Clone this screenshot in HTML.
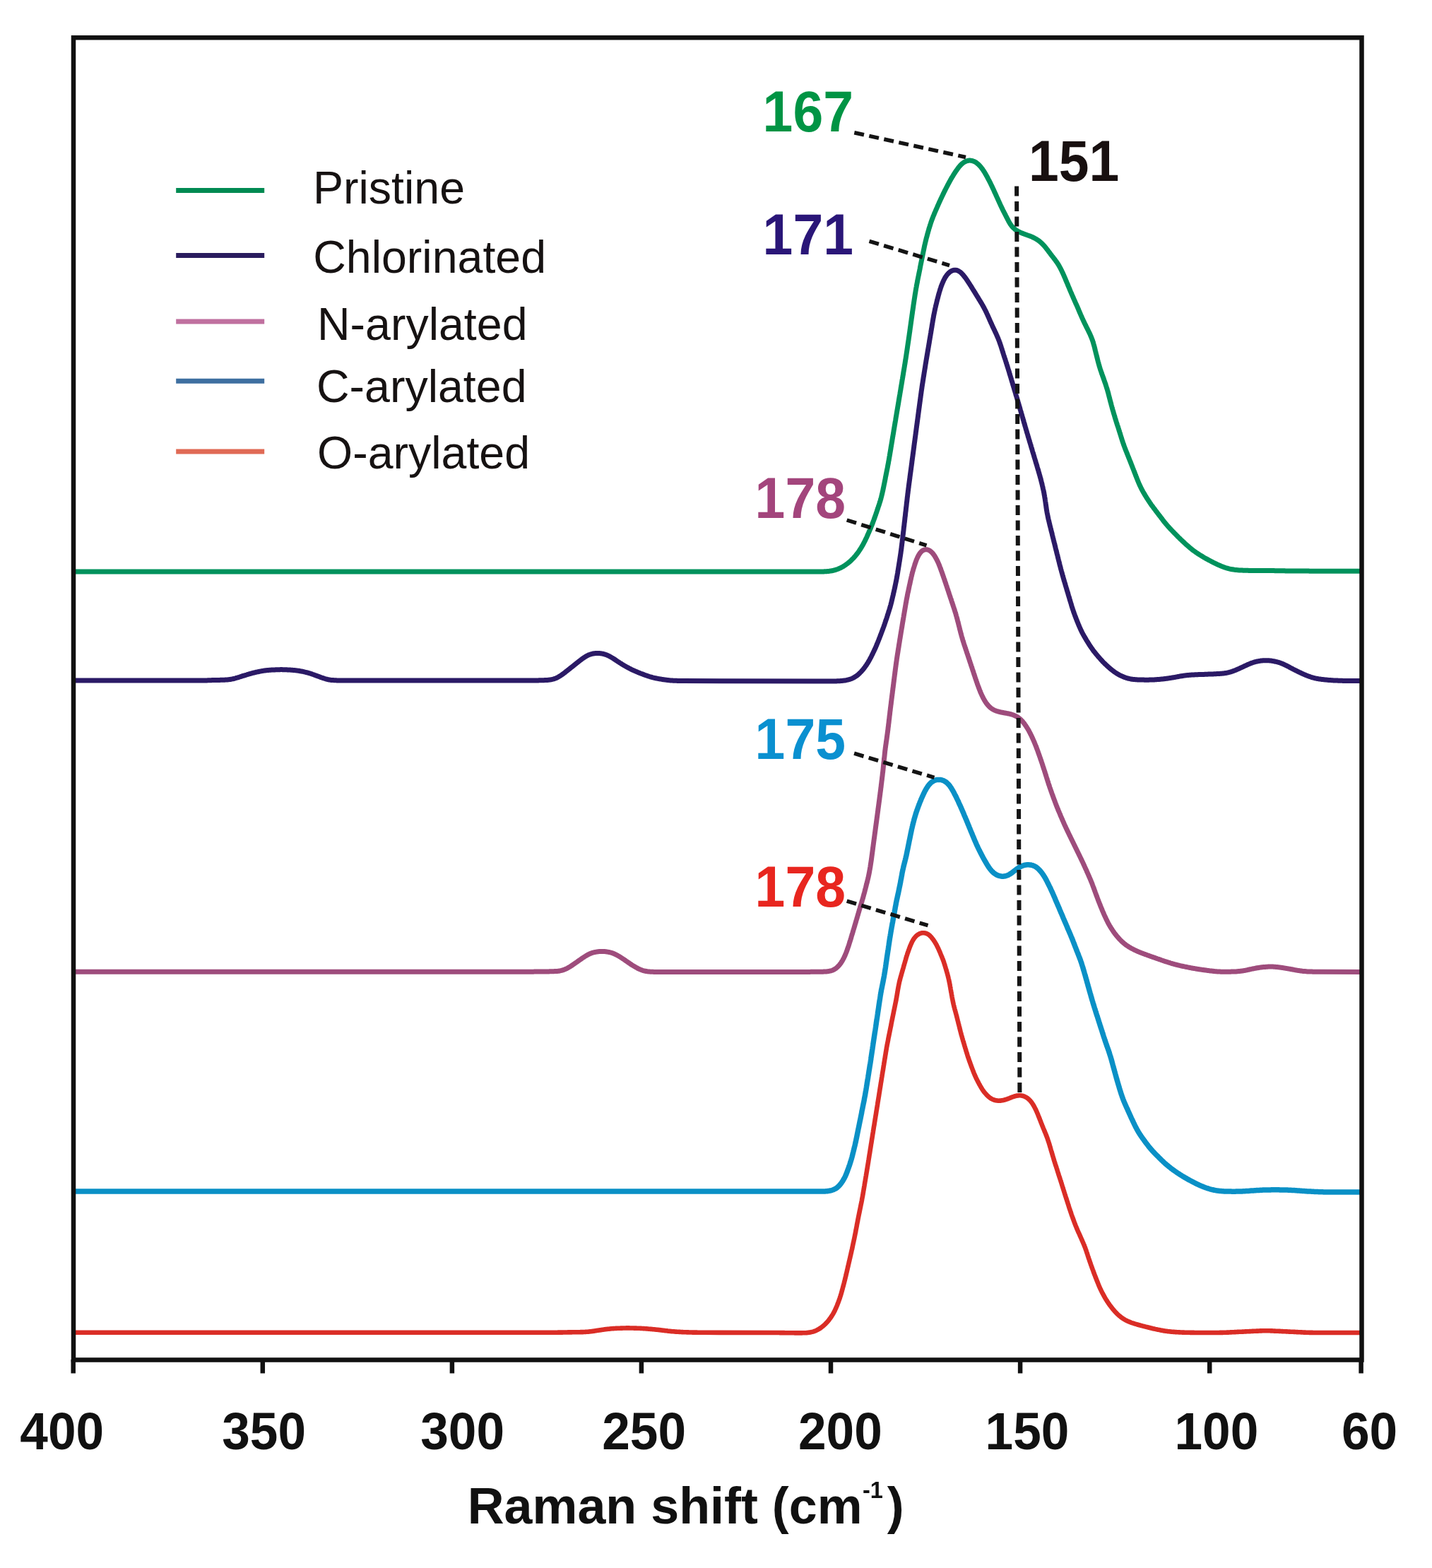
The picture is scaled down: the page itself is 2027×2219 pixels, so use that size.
<!DOCTYPE html>
<html><head><meta charset="utf-8"><title>Raman shift</title><style>html,body{margin:0;padding:0;background:#fff;overflow:hidden}svg{display:block}</style></head><body>
<svg width="2027" height="2219" viewBox="0 0 2027 2219">
<rect width="2027" height="2219" fill="#fff"/>
<path d="M104.0 809.0L1153.2 809.0L1153.7 809.0L1154.3 809.0L1154.9 809.0L1155.6 809.0L1156.3 809.0L1157.0 809.0L1157.8 809.0L1158.7 809.0L1159.5 809.0L1160.4 809.0L1161.3 809.0L1162.2 808.9L1163.2 808.9L1164.1 808.9L1165.1 808.9L1166.1 808.9L1167.0 808.8L1168.0 808.8L1169.0 808.7L1170.0 808.7L1171.0 808.6L1171.9 808.5L1172.9 808.4L1173.9 808.3L1174.9 808.1L1175.9 808.0L1176.8 807.8L1177.8 807.7L1178.8 807.5L1179.7 807.2L1180.7 807.0L1181.6 806.7L1182.6 806.5L1183.5 806.2L1184.4 805.8L1185.4 805.5L1186.3 805.2L1187.2 804.8L1188.1 804.4L1189.0 804.0L1189.9 803.6L1190.8 803.1L1191.6 802.7L1192.5 802.2L1193.4 801.7L1194.2 801.2L1195.0 800.7L1195.9 800.1L1196.7 799.6L1197.5 799.0L1198.3 798.4L1199.1 797.9L1199.9 797.3L1200.6 796.6L1201.4 796.0L1202.2 795.4L1202.9 794.7L1203.7 794.1L1204.4 793.4L1205.1 792.7L1205.8 792.0L1206.5 791.3L1207.2 790.6L1207.9 789.9L1208.6 789.2L1209.2 788.4L1209.9 787.7L1210.5 787.0L1211.2 786.2L1211.8 785.4L1212.4 784.6L1213.0 783.9L1213.6 783.1L1214.2 782.3L1214.8 781.5L1215.4 780.6L1215.9 779.8L1216.5 779.0L1217.0 778.2L1217.6 777.3L1218.1 776.5L1218.6 775.6L1219.2 774.8L1219.7 773.9L1220.2 773.1L1220.7 772.2L1221.2 771.4L1221.7 770.5L1222.1 769.6L1222.6 768.7L1223.1 767.8L1223.5 767.0L1224.0 766.1L1224.4 765.2L1224.9 764.3L1225.3 763.4L1225.7 762.5L1226.1 761.6L1226.6 760.7L1227.0 759.8L1227.4 758.9L1227.8 757.9L1228.2 757.0L1228.6 756.1L1229.0 755.2L1229.4 754.3L1229.8 753.4L1230.2 752.5L1230.6 751.5L1231.0 750.6L1231.4 749.7L1231.8 748.8L1232.2 747.9L1232.6 746.9L1232.9 746.0L1233.3 745.1L1233.7 744.2L1234.1 743.2L1234.4 742.3L1234.8 741.4L1235.2 740.4L1235.5 739.5L1235.9 738.6L1236.2 737.6L1236.6 736.7L1236.9 735.8L1237.3 734.8L1237.6 733.9L1237.9 732.9L1238.3 732.0L1238.6 731.0L1238.9 730.1L1239.3 729.2L1239.6 728.2L1239.9 727.3L1240.2 726.3L1240.6 725.4L1240.9 724.4L1241.2 723.5L1241.5 722.5L1241.8 721.6L1242.2 720.6L1242.5 719.7L1242.8 718.7L1243.1 717.8L1243.4 716.8L1243.7 715.9L1244.1 715.0L1244.4 714.0L1244.7 713.0L1245.0 712.1L1245.3 711.1L1245.6 710.2L1245.9 709.2L1246.2 708.3L1246.4 707.3L1246.7 706.4L1247.0 705.4L1247.2 704.4L1247.5 703.5L1247.7 702.5L1248.0 701.5L1248.2 700.6L1248.5 699.6L1248.7 698.6L1248.9 697.7L1249.1 696.7L1249.3 695.7L1249.6 694.7L1249.8 693.8L1250.0 692.8L1250.2 691.8L1250.4 690.8L1250.6 689.8L1250.8 688.9L1251.0 687.9L1251.2 686.9L1251.4 685.9L1251.6 684.9L1251.8 684.0L1252.0 683.0L1252.2 682.0L1252.4 681.0L1252.6 680.0L1252.8 679.1L1253.0 678.1L1253.2 677.1L1253.3 676.1L1253.5 675.1L1253.7 674.2L1253.9 673.2L1254.1 672.2L1254.3 671.2L1254.5 670.2L1254.7 669.3L1254.9 668.3L1255.1 667.3L1255.3 666.3L1255.5 665.3L1255.7 664.3L1255.9 663.4L1256.1 662.4L1256.3 661.4L1256.5 660.4L1256.6 659.4L1256.8 658.5L1257.0 657.5L1257.2 656.5L1257.4 655.5L1257.6 654.5L1257.7 653.5L1257.9 652.6L1258.1 651.6L1258.3 650.6L1258.4 649.6L1258.6 648.6L1258.8 647.6L1258.9 646.6L1259.1 645.7L1259.3 644.7L1259.4 643.7L1259.6 642.7L1259.8 641.7L1259.9 640.7L1260.1 639.7L1260.3 638.8L1260.4 637.8L1260.6 636.8L1260.8 635.8L1260.9 634.8L1261.1 633.8L1261.2 632.8L1261.4 631.8L1261.6 630.9L1261.7 629.9L1261.9 628.9L1262.1 627.9L1262.2 626.9L1262.4 625.9L1262.6 624.9L1262.7 624.0L1262.9 623.0L1263.0 622.0L1263.2 621.0L1263.4 620.0L1263.5 619.0L1263.7 618.0L1263.9 617.1L1264.0 616.1L1264.2 615.1L1264.4 614.1L1264.5 613.1L1264.7 612.1L1264.9 611.1L1265.0 610.1L1265.2 609.2L1265.3 608.2L1265.5 607.2L1265.7 606.2L1265.8 605.2L1266.0 604.2L1266.2 603.2L1266.3 602.3L1266.5 601.3L1266.7 600.3L1266.8 599.3L1267.0 598.3L1267.2 597.3L1267.3 596.3L1267.5 595.4L1267.7 594.4L1267.8 593.4L1268.0 592.4L1268.1 591.4L1268.3 590.4L1268.5 589.4L1268.6 588.4L1268.8 587.5L1269.0 586.5L1269.1 585.5L1269.3 584.5L1269.5 583.5L1269.6 582.5L1269.8 581.5L1270.0 580.6L1270.1 579.6L1270.3 578.6L1270.5 577.6L1270.6 576.6L1270.8 575.6L1271.0 574.6L1271.1 573.7L1271.3 572.7L1271.5 571.7L1271.6 570.7L1271.8 569.7L1272.0 568.7L1272.1 567.7L1272.3 566.8L1272.4 565.8L1272.6 564.8L1272.8 563.8L1272.9 562.8L1273.1 561.8L1273.3 560.8L1273.4 559.8L1273.6 558.9L1273.8 557.9L1273.9 556.9L1274.1 555.9L1274.3 554.9L1274.4 553.9L1274.6 552.9L1274.8 552.0L1274.9 551.0L1275.1 550.0L1275.2 549.0L1275.4 548.0L1275.6 547.0L1275.7 546.0L1275.9 545.0L1276.1 544.1L1276.2 543.1L1276.4 542.1L1276.6 541.1L1276.7 540.1L1276.9 539.1L1277.0 538.1L1277.2 537.2L1277.4 536.2L1277.5 535.2L1277.7 534.2L1277.9 533.2L1278.0 532.2L1278.2 531.2L1278.4 530.3L1278.5 529.3L1278.7 528.3L1278.8 527.3L1279.0 526.3L1279.2 525.3L1279.3 524.3L1279.5 523.3L1279.7 522.4L1279.8 521.4L1280.0 520.4L1280.2 519.4L1280.3 518.4L1280.5 517.4L1280.6 516.4L1280.8 515.5L1281.0 514.5L1281.1 513.5L1281.3 512.5L1281.4 511.5L1281.6 510.5L1281.7 509.5L1281.9 508.5L1282.1 507.6L1282.2 506.6L1282.4 505.6L1282.5 504.6L1282.7 503.6L1282.8 502.6L1283.0 501.6L1283.1 500.6L1283.3 499.6L1283.4 498.7L1283.6 497.7L1283.7 496.7L1283.9 495.7L1284.0 494.7L1284.2 493.7L1284.3 492.7L1284.5 491.7L1284.6 490.7L1284.7 489.8L1284.9 488.8L1285.0 487.8L1285.2 486.8L1285.3 485.8L1285.5 484.8L1285.6 483.8L1285.8 482.8L1285.9 481.8L1286.1 480.9L1286.2 479.9L1286.3 478.9L1286.5 477.9L1286.6 476.9L1286.8 475.9L1286.9 474.9L1287.1 473.9L1287.2 472.9L1287.3 471.9L1287.5 471.0L1287.6 470.0L1287.8 469.0L1287.9 468.0L1288.0 467.0L1288.2 466.0L1288.3 465.0L1288.4 464.0L1288.6 463.0L1288.7 462.0L1288.9 461.0L1289.0 460.1L1289.1 459.1L1289.3 458.1L1289.4 457.1L1289.5 456.1L1289.7 455.1L1289.8 454.1L1290.0 453.1L1290.1 452.1L1290.2 451.1L1290.4 450.2L1290.5 449.2L1290.7 448.2L1290.8 447.2L1290.9 446.2L1291.1 445.2L1291.2 444.2L1291.4 443.2L1291.5 442.2L1291.6 441.2L1291.8 440.3L1291.9 439.3L1292.1 438.3L1292.2 437.3L1292.4 436.3L1292.5 435.3L1292.7 434.3L1292.8 433.3L1292.9 432.3L1293.1 431.3L1293.2 430.4L1293.4 429.4L1293.5 428.4L1293.7 427.4L1293.8 426.4L1294.0 425.4L1294.1 424.4L1294.3 423.4L1294.4 422.4L1294.6 421.5L1294.7 420.5L1294.9 419.5L1295.0 418.5L1295.2 417.5L1295.3 416.5L1295.5 415.5L1295.7 414.5L1295.8 413.6L1296.0 412.6L1296.1 411.6L1296.3 410.6L1296.5 409.6L1296.6 408.6L1296.8 407.6L1297.0 406.7L1297.2 405.7L1297.3 404.7L1297.5 403.7L1297.7 402.7L1297.9 401.7L1298.1 400.8L1298.3 399.8L1298.5 398.8L1298.6 397.8L1298.8 396.8L1299.0 395.9L1299.2 394.9L1299.4 393.9L1299.6 392.9L1299.8 391.9L1300.0 390.9L1300.2 390.0L1300.4 389.0L1300.6 388.0L1300.8 387.0L1301.0 386.0L1301.2 385.1L1301.4 384.1L1301.6 383.1L1301.8 382.1L1302.0 381.1L1302.2 380.2L1302.3 379.2L1302.5 378.2L1302.7 377.2L1302.9 376.2L1303.1 375.3L1303.3 374.3L1303.5 373.3L1303.7 372.3L1303.9 371.3L1304.1 370.4L1304.3 369.4L1304.5 368.4L1304.7 367.4L1304.9 366.4L1305.1 365.4L1305.3 364.5L1305.5 363.5L1305.7 362.5L1305.9 361.5L1306.1 360.5L1306.3 359.6L1306.5 358.6L1306.7 357.6L1306.9 356.6L1307.1 355.6L1307.3 354.7L1307.5 353.7L1307.7 352.7L1307.9 351.7L1308.1 350.8L1308.3 349.8L1308.5 348.8L1308.7 347.8L1308.9 346.8L1309.2 345.9L1309.4 344.9L1309.6 343.9L1309.8 343.0L1310.1 342.0L1310.3 341.0L1310.5 340.0L1310.8 339.1L1311.0 338.1L1311.3 337.1L1311.5 336.2L1311.8 335.2L1312.1 334.2L1312.3 333.3L1312.6 332.3L1312.8 331.3L1313.1 330.4L1313.4 329.4L1313.6 328.5L1313.9 327.5L1314.2 326.5L1314.5 325.6L1314.7 324.6L1315.0 323.6L1315.3 322.7L1315.6 321.7L1315.9 320.8L1316.2 319.8L1316.5 318.9L1316.8 317.9L1317.1 317.0L1317.4 316.0L1317.7 315.1L1318.0 314.1L1318.4 313.2L1318.7 312.2L1319.0 311.3L1319.4 310.4L1319.7 309.4L1320.1 308.5L1320.5 307.6L1320.8 306.6L1321.2 305.7L1321.6 304.8L1322.0 303.9L1322.3 302.9L1322.7 302.0L1323.1 301.1L1323.5 300.2L1323.9 299.3L1324.3 298.3L1324.7 297.4L1325.1 296.5L1325.5 295.6L1325.9 294.7L1326.3 293.8L1326.7 292.8L1327.1 291.9L1327.5 291.0L1327.9 290.1L1328.3 289.2L1328.7 288.3L1329.1 287.4L1329.5 286.5L1329.9 285.5L1330.4 284.6L1330.8 283.7L1331.2 282.8L1331.6 281.9L1332.0 281.0L1332.5 280.1L1332.9 279.2L1333.3 278.3L1333.7 277.4L1334.2 276.5L1334.6 275.6L1335.0 274.7L1335.5 273.8L1335.9 272.9L1336.3 272.0L1336.8 271.1L1337.2 270.2L1337.7 269.3L1338.1 268.4L1338.6 267.5L1339.0 266.6L1339.5 265.7L1339.9 264.8L1340.4 264.0L1340.9 263.1L1341.3 262.2L1341.8 261.3L1342.3 260.4L1342.8 259.5L1343.2 258.7L1343.7 257.8L1344.2 256.9L1344.7 256.0L1345.2 255.2L1345.6 254.3L1346.1 253.4L1346.6 252.6L1347.1 251.7L1347.6 250.8L1348.2 250.0L1348.7 249.1L1349.2 248.3L1349.7 247.4L1350.2 246.6L1350.8 245.7L1351.3 244.9L1351.9 244.1L1352.4 243.2L1353.0 242.4L1353.5 241.6L1354.1 240.8L1354.7 240.0L1355.3 239.2L1355.8 238.4L1356.4 237.6L1357.0 236.8L1357.7 236.0L1358.3 235.3L1358.9 234.6L1359.6 233.8L1360.2 233.2L1360.9 232.5L1361.6 231.9L1362.3 231.2L1363.1 230.7L1363.8 230.1L1364.6 229.6L1365.4 229.2L1366.2 228.7L1367.0 228.4L1367.8 228.0L1368.6 227.8L1369.5 227.5L1370.3 227.3L1371.2 227.2L1372.1 227.1L1372.9 227.1L1373.8 227.2L1374.7 227.3L1375.5 227.4L1376.4 227.6L1377.2 227.9L1378.1 228.2L1378.9 228.5L1379.7 228.9L1380.5 229.3L1381.3 229.8L1382.1 230.3L1382.8 230.9L1383.5 231.5L1384.3 232.1L1385.0 232.7L1385.7 233.4L1386.3 234.1L1387.0 234.8L1387.6 235.5L1388.3 236.3L1388.9 237.0L1389.5 237.8L1390.1 238.6L1390.7 239.4L1391.2 240.2L1391.8 241.0L1392.3 241.8L1392.9 242.7L1393.4 243.5L1393.9 244.4L1394.4 245.2L1394.9 246.1L1395.4 246.9L1395.9 247.8L1396.4 248.7L1396.9 249.6L1397.4 250.4L1397.8 251.3L1398.3 252.2L1398.8 253.1L1399.2 254.0L1399.7 254.8L1400.2 255.7L1400.6 256.6L1401.1 257.5L1401.5 258.4L1402.0 259.3L1402.4 260.2L1402.8 261.1L1403.3 262.0L1403.7 262.9L1404.1 263.8L1404.6 264.7L1405.0 265.6L1405.4 266.5L1405.8 267.4L1406.3 268.3L1406.7 269.2L1407.1 270.2L1407.5 271.1L1407.9 272.0L1408.3 272.9L1408.8 273.8L1409.2 274.7L1409.6 275.6L1410.0 276.5L1410.4 277.4L1410.8 278.3L1411.2 279.2L1411.7 280.2L1412.1 281.1L1412.5 282.0L1412.9 282.9L1413.3 283.8L1413.7 284.7L1414.1 285.6L1414.5 286.5L1415.0 287.4L1415.4 288.4L1415.8 289.3L1416.2 290.2L1416.6 291.1L1417.1 292.0L1417.5 292.9L1417.9 293.8L1418.4 294.7L1418.8 295.6L1419.2 296.5L1419.7 297.4L1420.1 298.3L1420.6 299.1L1421.0 300.0L1421.5 300.9L1421.9 301.8L1422.4 302.7L1422.9 303.6L1423.3 304.5L1423.8 305.4L1424.2 306.3L1424.7 307.1L1425.1 308.0L1425.6 308.9L1426.0 309.8L1426.5 310.7L1426.9 311.5L1427.4 312.4L1427.8 313.3L1428.3 314.1L1428.8 315.0L1429.3 315.8L1429.8 316.6L1430.3 317.5L1430.9 318.2L1431.4 319.0L1432.0 319.8L1432.6 320.5L1433.2 321.2L1433.9 321.9L1434.6 322.6L1435.3 323.2L1436.0 323.9L1436.7 324.5L1437.5 325.0L1438.3 325.6L1439.1 326.1L1439.9 326.6L1440.8 327.1L1441.6 327.6L1442.5 328.0L1443.4 328.5L1444.2 328.9L1445.1 329.3L1446.1 329.7L1447.0 330.1L1447.9 330.4L1448.8 330.8L1449.7 331.1L1450.7 331.5L1451.6 331.8L1452.5 332.1L1453.5 332.5L1454.4 332.8L1455.4 333.1L1456.3 333.5L1457.2 333.8L1458.1 334.2L1459.1 334.5L1460.0 334.9L1460.9 335.3L1461.8 335.7L1462.7 336.1L1463.6 336.6L1464.4 337.0L1465.3 337.5L1466.2 338.0L1467.0 338.5L1467.8 339.0L1468.7 339.5L1469.5 340.1L1470.3 340.7L1471.0 341.2L1471.8 341.9L1472.6 342.5L1473.3 343.1L1474.0 343.8L1474.8 344.5L1475.5 345.2L1476.2 345.9L1476.8 346.6L1477.5 347.3L1478.2 348.0L1478.8 348.8L1479.4 349.5L1480.1 350.3L1480.7 351.1L1481.3 351.9L1481.9 352.7L1482.5 353.4L1483.1 354.2L1483.7 355.0L1484.3 355.8L1484.9 356.6L1485.5 357.4L1486.1 358.2L1486.7 359.0L1487.3 359.8L1487.9 360.6L1488.5 361.4L1489.1 362.2L1489.8 363.0L1490.4 363.7L1491.0 364.5L1491.6 365.3L1492.2 366.1L1492.8 366.9L1493.4 367.7L1494.0 368.5L1494.6 369.3L1495.2 370.1L1495.7 370.9L1496.3 371.7L1496.8 372.5L1497.4 373.3L1497.9 374.2L1498.4 375.0L1498.9 375.9L1499.4 376.7L1499.9 377.6L1500.4 378.5L1500.9 379.3L1501.3 380.2L1501.8 381.1L1502.2 382.0L1502.7 382.9L1503.1 383.8L1503.5 384.7L1504.0 385.6L1504.4 386.5L1504.8 387.4L1505.2 388.3L1505.6 389.2L1506.0 390.2L1506.4 391.1L1506.8 392.0L1507.2 392.9L1507.6 393.8L1508.0 394.7L1508.4 395.7L1508.7 396.6L1509.1 397.5L1509.5 398.4L1509.9 399.4L1510.3 400.3L1510.7 401.2L1511.1 402.1L1511.4 403.0L1511.8 404.0L1512.2 404.9L1512.6 405.8L1513.0 406.7L1513.4 407.7L1513.8 408.6L1514.1 409.5L1514.5 410.4L1514.9 411.3L1515.3 412.3L1515.7 413.2L1516.1 414.1L1516.5 415.0L1516.9 415.9L1517.3 416.9L1517.7 417.8L1518.1 418.7L1518.5 419.6L1518.9 420.5L1519.3 421.4L1519.7 422.4L1520.1 423.3L1520.5 424.2L1520.9 425.1L1521.3 426.0L1521.7 426.9L1522.1 427.8L1522.5 428.7L1522.9 429.7L1523.4 430.6L1523.8 431.5L1524.2 432.4L1524.6 433.3L1525.0 434.2L1525.4 435.2L1525.8 436.1L1526.2 437.0L1526.6 437.9L1526.9 438.8L1527.3 439.7L1527.7 440.7L1528.1 441.6L1528.5 442.5L1528.9 443.4L1529.3 444.3L1529.7 445.3L1530.1 446.2L1530.5 447.1L1530.9 448.0L1531.3 448.9L1531.7 449.8L1532.1 450.7L1532.6 451.6L1533.0 452.6L1533.4 453.5L1533.8 454.4L1534.2 455.3L1534.7 456.2L1535.1 457.1L1535.5 458.0L1536.0 458.9L1536.4 459.8L1536.9 460.7L1537.3 461.6L1537.7 462.5L1538.2 463.4L1538.6 464.2L1539.1 465.1L1539.5 466.0L1540.0 466.9L1540.4 467.8L1540.8 468.7L1541.3 469.6L1541.7 470.5L1542.1 471.4L1542.6 472.3L1543.0 473.2L1543.4 474.1L1543.8 475.1L1544.2 476.0L1544.6 476.9L1544.9 477.8L1545.3 478.7L1545.7 479.7L1546.0 480.6L1546.3 481.5L1546.7 482.5L1547.0 483.4L1547.3 484.4L1547.6 485.3L1547.8 486.3L1548.1 487.2L1548.4 488.2L1548.6 489.1L1548.9 490.1L1549.2 491.1L1549.4 492.0L1549.7 493.0L1549.9 494.0L1550.1 494.9L1550.4 495.9L1550.6 496.9L1550.9 497.9L1551.1 498.8L1551.3 499.8L1551.6 500.8L1551.8 501.7L1552.1 502.7L1552.3 503.7L1552.5 504.6L1552.8 505.6L1553.0 506.6L1553.3 507.6L1553.5 508.5L1553.8 509.5L1554.0 510.5L1554.3 511.4L1554.5 512.4L1554.8 513.4L1555.1 514.3L1555.3 515.3L1555.6 516.2L1555.9 517.2L1556.1 518.2L1556.4 519.1L1556.7 520.1L1557.0 521.0L1557.3 522.0L1557.6 522.9L1557.9 523.9L1558.3 524.8L1558.6 525.8L1558.9 526.7L1559.2 527.7L1559.5 528.6L1559.9 529.6L1560.2 530.5L1560.5 531.4L1560.9 532.4L1561.2 533.3L1561.6 534.3L1561.9 535.2L1562.2 536.1L1562.6 537.1L1562.9 538.0L1563.2 539.0L1563.6 539.9L1563.9 540.9L1564.2 541.8L1564.6 542.7L1564.9 543.7L1565.2 544.6L1565.5 545.6L1565.8 546.5L1566.1 547.5L1566.4 548.4L1566.7 549.4L1567.0 550.3L1567.3 551.3L1567.6 552.3L1567.9 553.2L1568.1 554.2L1568.4 555.1L1568.7 556.1L1568.9 557.1L1569.2 558.0L1569.4 559.0L1569.7 560.0L1569.9 560.9L1570.2 561.9L1570.4 562.9L1570.7 563.8L1570.9 564.8L1571.2 565.8L1571.4 566.7L1571.7 567.7L1571.9 568.7L1572.2 569.6L1572.5 570.6L1572.7 571.6L1573.0 572.5L1573.2 573.5L1573.5 574.5L1573.8 575.4L1574.0 576.4L1574.3 577.4L1574.6 578.3L1574.8 579.3L1575.1 580.2L1575.4 581.2L1575.7 582.2L1576.0 583.1L1576.2 584.1L1576.5 585.0L1576.8 586.0L1577.1 587.0L1577.4 587.9L1577.7 588.9L1578.0 589.8L1578.2 590.8L1578.5 591.7L1578.8 592.7L1579.1 593.7L1579.4 594.6L1579.7 595.6L1580.0 596.5L1580.3 597.5L1580.6 598.4L1580.9 599.4L1581.2 600.3L1581.5 601.3L1581.8 602.2L1582.2 603.2L1582.5 604.1L1582.8 605.1L1583.1 606.0L1583.4 607.0L1583.7 608.0L1584.0 608.9L1584.3 609.9L1584.6 610.8L1584.9 611.8L1585.2 612.7L1585.5 613.7L1585.8 614.6L1586.1 615.6L1586.4 616.5L1586.7 617.5L1587.0 618.4L1587.3 619.4L1587.6 620.4L1587.9 621.3L1588.2 622.3L1588.5 623.2L1588.8 624.2L1589.1 625.1L1589.4 626.1L1589.8 627.0L1590.1 627.9L1590.4 628.9L1590.7 629.8L1591.1 630.8L1591.4 631.7L1591.8 632.6L1592.1 633.6L1592.5 634.5L1592.8 635.4L1593.2 636.4L1593.6 637.3L1593.9 638.2L1594.3 639.2L1594.7 640.1L1595.0 641.0L1595.4 642.0L1595.8 642.9L1596.2 643.8L1596.5 644.7L1596.9 645.7L1597.3 646.6L1597.6 647.5L1598.0 648.4L1598.4 649.4L1598.8 650.3L1599.1 651.2L1599.5 652.2L1599.9 653.1L1600.2 654.0L1600.6 654.9L1601.0 655.9L1601.3 656.8L1601.7 657.7L1602.1 658.7L1602.4 659.6L1602.8 660.5L1603.2 661.5L1603.5 662.4L1603.9 663.3L1604.3 664.3L1604.6 665.2L1605.0 666.1L1605.4 667.1L1605.7 668.0L1606.1 668.9L1606.4 669.8L1606.8 670.8L1607.2 671.7L1607.5 672.6L1607.9 673.6L1608.3 674.5L1608.6 675.4L1609.0 676.4L1609.4 677.3L1609.7 678.2L1610.1 679.1L1610.5 680.1L1610.9 681.0L1611.2 681.9L1611.6 682.8L1612.0 683.8L1612.4 684.7L1612.8 685.6L1613.2 686.5L1613.6 687.4L1614.1 688.3L1614.5 689.2L1614.9 690.1L1615.4 691.0L1615.8 691.9L1616.3 692.8L1616.8 693.6L1617.2 694.5L1617.7 695.4L1618.2 696.3L1618.7 697.1L1619.2 698.0L1619.7 698.9L1620.2 699.7L1620.7 700.6L1621.2 701.4L1621.8 702.3L1622.3 703.1L1622.8 704.0L1623.3 704.8L1623.9 705.7L1624.4 706.5L1625.0 707.3L1625.5 708.2L1626.1 709.0L1626.6 709.8L1627.2 710.7L1627.7 711.5L1628.3 712.3L1628.9 713.1L1629.4 714.0L1630.0 714.8L1630.6 715.6L1631.2 716.4L1631.8 717.2L1632.4 718.0L1633.0 718.8L1633.6 719.6L1634.2 720.4L1634.8 721.2L1635.4 722.0L1636.0 722.8L1636.6 723.6L1637.2 724.4L1637.8 725.2L1638.4 726.0L1639.0 726.8L1639.6 727.5L1640.2 728.3L1640.8 729.1L1641.4 729.9L1642.1 730.7L1642.7 731.5L1643.3 732.3L1643.9 733.1L1644.5 733.9L1645.1 734.7L1645.7 735.5L1646.3 736.3L1646.9 737.1L1647.5 737.9L1648.1 738.7L1648.8 739.4L1649.4 740.2L1650.0 741.0L1650.7 741.7L1651.3 742.5L1652.0 743.3L1652.6 744.0L1653.3 744.8L1653.9 745.5L1654.6 746.2L1655.3 747.0L1656.0 747.7L1656.6 748.4L1657.3 749.2L1658.0 749.9L1658.7 750.6L1659.4 751.3L1660.1 752.1L1660.8 752.8L1661.5 753.5L1662.2 754.2L1662.9 754.9L1663.6 755.6L1664.3 756.3L1665.0 757.1L1665.7 757.8L1666.4 758.5L1667.1 759.2L1667.8 759.9L1668.5 760.6L1669.2 761.3L1670.0 762.0L1670.7 762.7L1671.4 763.4L1672.1 764.1L1672.8 764.8L1673.5 765.5L1674.3 766.2L1675.0 766.8L1675.7 767.5L1676.5 768.2L1677.2 768.9L1677.9 769.6L1678.7 770.2L1679.4 770.9L1680.2 771.6L1680.9 772.2L1681.7 772.9L1682.4 773.5L1683.2 774.2L1683.9 774.8L1684.7 775.5L1685.5 776.1L1686.2 776.7L1687.0 777.3L1687.8 778.0L1688.6 778.6L1689.4 779.2L1690.2 779.8L1691.0 780.4L1691.8 780.9L1692.6 781.5L1693.5 782.1L1694.3 782.6L1695.1 783.2L1695.9 783.7L1696.8 784.3L1697.6 784.8L1698.5 785.4L1699.3 785.9L1700.2 786.4L1701.0 786.9L1701.9 787.4L1702.7 788.0L1703.6 788.5L1704.4 789.0L1705.3 789.5L1706.2 790.0L1707.0 790.5L1707.9 790.9L1708.8 791.4L1709.7 791.9L1710.5 792.4L1711.4 792.9L1712.3 793.3L1713.2 793.8L1714.1 794.3L1715.0 794.7L1715.9 795.2L1716.7 795.6L1717.6 796.1L1718.5 796.5L1719.4 797.0L1720.3 797.4L1721.2 797.8L1722.1 798.3L1723.0 798.7L1723.9 799.1L1724.8 799.5L1725.8 799.9L1726.7 800.3L1727.6 800.7L1728.5 801.1L1729.4 801.5L1730.4 801.8L1731.3 802.2L1732.2 802.5L1733.2 802.9L1734.1 803.2L1735.0 803.5L1736.0 803.8L1736.9 804.1L1737.9 804.3L1738.9 804.6L1739.8 804.8L1740.8 805.1L1741.7 805.3L1742.7 805.5L1743.7 805.7L1744.7 805.8L1745.7 806.0L1746.6 806.1L1747.6 806.3L1748.6 806.4L1749.6 806.5L1750.6 806.6L1751.6 806.7L1752.6 806.8L1753.6 806.9L1754.6 806.9L1755.6 807.0L1756.6 807.0L1757.6 807.1L1758.6 807.1L1759.5 807.2L1760.5 807.2L1761.5 807.3L1762.5 807.3L1763.5 807.3L1764.5 807.3L1765.5 807.3L1766.5 807.3L1767.5 807.4L1768.5 807.4L1769.5 807.4L1770.5 807.4L1771.5 807.4L1772.5 807.4L1773.5 807.4L1774.5 807.4L1775.5 807.4L1776.5 807.4L1777.5 807.4L1778.5 807.4L1779.5 807.4L1780.5 807.4L1781.5 807.4L1782.5 807.4L1783.5 807.4L1784.5 807.4L1785.5 807.4L1786.5 807.4L1787.5 807.4L1788.5 807.4L1789.5 807.5L1790.5 807.5L1791.5 807.5L1792.5 807.5L1793.5 807.5L1794.5 807.5L1795.5 807.5L1796.5 807.5L1797.5 807.6L1798.5 807.6L1799.5 807.6L1800.5 807.6L1801.5 807.6L1802.5 807.6L1803.5 807.6L1804.5 807.7L1805.5 807.7L1806.5 807.7L1807.5 807.7L1808.5 807.7L1809.5 807.7L1810.5 807.7L1811.5 807.8L1812.5 807.8L1813.5 807.8L1814.5 807.8L1815.5 807.8L1816.5 807.8L1817.5 807.8L1818.5 807.8L1819.5 807.9L1820.5 807.9L1821.5 807.9L1822.5 807.9L1823.5 807.9L1824.5 807.9L1825.5 807.9L1826.5 807.9L1827.5 808.0L1828.5 808.0L1829.5 808.0L1830.5 808.0L1831.5 808.0L1832.5 808.0L1833.5 808.0L1834.5 808.0L1835.5 808.0L1836.5 808.0L1837.5 808.0L1838.5 808.1L1839.5 808.1L1840.5 808.1L1841.5 808.1L1842.5 808.1L1843.5 808.1L1844.5 808.1L1845.5 808.1L1846.5 808.1L1847.5 808.1L1848.5 808.1L1849.5 808.1L1850.5 808.1L1851.5 808.1L1852.5 808.1L1853.5 808.2L1854.5 808.2L1855.5 808.2L1856.5 808.2L1857.5 808.2L1858.5 808.2L1859.5 808.2L1860.5 808.2L1861.5 808.2L1862.5 808.2L1863.5 808.2L1864.5 808.2L1865.5 808.2L1866.5 808.2L1867.5 808.2L1868.5 808.2L1869.5 808.2L1870.5 808.2L1871.5 808.2L1872.5 808.2L1873.5 808.2L1874.5 808.2L1875.5 808.2L1876.5 808.2L1877.5 808.2L1878.5 808.2L1879.5 808.2L1880.5 808.3L1881.5 808.3L1882.5 808.3L1883.5 808.3L1884.5 808.3L1885.4 808.3L1886.4 808.3L1887.3 808.3L1888.3 808.3L1889.2 808.3L1890.1 808.3L1890.9 808.3L1891.8 808.3L1892.6 808.3L1893.4 808.3L1894.1 808.3L1894.8 808.3L1895.4 808.3L1896.0 808.3L1896.6 808.3L1927.0 808.3" fill="none" stroke="#00925c" stroke-width="7.0" stroke-linejoin="round" stroke-linecap="butt"/>
<path d="M104.0 963.0L292.4 962.9L292.9 962.9L293.5 962.9L294.2 962.8L294.9 962.8L295.7 962.8L296.5 962.8L297.4 962.7L298.2 962.7L299.2 962.7L300.1 962.6L301.1 962.6L302.0 962.6L303.0 962.6L304.0 962.5L305.0 962.5L306.0 962.5L307.0 962.5L308.0 962.4L309.0 962.4L310.0 962.4L311.0 962.4L312.0 962.3L313.0 962.3L314.0 962.3L315.0 962.3L316.0 962.2L317.0 962.2L318.0 962.2L319.0 962.1L320.0 962.1L321.0 962.0L322.0 961.9L322.9 961.8L323.9 961.7L324.9 961.6L325.9 961.5L326.9 961.3L327.8 961.1L328.8 960.9L329.8 960.7L330.7 960.5L331.7 960.3L332.7 960.0L333.6 959.7L334.6 959.4L335.5 959.2L336.5 958.9L337.4 958.6L338.4 958.3L339.3 958.0L340.3 957.7L341.2 957.4L342.2 957.1L343.1 956.7L344.1 956.4L345.1 956.2L346.0 955.9L347.0 955.6L347.9 955.3L348.9 955.0L349.8 954.7L350.8 954.4L351.8 954.1L352.7 953.8L353.7 953.6L354.6 953.3L355.6 953.0L356.6 952.8L357.5 952.5L358.5 952.2L359.5 952.0L360.4 951.8L361.4 951.5L362.4 951.3L363.3 951.1L364.3 950.9L365.3 950.7L366.3 950.5L367.3 950.3L368.2 950.1L369.2 949.9L370.2 949.7L371.2 949.6L372.2 949.4L373.2 949.2L374.1 949.1L375.1 949.0L376.1 948.8L377.1 948.7L378.1 948.6L379.1 948.5L380.1 948.4L381.1 948.3L382.1 948.3L383.1 948.2L384.1 948.1L385.1 948.1L386.1 948.0L387.1 948.0L388.1 947.9L389.1 947.9L390.1 947.8L391.1 947.8L392.1 947.7L393.1 947.7L394.1 947.7L395.1 947.7L396.1 947.7L397.1 947.6L398.1 947.6L399.1 947.6L400.1 947.7L401.1 947.7L402.0 947.7L403.0 947.7L404.0 947.8L405.0 947.8L406.0 947.8L407.0 947.9L408.0 947.9L409.0 948.0L410.0 948.1L411.0 948.1L412.0 948.2L413.0 948.2L414.0 948.3L415.0 948.4L416.0 948.5L417.0 948.6L418.0 948.7L419.0 948.8L420.0 948.9L421.0 949.1L422.0 949.2L422.9 949.3L423.9 949.5L424.9 949.7L425.9 949.9L426.9 950.0L427.9 950.2L428.8 950.4L429.8 950.6L430.8 950.9L431.8 951.1L432.7 951.3L433.7 951.6L434.7 951.8L435.6 952.1L436.6 952.3L437.5 952.6L438.5 952.9L439.4 953.2L440.4 953.5L441.3 953.9L442.3 954.2L443.2 954.5L444.2 954.8L445.1 955.2L446.0 955.5L447.0 955.9L447.9 956.2L448.8 956.6L449.8 956.9L450.7 957.2L451.7 957.6L452.6 957.9L453.5 958.3L454.5 958.6L455.4 959.0L456.4 959.3L457.3 959.6L458.2 959.9L459.2 960.2L460.1 960.5L461.1 960.8L462.0 961.1L463.0 961.3L463.9 961.6L464.9 961.8L465.9 962.0L466.9 962.1L467.8 962.3L468.8 962.4L469.8 962.5L470.8 962.6L471.8 962.6L472.8 962.7L473.8 962.8L474.8 962.8L475.8 962.8L476.8 962.9L477.8 962.9L478.8 962.9L479.7 962.9L480.7 963.0L481.7 963.0L482.7 963.0L483.7 963.0L484.7 963.0L485.7 963.0L486.7 963.0L487.7 963.0L488.7 963.0L489.6 963.0L490.6 963.1L491.5 963.1L492.4 963.1L493.3 963.1L494.1 963.1L494.9 963.1L495.6 963.1L496.3 963.1L496.9 963.1L497.5 963.1L752.4 963.0L752.9 963.0L753.5 963.0L754.2 963.0L754.9 963.0L755.7 962.9L756.5 962.9L757.4 962.9L758.3 962.9L759.2 962.9L760.1 962.9L761.1 962.9L762.0 962.9L763.0 962.8L764.0 962.8L765.0 962.8L766.0 962.8L767.0 962.8L768.0 962.7L769.0 962.7L770.0 962.7L771.0 962.6L772.0 962.6L773.0 962.5L774.0 962.4L775.0 962.4L776.0 962.3L776.9 962.2L777.9 962.1L778.9 961.9L779.9 961.8L780.8 961.6L781.8 961.4L782.7 961.2L783.7 960.9L784.6 960.6L785.5 960.3L786.4 960.0L787.3 959.6L788.2 959.2L789.1 958.7L789.9 958.3L790.8 957.8L791.6 957.3L792.5 956.8L793.3 956.2L794.1 955.7L795.0 955.1L795.8 954.5L796.6 954.0L797.4 953.4L798.2 952.8L799.0 952.2L799.8 951.6L800.6 950.9L801.4 950.3L802.1 949.7L802.9 949.1L803.7 948.5L804.5 947.9L805.3 947.2L806.1 946.6L806.8 946.0L807.6 945.4L808.4 944.7L809.2 944.1L810.0 943.5L810.8 942.9L811.5 942.3L812.3 941.6L813.1 941.0L813.9 940.4L814.7 939.8L815.4 939.1L816.2 938.5L817.0 937.9L817.8 937.3L818.6 936.6L819.4 936.0L820.2 935.4L820.9 934.8L821.7 934.2L822.5 933.6L823.3 933.0L824.1 932.4L824.9 931.8L825.8 931.2L826.6 930.7L827.4 930.1L828.2 929.6L829.1 929.1L829.9 928.6L830.8 928.1L831.6 927.7L832.5 927.2L833.4 926.8L834.3 926.5L835.2 926.2L836.1 925.9L837.1 925.6L838.0 925.4L839.0 925.1L839.9 925.0L840.9 924.8L841.9 924.7L842.8 924.6L843.8 924.5L844.8 924.5L845.8 924.5L846.8 924.5L847.8 924.5L848.7 924.6L849.7 924.7L850.7 924.8L851.7 924.9L852.6 925.1L853.6 925.3L854.5 925.5L855.5 925.8L856.4 926.1L857.3 926.4L858.3 926.7L859.2 927.1L860.1 927.5L861.0 927.9L861.8 928.3L862.7 928.8L863.6 929.2L864.5 929.7L865.3 930.2L866.2 930.7L867.0 931.3L867.9 931.8L868.7 932.3L869.5 932.9L870.4 933.4L871.2 934.0L872.0 934.5L872.9 935.1L873.7 935.6L874.5 936.2L875.4 936.7L876.2 937.3L877.0 937.8L877.9 938.4L878.7 938.9L879.6 939.4L880.4 940.0L881.3 940.5L882.1 941.0L883.0 941.5L883.8 942.0L884.7 942.5L885.6 943.0L886.4 943.5L887.3 944.0L888.2 944.5L889.1 944.9L890.0 945.4L890.8 945.9L891.7 946.3L892.6 946.8L893.5 947.2L894.4 947.7L895.3 948.1L896.2 948.5L897.1 948.9L898.0 949.3L899.0 949.7L899.9 950.1L900.8 950.5L901.7 950.9L902.6 951.3L903.6 951.7L904.5 952.1L905.4 952.4L906.3 952.8L907.3 953.2L908.2 953.5L909.1 953.9L910.1 954.2L911.0 954.6L911.9 954.9L912.9 955.3L913.8 955.6L914.8 955.9L915.7 956.2L916.7 956.6L917.6 956.9L918.6 957.2L919.5 957.5L920.5 957.8L921.4 958.1L922.4 958.3L923.3 958.6L924.3 958.9L925.3 959.1L926.2 959.3L927.2 959.6L928.2 959.8L929.2 960.0L930.1 960.2L931.1 960.4L932.1 960.6L933.1 960.7L934.1 960.9L935.1 961.0L936.0 961.2L937.0 961.4L938.0 961.5L939.0 961.7L940.0 961.8L941.0 961.9L942.0 962.1L943.0 962.2L944.0 962.3L944.9 962.5L945.9 962.6L946.9 962.7L947.9 962.8L948.9 962.9L949.9 963.0L950.9 963.0L951.9 963.1L952.9 963.2L953.9 963.2L954.9 963.3L955.9 963.3L956.9 963.3L957.8 963.3L958.8 963.4L959.8 963.4L960.7 963.4L961.6 963.4L962.5 963.4L963.4 963.4L964.2 963.4L965.0 963.4L965.7 963.5L966.4 963.5L967.0 963.5L967.5 963.5L1153.2 964.0L1153.7 964.0L1154.3 964.0L1154.9 964.0L1155.6 964.0L1156.3 964.0L1157.0 964.0L1157.8 964.0L1158.7 964.0L1159.5 964.0L1160.4 964.0L1161.3 964.0L1162.2 964.0L1163.2 964.0L1164.1 964.0L1165.1 964.0L1166.1 964.0L1167.0 964.0L1168.0 964.0L1169.0 964.0L1170.0 964.0L1171.0 964.0L1172.0 964.0L1173.0 964.0L1174.0 964.0L1175.0 964.0L1176.0 964.0L1177.0 964.0L1178.0 964.0L1179.0 964.0L1180.0 964.0L1181.0 963.9L1182.0 963.9L1183.0 963.9L1184.0 963.9L1185.0 963.8L1186.0 963.8L1187.0 963.8L1188.0 963.7L1189.0 963.7L1190.0 963.6L1191.0 963.5L1191.9 963.4L1192.9 963.3L1193.9 963.2L1194.9 963.1L1195.9 963.0L1196.8 962.8L1197.8 962.6L1198.8 962.4L1199.7 962.2L1200.7 962.0L1201.6 961.7L1202.5 961.4L1203.5 961.1L1204.4 960.8L1205.3 960.5L1206.2 960.1L1207.0 959.7L1207.9 959.2L1208.8 958.8L1209.6 958.3L1210.4 957.8L1211.2 957.3L1212.0 956.7L1212.8 956.2L1213.6 955.6L1214.4 955.0L1215.1 954.3L1215.8 953.7L1216.5 953.0L1217.2 952.3L1217.9 951.6L1218.6 950.9L1219.3 950.2L1219.9 949.4L1220.6 948.7L1221.2 947.9L1221.9 947.2L1222.5 946.4L1223.1 945.6L1223.7 944.8L1224.3 944.0L1224.9 943.2L1225.4 942.4L1226.0 941.6L1226.6 940.8L1227.1 939.9L1227.6 939.1L1228.2 938.3L1228.7 937.4L1229.2 936.6L1229.7 935.7L1230.2 934.8L1230.7 934.0L1231.2 933.1L1231.6 932.2L1232.1 931.4L1232.6 930.5L1233.0 929.6L1233.5 928.7L1233.9 927.8L1234.4 926.9L1234.8 926.0L1235.3 925.1L1235.7 924.2L1236.1 923.3L1236.6 922.4L1237.0 921.5L1237.4 920.6L1237.8 919.7L1238.3 918.8L1238.7 917.9L1239.1 917.0L1239.5 916.1L1239.9 915.1L1240.3 914.2L1240.7 913.3L1241.0 912.4L1241.4 911.5L1241.8 910.5L1242.2 909.6L1242.6 908.7L1242.9 907.8L1243.3 906.8L1243.7 905.9L1244.0 905.0L1244.4 904.0L1244.8 903.1L1245.1 902.2L1245.5 901.2L1245.8 900.3L1246.2 899.4L1246.6 898.4L1246.9 897.5L1247.3 896.6L1247.6 895.6L1248.0 894.7L1248.3 893.8L1248.7 892.8L1249.0 891.9L1249.4 891.0L1249.7 890.0L1250.1 889.1L1250.4 888.1L1250.8 887.2L1251.1 886.3L1251.4 885.3L1251.8 884.4L1252.1 883.4L1252.4 882.5L1252.7 881.5L1253.1 880.6L1253.4 879.6L1253.7 878.7L1254.0 877.7L1254.3 876.8L1254.7 875.9L1255.0 874.9L1255.3 874.0L1255.6 873.0L1255.9 872.1L1256.2 871.1L1256.5 870.2L1256.8 869.2L1257.1 868.2L1257.4 867.3L1257.7 866.3L1258.0 865.4L1258.3 864.4L1258.6 863.5L1258.9 862.5L1259.2 861.6L1259.5 860.6L1259.8 859.7L1260.1 858.7L1260.3 857.7L1260.6 856.8L1260.9 855.8L1261.1 854.8L1261.4 853.9L1261.6 852.9L1261.9 851.9L1262.1 851.0L1262.3 850.0L1262.6 849.0L1262.8 848.1L1263.0 847.1L1263.3 846.1L1263.5 845.1L1263.7 844.2L1263.9 843.2L1264.2 842.2L1264.4 841.2L1264.6 840.3L1264.8 839.3L1265.1 838.3L1265.3 837.3L1265.5 836.4L1265.7 835.4L1265.9 834.4L1266.2 833.4L1266.4 832.5L1266.6 831.5L1266.8 830.5L1267.0 829.5L1267.2 828.6L1267.4 827.6L1267.6 826.6L1267.8 825.6L1268.0 824.6L1268.2 823.7L1268.4 822.7L1268.6 821.7L1268.8 820.7L1269.0 819.7L1269.2 818.8L1269.4 817.8L1269.5 816.8L1269.7 815.8L1269.9 814.8L1270.1 813.8L1270.2 812.8L1270.4 811.9L1270.6 810.9L1270.7 809.9L1270.9 808.9L1271.0 807.9L1271.2 806.9L1271.4 805.9L1271.5 805.0L1271.7 804.0L1271.8 803.0L1272.0 802.0L1272.2 801.0L1272.3 800.0L1272.5 799.0L1272.6 798.0L1272.8 797.1L1272.9 796.1L1273.1 795.1L1273.3 794.1L1273.4 793.1L1273.6 792.1L1273.7 791.1L1273.9 790.1L1274.0 789.1L1274.2 788.2L1274.3 787.2L1274.5 786.2L1274.6 785.2L1274.8 784.2L1274.9 783.2L1275.1 782.2L1275.2 781.2L1275.3 780.2L1275.5 779.3L1275.6 778.3L1275.7 777.3L1275.9 776.3L1276.0 775.3L1276.1 774.3L1276.2 773.3L1276.4 772.3L1276.5 771.3L1276.6 770.3L1276.7 769.3L1276.9 768.3L1277.0 767.4L1277.1 766.4L1277.2 765.4L1277.3 764.4L1277.4 763.4L1277.6 762.4L1277.7 761.4L1277.8 760.4L1277.9 759.4L1278.0 758.4L1278.1 757.4L1278.3 756.4L1278.4 755.4L1278.5 754.4L1278.6 753.4L1278.7 752.5L1278.9 751.5L1279.0 750.5L1279.1 749.5L1279.2 748.5L1279.3 747.5L1279.4 746.5L1279.5 745.5L1279.7 744.5L1279.8 743.5L1279.9 742.5L1280.0 741.5L1280.1 740.5L1280.2 739.5L1280.4 738.5L1280.5 737.6L1280.6 736.6L1280.7 735.6L1280.8 734.6L1280.9 733.6L1281.0 732.6L1281.1 731.6L1281.3 730.6L1281.4 729.6L1281.5 728.6L1281.6 727.6L1281.7 726.6L1281.8 725.6L1281.9 724.6L1282.1 723.6L1282.2 722.7L1282.3 721.7L1282.4 720.7L1282.5 719.7L1282.6 718.7L1282.7 717.7L1282.9 716.7L1283.0 715.7L1283.1 714.7L1283.2 713.7L1283.3 712.7L1283.4 711.7L1283.5 710.7L1283.7 709.7L1283.8 708.7L1283.9 707.7L1284.0 706.8L1284.1 705.8L1284.2 704.8L1284.3 703.8L1284.5 702.8L1284.6 701.8L1284.7 700.8L1284.8 699.8L1284.9 698.8L1285.1 697.8L1285.2 696.8L1285.3 695.8L1285.4 694.8L1285.6 693.9L1285.7 692.9L1285.8 691.9L1285.9 690.9L1286.1 689.9L1286.2 688.9L1286.3 687.9L1286.4 686.9L1286.6 685.9L1286.7 684.9L1286.8 683.9L1287.0 682.9L1287.1 682.0L1287.2 681.0L1287.4 680.0L1287.5 679.0L1287.6 678.0L1287.8 677.0L1287.9 676.0L1288.0 675.0L1288.1 674.0L1288.3 673.0L1288.4 672.0L1288.5 671.0L1288.7 670.1L1288.8 669.1L1288.9 668.1L1289.1 667.1L1289.2 666.1L1289.3 665.1L1289.5 664.1L1289.6 663.1L1289.7 662.1L1289.9 661.1L1290.0 660.1L1290.1 659.2L1290.3 658.2L1290.4 657.2L1290.5 656.2L1290.7 655.2L1290.8 654.2L1290.9 653.2L1291.0 652.2L1291.2 651.2L1291.3 650.2L1291.4 649.2L1291.6 648.2L1291.7 647.3L1291.8 646.3L1292.0 645.3L1292.1 644.3L1292.2 643.3L1292.4 642.3L1292.5 641.3L1292.6 640.3L1292.8 639.3L1292.9 638.3L1293.0 637.3L1293.2 636.4L1293.3 635.4L1293.4 634.4L1293.6 633.4L1293.7 632.4L1293.8 631.4L1293.9 630.4L1294.1 629.4L1294.2 628.4L1294.3 627.4L1294.5 626.4L1294.6 625.4L1294.7 624.5L1294.9 623.5L1295.0 622.5L1295.1 621.5L1295.3 620.5L1295.4 619.5L1295.5 618.5L1295.7 617.5L1295.8 616.5L1295.9 615.5L1296.1 614.5L1296.2 613.6L1296.3 612.6L1296.4 611.6L1296.6 610.6L1296.7 609.6L1296.8 608.6L1297.0 607.6L1297.1 606.6L1297.2 605.6L1297.4 604.6L1297.5 603.6L1297.6 602.6L1297.8 601.7L1297.9 600.7L1298.0 599.7L1298.2 598.7L1298.3 597.7L1298.4 596.7L1298.6 595.7L1298.7 594.7L1298.8 593.7L1299.0 592.7L1299.1 591.7L1299.2 590.8L1299.4 589.8L1299.5 588.8L1299.6 587.8L1299.7 586.8L1299.9 585.8L1300.0 584.8L1300.1 583.8L1300.3 582.8L1300.4 581.8L1300.5 580.8L1300.7 579.8L1300.8 578.9L1300.9 577.9L1301.1 576.9L1301.2 575.9L1301.3 574.9L1301.5 573.9L1301.6 572.9L1301.7 571.9L1301.9 570.9L1302.0 569.9L1302.1 568.9L1302.3 568.0L1302.4 567.0L1302.5 566.0L1302.7 565.0L1302.8 564.0L1302.9 563.0L1303.1 562.0L1303.2 561.0L1303.3 560.0L1303.5 559.0L1303.6 558.0L1303.7 557.1L1303.9 556.1L1304.0 555.1L1304.1 554.1L1304.3 553.1L1304.4 552.1L1304.6 551.1L1304.7 550.1L1304.9 549.1L1305.0 548.1L1305.1 547.2L1305.3 546.2L1305.4 545.2L1305.6 544.2L1305.7 543.2L1305.9 542.2L1306.1 541.2L1306.2 540.2L1306.4 539.2L1306.5 538.3L1306.7 537.3L1306.8 536.3L1307.0 535.3L1307.1 534.3L1307.3 533.3L1307.5 532.3L1307.6 531.3L1307.8 530.4L1307.9 529.4L1308.1 528.4L1308.2 527.4L1308.4 526.4L1308.6 525.4L1308.7 524.4L1308.9 523.4L1309.0 522.5L1309.2 521.5L1309.4 520.5L1309.5 519.5L1309.7 518.5L1309.8 517.5L1310.0 516.5L1310.1 515.5L1310.3 514.6L1310.5 513.6L1310.6 512.6L1310.8 511.6L1310.9 510.6L1311.1 509.6L1311.3 508.6L1311.4 507.7L1311.6 506.7L1311.8 505.7L1311.9 504.7L1312.1 503.7L1312.3 502.7L1312.4 501.7L1312.6 500.7L1312.8 499.8L1312.9 498.8L1313.1 497.8L1313.3 496.8L1313.4 495.8L1313.6 494.8L1313.8 493.8L1313.9 492.9L1314.1 491.9L1314.3 490.9L1314.4 489.9L1314.6 488.9L1314.8 487.9L1314.9 486.9L1315.1 486.0L1315.3 485.0L1315.4 484.0L1315.6 483.0L1315.7 482.0L1315.9 481.0L1316.1 480.0L1316.2 479.1L1316.4 478.1L1316.6 477.1L1316.7 476.1L1316.9 475.1L1317.1 474.1L1317.2 473.1L1317.4 472.1L1317.6 471.2L1317.7 470.2L1317.9 469.2L1318.0 468.2L1318.2 467.2L1318.4 466.2L1318.5 465.2L1318.7 464.3L1318.9 463.3L1319.0 462.3L1319.2 461.3L1319.3 460.3L1319.5 459.3L1319.7 458.3L1319.8 457.4L1320.0 456.4L1320.2 455.4L1320.3 454.4L1320.5 453.4L1320.7 452.4L1320.8 451.4L1321.0 450.5L1321.2 449.5L1321.4 448.5L1321.5 447.5L1321.7 446.5L1321.9 445.5L1322.1 444.6L1322.3 443.6L1322.5 442.6L1322.7 441.6L1322.9 440.6L1323.1 439.7L1323.3 438.7L1323.5 437.7L1323.7 436.7L1323.9 435.8L1324.2 434.8L1324.4 433.8L1324.6 432.8L1324.8 431.9L1325.1 430.9L1325.3 429.9L1325.6 428.9L1325.8 428.0L1326.0 427.0L1326.3 426.0L1326.5 425.1L1326.8 424.1L1327.0 423.1L1327.3 422.2L1327.5 421.2L1327.8 420.2L1328.0 419.3L1328.3 418.3L1328.5 417.3L1328.8 416.4L1329.1 415.4L1329.3 414.4L1329.6 413.5L1329.9 412.5L1330.2 411.6L1330.5 410.6L1330.8 409.7L1331.1 408.7L1331.4 407.8L1331.7 406.8L1332.0 405.9L1332.4 404.9L1332.7 404.0L1333.1 403.1L1333.4 402.2L1333.8 401.2L1334.2 400.3L1334.6 399.4L1335.0 398.5L1335.4 397.6L1335.8 396.7L1336.2 395.8L1336.7 395.0L1337.1 394.1L1337.6 393.2L1338.1 392.4L1338.6 391.6L1339.2 390.8L1339.7 390.0L1340.3 389.2L1340.9 388.5L1341.5 387.8L1342.1 387.1L1342.8 386.5L1343.4 385.8L1344.1 385.3L1344.8 384.7L1345.5 384.2L1346.3 383.8L1347.0 383.4L1347.8 383.0L1348.6 382.7L1349.3 382.5L1350.1 382.3L1350.9 382.2L1351.7 382.2L1352.5 382.2L1353.3 382.3L1354.0 382.4L1354.8 382.7L1355.6 382.9L1356.4 383.3L1357.1 383.7L1357.8 384.1L1358.6 384.6L1359.3 385.2L1360.0 385.7L1360.7 386.3L1361.3 387.0L1362.0 387.7L1362.7 388.4L1363.3 389.1L1363.9 389.8L1364.5 390.6L1365.1 391.4L1365.7 392.1L1366.3 392.9L1366.9 393.7L1367.5 394.5L1368.1 395.3L1368.6 396.2L1369.2 397.0L1369.7 397.8L1370.3 398.7L1370.8 399.5L1371.4 400.3L1371.9 401.2L1372.5 402.0L1373.0 402.9L1373.5 403.7L1374.1 404.5L1374.6 405.4L1375.1 406.2L1375.7 407.1L1376.2 407.9L1376.7 408.8L1377.2 409.6L1377.8 410.5L1378.3 411.3L1378.8 412.2L1379.3 413.0L1379.9 413.9L1380.4 414.7L1380.9 415.6L1381.4 416.4L1382.0 417.3L1382.5 418.1L1383.0 419.0L1383.5 419.8L1384.1 420.7L1384.6 421.5L1385.1 422.4L1385.6 423.3L1386.2 424.1L1386.7 425.0L1387.2 425.8L1387.7 426.7L1388.2 427.5L1388.7 428.4L1389.3 429.2L1389.8 430.1L1390.3 431.0L1390.8 431.8L1391.3 432.7L1391.7 433.6L1392.2 434.4L1392.7 435.3L1393.2 436.2L1393.6 437.1L1394.1 438.0L1394.6 438.8L1395.0 439.7L1395.4 440.6L1395.9 441.5L1396.3 442.4L1396.7 443.3L1397.1 444.2L1397.6 445.2L1398.0 446.1L1398.4 447.0L1398.8 447.9L1399.2 448.8L1399.6 449.7L1400.0 450.6L1400.4 451.5L1400.8 452.5L1401.2 453.4L1401.6 454.3L1402.0 455.2L1402.4 456.1L1402.8 457.0L1403.2 457.9L1403.7 458.8L1404.1 459.8L1404.5 460.7L1404.9 461.6L1405.3 462.5L1405.7 463.4L1406.2 464.3L1406.6 465.2L1407.0 466.1L1407.5 467.0L1407.9 467.9L1408.3 468.8L1408.7 469.7L1409.2 470.6L1409.6 471.5L1410.0 472.4L1410.4 473.3L1410.8 474.2L1411.2 475.2L1411.6 476.1L1412.0 477.0L1412.4 477.9L1412.8 478.8L1413.2 479.8L1413.5 480.7L1413.9 481.6L1414.3 482.5L1414.6 483.5L1414.9 484.4L1415.3 485.4L1415.6 486.3L1415.9 487.2L1416.2 488.2L1416.6 489.1L1416.9 490.1L1417.2 491.0L1417.5 492.0L1417.8 492.9L1418.1 493.9L1418.4 494.8L1418.7 495.8L1419.0 496.7L1419.3 497.7L1419.6 498.7L1419.9 499.6L1420.2 500.6L1420.5 501.5L1420.8 502.5L1421.1 503.4L1421.4 504.4L1421.7 505.3L1422.0 506.3L1422.4 507.2L1422.7 508.2L1423.0 509.1L1423.3 510.1L1423.6 511.0L1423.9 512.0L1424.2 512.9L1424.5 513.9L1424.8 514.8L1425.1 515.8L1425.4 516.7L1425.7 517.7L1426.0 518.7L1426.3 519.6L1426.6 520.6L1426.9 521.5L1427.2 522.5L1427.5 523.4L1427.8 524.4L1428.1 525.3L1428.4 526.3L1428.7 527.3L1428.9 528.2L1429.2 529.2L1429.5 530.1L1429.8 531.1L1430.1 532.0L1430.4 533.0L1430.7 534.0L1431.0 534.9L1431.3 535.9L1431.5 536.8L1431.8 537.8L1432.1 538.7L1432.4 539.7L1432.7 540.7L1433.0 541.6L1433.3 542.6L1433.5 543.5L1433.8 544.5L1434.1 545.5L1434.4 546.4L1434.7 547.4L1435.0 548.3L1435.3 549.3L1435.6 550.2L1435.8 551.2L1436.1 552.2L1436.4 553.1L1436.7 554.1L1437.0 555.0L1437.3 556.0L1437.6 556.9L1437.8 557.9L1438.1 558.9L1438.4 559.8L1438.7 560.8L1439.0 561.7L1439.3 562.7L1439.6 563.7L1439.8 564.6L1440.1 565.6L1440.4 566.5L1440.7 567.5L1441.0 568.5L1441.2 569.4L1441.5 570.4L1441.8 571.3L1442.1 572.3L1442.4 573.3L1442.6 574.2L1442.9 575.2L1443.2 576.1L1443.5 577.1L1443.8 578.1L1444.0 579.0L1444.3 580.0L1444.6 580.9L1444.9 581.9L1445.2 582.9L1445.4 583.8L1445.7 584.8L1446.0 585.7L1446.3 586.7L1446.6 587.7L1446.8 588.6L1447.1 589.6L1447.4 590.5L1447.7 591.5L1448.0 592.5L1448.2 593.4L1448.5 594.4L1448.8 595.3L1449.1 596.3L1449.3 597.3L1449.6 598.2L1449.9 599.2L1450.2 600.1L1450.5 601.1L1450.7 602.1L1451.0 603.0L1451.3 604.0L1451.6 604.9L1451.9 605.9L1452.1 606.9L1452.4 607.8L1452.7 608.8L1453.0 609.7L1453.3 610.7L1453.5 611.7L1453.8 612.6L1454.1 613.6L1454.4 614.5L1454.7 615.5L1455.0 616.5L1455.2 617.4L1455.5 618.4L1455.8 619.3L1456.1 620.3L1456.4 621.3L1456.7 622.2L1457.0 623.2L1457.2 624.1L1457.5 625.1L1457.8 626.0L1458.1 627.0L1458.4 628.0L1458.7 628.9L1459.0 629.9L1459.3 630.8L1459.5 631.8L1459.8 632.7L1460.1 633.7L1460.4 634.7L1460.7 635.6L1461.0 636.6L1461.3 637.5L1461.5 638.5L1461.8 639.5L1462.1 640.4L1462.4 641.4L1462.7 642.3L1463.0 643.3L1463.3 644.2L1463.6 645.2L1463.8 646.2L1464.1 647.1L1464.4 648.1L1464.7 649.0L1465.0 650.0L1465.3 650.9L1465.6 651.9L1465.9 652.9L1466.1 653.8L1466.4 654.8L1466.7 655.7L1467.0 656.7L1467.3 657.7L1467.6 658.6L1467.9 659.6L1468.1 660.5L1468.4 661.5L1468.7 662.4L1469.0 663.4L1469.3 664.4L1469.6 665.3L1469.9 666.3L1470.1 667.2L1470.4 668.2L1470.7 669.2L1471.0 670.1L1471.2 671.1L1471.5 672.0L1471.8 673.0L1472.1 674.0L1472.3 674.9L1472.6 675.9L1472.9 676.9L1473.1 677.8L1473.4 678.8L1473.6 679.8L1473.9 680.7L1474.1 681.7L1474.4 682.7L1474.6 683.6L1474.8 684.6L1475.1 685.6L1475.3 686.5L1475.5 687.5L1475.8 688.5L1476.0 689.5L1476.2 690.4L1476.4 691.4L1476.6 692.4L1476.9 693.4L1477.1 694.3L1477.3 695.3L1477.5 696.3L1477.7 697.3L1477.9 698.3L1478.0 699.2L1478.2 700.2L1478.4 701.2L1478.6 702.2L1478.7 703.2L1478.9 704.2L1479.1 705.2L1479.2 706.1L1479.4 707.1L1479.5 708.1L1479.7 709.1L1479.8 710.1L1480.0 711.1L1480.1 712.1L1480.2 713.1L1480.4 714.0L1480.5 715.0L1480.7 716.0L1480.8 717.0L1480.9 718.0L1481.1 719.0L1481.2 720.0L1481.4 721.0L1481.5 722.0L1481.7 722.9L1481.9 723.9L1482.0 724.9L1482.2 725.9L1482.4 726.9L1482.6 727.9L1482.8 728.8L1483.0 729.8L1483.2 730.8L1483.4 731.8L1483.6 732.7L1483.8 733.7L1484.0 734.7L1484.3 735.7L1484.5 736.6L1484.7 737.6L1485.0 738.6L1485.2 739.6L1485.4 740.5L1485.7 741.5L1485.9 742.5L1486.1 743.4L1486.4 744.4L1486.6 745.4L1486.9 746.3L1487.1 747.3L1487.4 748.3L1487.6 749.3L1487.8 750.2L1488.1 751.2L1488.3 752.2L1488.6 753.1L1488.8 754.1L1489.1 755.1L1489.3 756.0L1489.5 757.0L1489.8 758.0L1490.0 759.0L1490.3 759.9L1490.5 760.9L1490.8 761.9L1491.0 762.8L1491.2 763.8L1491.5 764.8L1491.7 765.8L1492.0 766.7L1492.2 767.7L1492.5 768.7L1492.7 769.6L1492.9 770.6L1493.2 771.6L1493.4 772.5L1493.7 773.5L1493.9 774.5L1494.1 775.5L1494.4 776.4L1494.6 777.4L1494.9 778.4L1495.1 779.3L1495.4 780.3L1495.6 781.3L1495.8 782.2L1496.1 783.2L1496.3 784.2L1496.6 785.2L1496.8 786.1L1497.1 787.1L1497.3 788.1L1497.5 789.0L1497.8 790.0L1498.0 791.0L1498.3 791.9L1498.5 792.9L1498.8 793.9L1499.0 794.9L1499.3 795.8L1499.5 796.8L1499.7 797.8L1500.0 798.7L1500.2 799.7L1500.5 800.7L1500.7 801.6L1501.0 802.6L1501.2 803.6L1501.5 804.5L1501.7 805.5L1502.0 806.5L1502.3 807.4L1502.5 808.4L1502.8 809.4L1503.0 810.3L1503.3 811.3L1503.6 812.3L1503.8 813.2L1504.1 814.2L1504.4 815.2L1504.7 816.1L1504.9 817.1L1505.2 818.0L1505.5 819.0L1505.8 820.0L1506.0 820.9L1506.3 821.9L1506.6 822.8L1506.9 823.8L1507.2 824.7L1507.5 825.7L1507.8 826.7L1508.0 827.6L1508.3 828.6L1508.6 829.5L1508.9 830.5L1509.2 831.5L1509.5 832.4L1509.8 833.4L1510.0 834.3L1510.3 835.3L1510.6 836.2L1510.9 837.2L1511.2 838.2L1511.5 839.1L1511.8 840.1L1512.0 841.0L1512.3 842.0L1512.6 843.0L1512.9 843.9L1513.2 844.9L1513.5 845.8L1513.8 846.8L1514.0 847.7L1514.3 848.7L1514.6 849.7L1514.9 850.6L1515.2 851.6L1515.5 852.5L1515.8 853.5L1516.1 854.4L1516.4 855.4L1516.6 856.4L1516.9 857.3L1517.2 858.3L1517.5 859.2L1517.8 860.2L1518.1 861.1L1518.4 862.1L1518.8 863.0L1519.1 864.0L1519.4 864.9L1519.7 865.9L1520.0 866.8L1520.4 867.8L1520.7 868.7L1521.1 869.6L1521.4 870.6L1521.7 871.5L1522.1 872.4L1522.5 873.4L1522.8 874.3L1523.2 875.2L1523.5 876.2L1523.9 877.1L1524.3 878.0L1524.6 879.0L1525.0 879.9L1525.4 880.8L1525.8 881.7L1526.1 882.7L1526.5 883.6L1526.9 884.5L1527.3 885.4L1527.7 886.4L1528.1 887.3L1528.5 888.2L1528.9 889.1L1529.3 890.0L1529.7 890.9L1530.1 891.8L1530.6 892.7L1531.0 893.6L1531.4 894.5L1531.9 895.4L1532.4 896.3L1532.8 897.1L1533.3 898.0L1533.8 898.9L1534.3 899.8L1534.8 900.6L1535.3 901.5L1535.8 902.4L1536.3 903.2L1536.8 904.1L1537.3 904.9L1537.8 905.8L1538.3 906.6L1538.9 907.5L1539.4 908.3L1539.9 909.2L1540.4 910.0L1541.0 910.9L1541.5 911.7L1542.0 912.6L1542.6 913.4L1543.1 914.2L1543.7 915.1L1544.3 915.9L1544.8 916.7L1545.4 917.5L1546.0 918.3L1546.6 919.2L1547.1 920.0L1547.7 920.8L1548.3 921.6L1548.9 922.3L1549.6 923.1L1550.2 923.9L1550.8 924.7L1551.4 925.5L1552.1 926.2L1552.7 927.0L1553.4 927.8L1554.0 928.5L1554.6 929.3L1555.3 930.0L1556.0 930.8L1556.6 931.5L1557.3 932.3L1557.9 933.0L1558.6 933.8L1559.3 934.5L1560.0 935.2L1560.6 936.0L1561.3 936.7L1562.0 937.4L1562.7 938.1L1563.4 938.8L1564.1 939.5L1564.9 940.2L1565.6 940.9L1566.3 941.6L1567.0 942.3L1567.8 942.9L1568.5 943.6L1569.3 944.2L1570.0 944.9L1570.8 945.5L1571.5 946.2L1572.3 946.8L1573.1 947.5L1573.9 948.1L1574.6 948.7L1575.4 949.3L1576.2 949.9L1577.0 950.5L1577.8 951.1L1578.6 951.6L1579.5 952.2L1580.3 952.7L1581.1 953.2L1582.0 953.8L1582.8 954.3L1583.7 954.7L1584.5 955.2L1585.4 955.7L1586.3 956.1L1587.2 956.5L1588.1 956.9L1589.0 957.3L1589.9 957.7L1590.8 958.1L1591.7 958.4L1592.7 958.8L1593.6 959.1L1594.5 959.4L1595.5 959.7L1596.4 960.0L1597.4 960.2L1598.3 960.4L1599.3 960.6L1600.2 960.8L1601.2 961.0L1602.2 961.2L1603.2 961.3L1604.1 961.4L1605.1 961.5L1606.1 961.6L1607.1 961.7L1608.1 961.8L1609.1 961.8L1610.1 961.9L1611.1 961.9L1612.1 962.0L1613.0 962.0L1614.0 962.0L1615.0 962.1L1616.0 962.1L1617.0 962.1L1618.0 962.1L1619.0 962.1L1620.0 962.2L1621.0 962.2L1622.0 962.2L1623.0 962.2L1624.0 962.2L1625.0 962.2L1626.0 962.2L1627.0 962.1L1628.0 962.1L1629.0 962.1L1630.0 962.1L1631.0 962.0L1632.0 962.0L1633.0 961.9L1634.0 961.9L1635.0 961.8L1636.0 961.8L1637.0 961.7L1638.0 961.6L1639.0 961.5L1640.0 961.5L1641.0 961.4L1642.0 961.3L1643.0 961.2L1644.0 961.1L1645.0 961.0L1646.0 960.9L1646.9 960.8L1647.9 960.7L1648.9 960.5L1649.9 960.4L1650.9 960.3L1651.9 960.2L1652.9 960.0L1653.9 959.9L1654.9 959.7L1655.9 959.6L1656.8 959.4L1657.8 959.3L1658.8 959.1L1659.8 959.0L1660.8 958.8L1661.8 958.6L1662.8 958.4L1663.7 958.3L1664.7 958.1L1665.7 957.9L1666.7 957.7L1667.7 957.5L1668.7 957.4L1669.6 957.2L1670.6 957.0L1671.6 956.8L1672.6 956.7L1673.6 956.5L1674.6 956.4L1675.5 956.2L1676.5 956.1L1677.5 955.9L1678.5 955.8L1679.5 955.7L1680.5 955.6L1681.5 955.5L1682.5 955.4L1683.5 955.3L1684.5 955.2L1685.5 955.2L1686.4 955.1L1687.4 955.0L1688.4 955.0L1689.4 954.9L1690.4 954.9L1691.4 954.8L1692.4 954.8L1693.4 954.7L1694.4 954.7L1695.4 954.7L1696.4 954.6L1697.4 954.6L1698.4 954.6L1699.4 954.5L1700.4 954.5L1701.4 954.5L1702.4 954.4L1703.4 954.4L1704.4 954.4L1705.4 954.3L1706.4 954.3L1707.4 954.2L1708.4 954.2L1709.4 954.2L1710.4 954.1L1711.4 954.1L1712.4 954.1L1713.4 954.0L1714.4 954.0L1715.4 953.9L1716.4 953.9L1717.4 953.9L1718.4 953.8L1719.4 953.8L1720.4 953.7L1721.4 953.7L1722.4 953.6L1723.4 953.6L1724.4 953.5L1725.4 953.5L1726.4 953.4L1727.4 953.3L1728.4 953.3L1729.4 953.2L1730.4 953.1L1731.3 953.0L1732.3 952.9L1733.3 952.7L1734.3 952.6L1735.3 952.4L1736.2 952.3L1737.2 952.1L1738.1 951.9L1739.1 951.6L1740.1 951.4L1741.0 951.1L1742.0 950.9L1742.9 950.6L1743.8 950.3L1744.8 949.9L1745.7 949.6L1746.6 949.3L1747.5 948.9L1748.5 948.5L1749.4 948.2L1750.3 947.8L1751.2 947.4L1752.1 947.0L1753.0 946.6L1754.0 946.2L1754.9 945.8L1755.8 945.3L1756.7 944.9L1757.6 944.5L1758.5 944.1L1759.4 943.7L1760.3 943.2L1761.2 942.8L1762.1 942.4L1763.0 942.0L1763.9 941.6L1764.8 941.1L1765.7 940.7L1766.6 940.3L1767.6 939.9L1768.5 939.5L1769.4 939.2L1770.3 938.8L1771.2 938.4L1772.1 938.1L1773.1 937.8L1774.0 937.5L1775.0 937.2L1775.9 936.9L1776.8 936.6L1777.8 936.4L1778.8 936.2L1779.7 935.9L1780.7 935.8L1781.7 935.6L1782.6 935.4L1783.6 935.3L1784.6 935.1L1785.6 935.0L1786.6 934.9L1787.5 934.8L1788.5 934.8L1789.5 934.7L1790.5 934.7L1791.5 934.7L1792.5 934.7L1793.5 934.7L1794.4 934.7L1795.4 934.8L1796.4 934.8L1797.4 934.9L1798.4 935.0L1799.4 935.1L1800.3 935.3L1801.3 935.4L1802.3 935.6L1803.3 935.8L1804.2 936.0L1805.2 936.2L1806.2 936.4L1807.1 936.6L1808.1 936.9L1809.0 937.1L1810.0 937.4L1810.9 937.7L1811.9 938.0L1812.8 938.4L1813.7 938.7L1814.6 939.1L1815.5 939.4L1816.4 939.8L1817.3 940.2L1818.2 940.6L1819.1 941.1L1820.0 941.5L1820.9 941.9L1821.8 942.4L1822.7 942.9L1823.6 943.3L1824.5 943.8L1825.3 944.3L1826.2 944.7L1827.1 945.2L1828.0 945.7L1828.9 946.1L1829.8 946.6L1830.6 947.1L1831.5 947.5L1832.4 948.0L1833.3 948.4L1834.2 948.9L1835.1 949.3L1836.0 949.8L1836.9 950.2L1837.8 950.6L1838.7 951.1L1839.6 951.5L1840.5 951.9L1841.4 952.4L1842.3 952.8L1843.2 953.2L1844.1 953.6L1845.0 954.0L1845.9 954.4L1846.9 954.8L1847.8 955.2L1848.7 955.6L1849.6 956.0L1850.5 956.3L1851.5 956.7L1852.4 957.0L1853.3 957.4L1854.3 957.7L1855.2 958.0L1856.1 958.3L1857.1 958.6L1858.0 958.9L1859.0 959.2L1859.9 959.4L1860.9 959.7L1861.9 959.9L1862.8 960.1L1863.8 960.3L1864.8 960.5L1865.8 960.6L1866.7 960.8L1867.7 961.0L1868.7 961.1L1869.7 961.2L1870.7 961.4L1871.7 961.5L1872.7 961.6L1873.6 961.7L1874.6 961.8L1875.6 961.9L1876.6 962.0L1877.6 962.1L1878.6 962.2L1879.6 962.3L1880.6 962.4L1881.6 962.5L1882.6 962.6L1883.6 962.6L1884.6 962.7L1885.6 962.8L1886.6 962.8L1887.5 962.9L1888.5 962.9L1889.5 963.0L1890.5 963.0L1891.4 963.0L1892.4 963.1L1893.3 963.1L1894.2 963.2L1895.1 963.2L1896.0 963.2L1896.8 963.2L1897.6 963.3L1898.4 963.3L1899.1 963.3L1899.8 963.3L1900.4 963.4L1901.0 963.4L1901.6 963.4L1927.0 963.5" fill="none" stroke="#2b1a66" stroke-width="7.0" stroke-linejoin="round" stroke-linecap="butt"/>
<path d="M104.0 1375.2L752.4 1375.2L752.9 1375.2L753.5 1375.2L754.2 1375.2L754.9 1375.2L755.7 1375.1L756.5 1375.1L757.4 1375.1L758.3 1375.1L759.2 1375.1L760.1 1375.1L761.1 1375.1L762.0 1375.1L763.0 1375.1L764.0 1375.1L765.0 1375.0L766.0 1375.0L767.0 1375.0L768.0 1375.0L769.0 1375.0L770.0 1375.0L771.0 1375.0L772.0 1374.9L773.0 1374.9L774.0 1374.9L775.0 1374.9L776.0 1374.9L777.0 1374.9L778.0 1374.8L779.0 1374.8L780.0 1374.8L781.0 1374.8L782.0 1374.7L783.0 1374.7L784.0 1374.7L785.0 1374.6L786.0 1374.6L787.0 1374.5L788.0 1374.5L788.9 1374.4L789.9 1374.3L790.9 1374.2L791.9 1374.0L792.8 1373.8L793.8 1373.6L794.7 1373.4L795.7 1373.2L796.6 1372.9L797.6 1372.6L798.5 1372.2L799.4 1371.9L800.3 1371.5L801.2 1371.1L802.1 1370.7L803.0 1370.2L803.8 1369.7L804.7 1369.3L805.6 1368.8L806.4 1368.2L807.3 1367.7L808.1 1367.2L808.9 1366.6L809.8 1366.1L810.6 1365.5L811.4 1365.0L812.2 1364.4L813.1 1363.8L813.9 1363.3L814.7 1362.7L815.5 1362.1L816.3 1361.6L817.2 1361.0L818.0 1360.4L818.8 1359.8L819.6 1359.3L820.4 1358.7L821.3 1358.1L822.1 1357.5L822.9 1357.0L823.7 1356.4L824.5 1355.8L825.4 1355.3L826.2 1354.7L827.0 1354.2L827.9 1353.6L828.7 1353.1L829.5 1352.6L830.4 1352.1L831.2 1351.6L832.1 1351.1L833.0 1350.6L833.9 1350.2L834.8 1349.8L835.7 1349.4L836.6 1349.1L837.5 1348.7L838.4 1348.4L839.4 1348.1L840.3 1347.9L841.3 1347.6L842.3 1347.4L843.2 1347.3L844.2 1347.1L845.2 1346.9L846.2 1346.8L847.1 1346.7L848.1 1346.6L849.1 1346.6L850.1 1346.5L851.1 1346.5L852.1 1346.5L853.1 1346.5L854.1 1346.5L855.1 1346.6L856.1 1346.6L857.1 1346.7L858.0 1346.8L859.0 1346.9L860.0 1347.1L861.0 1347.3L861.9 1347.4L862.9 1347.7L863.9 1347.9L864.8 1348.1L865.7 1348.4L866.7 1348.7L867.6 1349.1L868.5 1349.4L869.4 1349.8L870.3 1350.2L871.2 1350.6L872.1 1351.1L873.0 1351.5L873.9 1352.0L874.7 1352.5L875.6 1353.0L876.5 1353.5L877.3 1354.0L878.2 1354.5L879.0 1355.1L879.8 1355.6L880.7 1356.2L881.5 1356.7L882.3 1357.3L883.2 1357.8L884.0 1358.4L884.8 1359.0L885.6 1359.5L886.4 1360.1L887.3 1360.7L888.1 1361.3L888.9 1361.8L889.7 1362.4L890.6 1362.9L891.4 1363.5L892.2 1364.1L893.1 1364.6L893.9 1365.2L894.7 1365.7L895.6 1366.2L896.4 1366.8L897.3 1367.3L898.1 1367.8L899.0 1368.3L899.8 1368.8L900.7 1369.3L901.6 1369.8L902.5 1370.2L903.3 1370.7L904.2 1371.1L905.1 1371.5L906.0 1371.9L907.0 1372.3L907.9 1372.6L908.8 1373.0L909.7 1373.3L910.7 1373.6L911.6 1373.8L912.6 1374.1L913.6 1374.3L914.5 1374.5L915.5 1374.6L916.5 1374.8L917.5 1374.9L918.4 1375.0L919.4 1375.1L920.4 1375.2L921.4 1375.2L922.4 1375.3L923.4 1375.3L924.4 1375.3L925.4 1375.4L926.4 1375.4L927.4 1375.4L928.4 1375.4L929.4 1375.4L930.4 1375.4L931.4 1375.4L932.4 1375.4L933.4 1375.4L934.4 1375.4L935.4 1375.4L936.4 1375.4L937.4 1375.4L938.3 1375.4L939.3 1375.4L940.3 1375.4L941.2 1375.4L942.1 1375.4L943.0 1375.4L943.8 1375.4L944.6 1375.4L945.4 1375.4L946.1 1375.4L946.7 1375.4L947.3 1375.4L947.8 1375.4L1143.2 1375.4L1143.7 1375.4L1144.3 1375.4L1144.9 1375.4L1145.6 1375.4L1146.3 1375.4L1147.0 1375.4L1147.8 1375.3L1148.7 1375.3L1149.5 1375.3L1150.4 1375.3L1151.3 1375.3L1152.2 1375.3L1153.2 1375.3L1154.1 1375.3L1155.1 1375.3L1156.1 1375.3L1157.0 1375.3L1158.0 1375.3L1159.0 1375.3L1160.0 1375.3L1161.0 1375.2L1162.0 1375.2L1163.0 1375.2L1164.0 1375.2L1165.0 1375.2L1166.0 1375.1L1166.9 1375.1L1167.9 1375.1L1168.9 1375.0L1169.9 1374.9L1170.8 1374.8L1171.8 1374.7L1172.8 1374.6L1173.7 1374.4L1174.6 1374.2L1175.5 1374.0L1176.4 1373.8L1177.3 1373.5L1178.2 1373.2L1179.1 1372.8L1179.9 1372.4L1180.7 1372.0L1181.5 1371.5L1182.3 1371.0L1183.1 1370.5L1183.8 1369.9L1184.5 1369.3L1185.2 1368.7L1185.9 1368.0L1186.6 1367.4L1187.2 1366.6L1187.9 1365.9L1188.5 1365.2L1189.1 1364.4L1189.7 1363.6L1190.3 1362.8L1190.8 1362.0L1191.3 1361.2L1191.9 1360.3L1192.4 1359.5L1192.9 1358.6L1193.3 1357.8L1193.8 1356.9L1194.3 1356.0L1194.7 1355.1L1195.1 1354.2L1195.6 1353.3L1196.0 1352.4L1196.4 1351.5L1196.7 1350.6L1197.1 1349.7L1197.5 1348.8L1197.9 1347.8L1198.2 1346.9L1198.6 1346.0L1198.9 1345.0L1199.2 1344.1L1199.6 1343.1L1199.9 1342.2L1200.2 1341.2L1200.5 1340.3L1200.9 1339.4L1201.2 1338.4L1201.5 1337.5L1201.8 1336.5L1202.1 1335.6L1202.4 1334.6L1202.7 1333.6L1203.0 1332.7L1203.3 1331.7L1203.6 1330.8L1203.9 1329.8L1204.2 1328.9L1204.5 1327.9L1204.8 1327.0L1205.0 1326.0L1205.3 1325.0L1205.6 1324.1L1205.9 1323.1L1206.2 1322.2L1206.5 1321.2L1206.8 1320.3L1207.1 1319.3L1207.4 1318.3L1207.6 1317.4L1207.9 1316.4L1208.2 1315.5L1208.5 1314.5L1208.8 1313.6L1209.1 1312.6L1209.4 1311.6L1209.7 1310.7L1209.9 1309.7L1210.2 1308.8L1210.5 1307.8L1210.8 1306.8L1211.1 1305.9L1211.4 1304.9L1211.6 1304.0L1211.9 1303.0L1212.2 1302.0L1212.5 1301.1L1212.8 1300.1L1213.1 1299.2L1213.3 1298.2L1213.6 1297.3L1213.9 1296.3L1214.2 1295.3L1214.5 1294.4L1214.7 1293.4L1215.0 1292.5L1215.3 1291.5L1215.6 1290.5L1215.9 1289.6L1216.1 1288.6L1216.4 1287.7L1216.7 1286.7L1217.0 1285.7L1217.3 1284.8L1217.5 1283.8L1217.8 1282.9L1218.1 1281.9L1218.4 1280.9L1218.7 1280.0L1219.0 1279.0L1219.3 1278.1L1219.6 1277.1L1219.9 1276.2L1220.1 1275.2L1220.4 1274.2L1220.7 1273.3L1221.0 1272.3L1221.3 1271.4L1221.6 1270.4L1221.8 1269.5L1222.1 1268.5L1222.4 1267.5L1222.6 1266.6L1222.9 1265.6L1223.2 1264.6L1223.4 1263.7L1223.7 1262.7L1223.9 1261.7L1224.2 1260.8L1224.4 1259.8L1224.7 1258.8L1224.9 1257.9L1225.2 1256.9L1225.4 1255.9L1225.7 1255.0L1225.9 1254.0L1226.2 1253.0L1226.4 1252.1L1226.7 1251.1L1226.9 1250.1L1227.2 1249.2L1227.4 1248.2L1227.7 1247.2L1227.9 1246.3L1228.1 1245.3L1228.4 1244.3L1228.6 1243.3L1228.8 1242.4L1229.1 1241.4L1229.3 1240.4L1229.5 1239.4L1229.7 1238.5L1229.9 1237.5L1230.1 1236.5L1230.3 1235.5L1230.5 1234.5L1230.7 1233.6L1230.8 1232.6L1231.0 1231.6L1231.2 1230.6L1231.4 1229.6L1231.5 1228.6L1231.7 1227.7L1231.9 1226.7L1232.0 1225.7L1232.2 1224.7L1232.3 1223.7L1232.5 1222.7L1232.6 1221.7L1232.8 1220.7L1232.9 1219.8L1233.1 1218.8L1233.2 1217.8L1233.4 1216.8L1233.5 1215.8L1233.6 1214.8L1233.8 1213.8L1233.9 1212.8L1234.0 1211.8L1234.2 1210.8L1234.3 1209.9L1234.4 1208.9L1234.6 1207.9L1234.7 1206.9L1234.8 1205.9L1235.0 1204.9L1235.1 1203.9L1235.2 1202.9L1235.4 1201.9L1235.5 1200.9L1235.6 1199.9L1235.7 1198.9L1235.9 1198.0L1236.0 1197.0L1236.1 1196.0L1236.3 1195.0L1236.4 1194.0L1236.5 1193.0L1236.7 1192.0L1236.8 1191.0L1236.9 1190.0L1237.1 1189.0L1237.2 1188.0L1237.3 1187.1L1237.5 1186.1L1237.6 1185.1L1237.7 1184.1L1237.9 1183.1L1238.0 1182.1L1238.1 1181.1L1238.3 1180.1L1238.4 1179.1L1238.5 1178.1L1238.7 1177.1L1238.8 1176.2L1238.9 1175.2L1239.1 1174.2L1239.2 1173.2L1239.3 1172.2L1239.5 1171.2L1239.6 1170.2L1239.7 1169.2L1239.9 1168.2L1240.0 1167.2L1240.1 1166.2L1240.3 1165.2L1240.4 1164.3L1240.5 1163.3L1240.7 1162.3L1240.8 1161.3L1240.9 1160.3L1241.1 1159.3L1241.2 1158.3L1241.3 1157.3L1241.5 1156.3L1241.6 1155.3L1241.7 1154.3L1241.9 1153.4L1242.0 1152.4L1242.1 1151.4L1242.3 1150.4L1242.4 1149.4L1242.5 1148.4L1242.7 1147.4L1242.8 1146.4L1242.9 1145.4L1243.0 1144.4L1243.2 1143.4L1243.3 1142.5L1243.4 1141.5L1243.6 1140.5L1243.7 1139.5L1243.8 1138.5L1244.0 1137.5L1244.1 1136.5L1244.2 1135.5L1244.4 1134.5L1244.5 1133.5L1244.6 1132.5L1244.8 1131.5L1244.9 1130.6L1245.0 1129.6L1245.1 1128.6L1245.3 1127.6L1245.4 1126.6L1245.5 1125.6L1245.7 1124.6L1245.8 1123.6L1245.9 1122.6L1246.0 1121.6L1246.2 1120.6L1246.3 1119.6L1246.4 1118.7L1246.6 1117.7L1246.7 1116.7L1246.8 1115.7L1246.9 1114.7L1247.1 1113.7L1247.2 1112.7L1247.3 1111.7L1247.4 1110.7L1247.5 1109.7L1247.7 1108.7L1247.8 1107.7L1247.9 1106.7L1248.0 1105.8L1248.1 1104.8L1248.3 1103.8L1248.4 1102.8L1248.5 1101.8L1248.6 1100.8L1248.7 1099.8L1248.9 1098.8L1249.0 1097.8L1249.1 1096.8L1249.2 1095.8L1249.3 1094.8L1249.4 1093.8L1249.6 1092.8L1249.7 1091.9L1249.8 1090.9L1249.9 1089.9L1250.0 1088.9L1250.1 1087.9L1250.2 1086.9L1250.3 1085.9L1250.4 1084.9L1250.5 1083.9L1250.6 1082.9L1250.7 1081.9L1250.8 1080.9L1250.9 1079.9L1251.0 1078.9L1251.2 1077.9L1251.3 1076.9L1251.4 1075.9L1251.4 1074.9L1251.5 1074.0L1251.6 1073.0L1251.8 1072.0L1251.9 1071.0L1252.0 1070.0L1252.1 1069.0L1252.2 1068.0L1252.3 1067.0L1252.4 1066.0L1252.5 1065.0L1252.6 1064.0L1252.7 1063.0L1252.8 1062.0L1253.0 1061.0L1253.1 1060.0L1253.2 1059.0L1253.3 1058.1L1253.5 1057.1L1253.6 1056.1L1253.7 1055.1L1253.9 1054.1L1254.0 1053.1L1254.2 1052.1L1254.3 1051.1L1254.4 1050.1L1254.6 1049.1L1254.7 1048.2L1254.9 1047.2L1255.0 1046.2L1255.2 1045.2L1255.3 1044.2L1255.4 1043.2L1255.6 1042.2L1255.7 1041.2L1255.8 1040.2L1256.0 1039.2L1256.1 1038.3L1256.2 1037.3L1256.4 1036.3L1256.5 1035.3L1256.6 1034.3L1256.8 1033.3L1256.9 1032.3L1257.0 1031.3L1257.1 1030.3L1257.2 1029.3L1257.4 1028.3L1257.5 1027.3L1257.6 1026.3L1257.7 1025.4L1257.8 1024.4L1258.0 1023.4L1258.1 1022.4L1258.2 1021.4L1258.3 1020.4L1258.4 1019.4L1258.5 1018.4L1258.7 1017.4L1258.8 1016.4L1258.9 1015.4L1259.0 1014.4L1259.1 1013.4L1259.2 1012.4L1259.4 1011.5L1259.5 1010.5L1259.6 1009.5L1259.7 1008.5L1259.8 1007.5L1259.9 1006.5L1260.1 1005.5L1260.2 1004.5L1260.3 1003.5L1260.4 1002.5L1260.5 1001.5L1260.7 1000.5L1260.8 999.5L1260.9 998.5L1261.0 997.6L1261.2 996.6L1261.3 995.6L1261.4 994.6L1261.5 993.6L1261.6 992.6L1261.8 991.6L1261.9 990.6L1262.0 989.6L1262.1 988.6L1262.3 987.6L1262.4 986.6L1262.5 985.6L1262.6 984.7L1262.8 983.7L1262.9 982.7L1263.0 981.7L1263.2 980.7L1263.3 979.7L1263.4 978.7L1263.5 977.7L1263.7 976.7L1263.8 975.7L1263.9 974.7L1264.0 973.7L1264.2 972.7L1264.3 971.8L1264.4 970.8L1264.5 969.8L1264.7 968.8L1264.8 967.8L1264.9 966.8L1265.0 965.8L1265.2 964.8L1265.3 963.8L1265.4 962.8L1265.5 961.8L1265.7 960.8L1265.8 959.9L1265.9 958.9L1266.0 957.9L1266.2 956.9L1266.3 955.9L1266.4 954.9L1266.6 953.9L1266.7 952.9L1266.8 951.9L1266.9 950.9L1267.1 949.9L1267.2 948.9L1267.3 947.9L1267.4 947.0L1267.6 946.0L1267.7 945.0L1267.8 944.0L1268.0 943.0L1268.1 942.0L1268.2 941.0L1268.4 940.0L1268.5 939.0L1268.6 938.0L1268.8 937.0L1268.9 936.1L1269.1 935.1L1269.2 934.1L1269.3 933.1L1269.5 932.1L1269.6 931.1L1269.8 930.1L1269.9 929.1L1270.1 928.1L1270.2 927.2L1270.4 926.2L1270.5 925.2L1270.7 924.2L1270.9 923.2L1271.0 922.2L1271.2 921.2L1271.3 920.2L1271.5 919.3L1271.6 918.3L1271.8 917.3L1272.0 916.3L1272.1 915.3L1272.3 914.3L1272.4 913.3L1272.6 912.3L1272.7 911.4L1272.9 910.4L1273.1 909.4L1273.2 908.4L1273.4 907.4L1273.5 906.4L1273.7 905.4L1273.8 904.4L1274.0 903.5L1274.2 902.5L1274.3 901.5L1274.5 900.5L1274.6 899.5L1274.8 898.5L1275.0 897.5L1275.1 896.5L1275.3 895.6L1275.4 894.6L1275.6 893.6L1275.8 892.6L1275.9 891.6L1276.1 890.6L1276.3 889.6L1276.4 888.7L1276.6 887.7L1276.8 886.7L1276.9 885.7L1277.1 884.7L1277.2 883.7L1277.4 882.7L1277.6 881.7L1277.7 880.8L1277.9 879.8L1278.1 878.8L1278.2 877.8L1278.4 876.8L1278.6 875.8L1278.7 874.8L1278.9 873.9L1279.1 872.9L1279.2 871.9L1279.4 870.9L1279.6 869.9L1279.7 868.9L1279.9 867.9L1280.1 867.0L1280.2 866.0L1280.4 865.0L1280.6 864.0L1280.7 863.0L1280.9 862.0L1281.1 861.0L1281.2 860.1L1281.4 859.1L1281.6 858.1L1281.7 857.1L1281.9 856.1L1282.1 855.1L1282.2 854.1L1282.4 853.2L1282.6 852.2L1282.8 851.2L1282.9 850.2L1283.1 849.2L1283.3 848.2L1283.5 847.3L1283.7 846.3L1283.9 845.3L1284.1 844.3L1284.3 843.3L1284.4 842.3L1284.6 841.4L1284.8 840.4L1285.0 839.4L1285.2 838.4L1285.5 837.4L1285.7 836.5L1285.9 835.5L1286.1 834.5L1286.3 833.5L1286.5 832.6L1286.7 831.6L1286.9 830.6L1287.1 829.6L1287.3 828.6L1287.5 827.7L1287.8 826.7L1288.0 825.7L1288.2 824.7L1288.4 823.8L1288.6 822.8L1288.8 821.8L1289.0 820.8L1289.3 819.9L1289.5 818.9L1289.7 817.9L1289.9 816.9L1290.1 816.0L1290.4 815.0L1290.6 814.0L1290.8 813.0L1291.1 812.1L1291.3 811.1L1291.6 810.1L1291.8 809.2L1292.1 808.2L1292.4 807.3L1292.6 806.3L1292.9 805.3L1293.2 804.4L1293.5 803.4L1293.8 802.5L1294.1 801.5L1294.4 800.6L1294.7 799.6L1295.0 798.7L1295.3 797.7L1295.6 796.8L1296.0 795.8L1296.3 794.9L1296.6 794.0L1297.0 793.0L1297.3 792.1L1297.7 791.2L1298.1 790.3L1298.5 789.4L1298.9 788.5L1299.3 787.6L1299.8 786.8L1300.2 785.9L1300.7 785.1L1301.2 784.3L1301.7 783.6L1302.2 782.8L1302.8 782.1L1303.4 781.5L1304.0 780.8L1304.6 780.2L1305.2 779.7L1305.9 779.2L1306.6 778.8L1307.3 778.5L1308.0 778.2L1308.7 777.9L1309.5 777.8L1310.2 777.7L1311.0 777.7L1311.7 777.7L1312.5 777.8L1313.2 778.0L1314.0 778.3L1314.7 778.6L1315.4 778.9L1316.1 779.4L1316.8 779.8L1317.5 780.4L1318.2 781.0L1318.8 781.6L1319.5 782.2L1320.1 782.9L1320.7 783.6L1321.3 784.4L1321.8 785.1L1322.4 785.9L1322.9 786.7L1323.4 787.5L1323.9 788.4L1324.4 789.2L1324.9 790.1L1325.4 791.0L1325.8 791.8L1326.3 792.7L1326.7 793.6L1327.2 794.5L1327.6 795.4L1328.0 796.3L1328.4 797.2L1328.8 798.1L1329.2 799.1L1329.5 800.0L1329.9 800.9L1330.3 801.8L1330.6 802.8L1331.0 803.7L1331.3 804.6L1331.7 805.6L1332.0 806.5L1332.3 807.5L1332.7 808.4L1333.0 809.3L1333.4 810.3L1333.7 811.2L1334.0 812.2L1334.3 813.1L1334.7 814.0L1335.0 815.0L1335.3 815.9L1335.7 816.9L1336.0 817.8L1336.3 818.8L1336.7 819.7L1337.0 820.7L1337.3 821.6L1337.6 822.6L1337.9 823.5L1338.3 824.4L1338.6 825.4L1338.9 826.3L1339.2 827.3L1339.5 828.2L1339.9 829.2L1340.2 830.1L1340.5 831.1L1340.8 832.0L1341.1 833.0L1341.4 833.9L1341.8 834.9L1342.1 835.8L1342.4 836.8L1342.7 837.7L1343.0 838.7L1343.3 839.6L1343.6 840.6L1344.0 841.5L1344.3 842.5L1344.6 843.4L1344.9 844.4L1345.2 845.3L1345.5 846.3L1345.9 847.2L1346.2 848.2L1346.5 849.1L1346.8 850.1L1347.1 851.0L1347.4 852.0L1347.8 852.9L1348.1 853.9L1348.4 854.8L1348.7 855.7L1349.0 856.7L1349.3 857.6L1349.6 858.6L1350.0 859.5L1350.3 860.5L1350.6 861.4L1350.9 862.4L1351.2 863.3L1351.5 864.3L1351.8 865.3L1352.1 866.2L1352.4 867.2L1352.7 868.1L1353.0 869.1L1353.3 870.0L1353.5 871.0L1353.8 872.0L1354.1 872.9L1354.3 873.9L1354.6 874.8L1354.9 875.8L1355.1 876.8L1355.4 877.7L1355.6 878.7L1355.9 879.7L1356.1 880.6L1356.4 881.6L1356.6 882.6L1356.9 883.5L1357.1 884.5L1357.4 885.5L1357.6 886.5L1357.9 887.4L1358.1 888.4L1358.3 889.4L1358.6 890.3L1358.8 891.3L1359.1 892.3L1359.3 893.2L1359.6 894.2L1359.8 895.2L1360.1 896.1L1360.3 897.1L1360.6 898.1L1360.9 899.0L1361.1 900.0L1361.4 901.0L1361.7 901.9L1362.0 902.9L1362.2 903.8L1362.5 904.8L1362.8 905.8L1363.1 906.7L1363.4 907.7L1363.7 908.6L1364.0 909.6L1364.3 910.5L1364.6 911.5L1364.9 912.4L1365.2 913.4L1365.6 914.3L1365.9 915.3L1366.2 916.2L1366.5 917.2L1366.8 918.1L1367.1 919.1L1367.5 920.0L1367.8 921.0L1368.1 921.9L1368.4 922.9L1368.7 923.8L1369.0 924.8L1369.4 925.7L1369.7 926.7L1370.0 927.6L1370.3 928.6L1370.6 929.5L1370.9 930.4L1371.3 931.4L1371.6 932.3L1371.9 933.3L1372.2 934.2L1372.5 935.2L1372.8 936.1L1373.1 937.1L1373.5 938.0L1373.8 939.0L1374.1 939.9L1374.4 940.9L1374.7 941.8L1375.0 942.8L1375.4 943.7L1375.7 944.7L1376.0 945.6L1376.3 946.6L1376.6 947.5L1376.9 948.5L1377.3 949.4L1377.6 950.4L1377.9 951.3L1378.2 952.3L1378.5 953.2L1378.8 954.2L1379.1 955.1L1379.5 956.1L1379.8 957.0L1380.1 958.0L1380.4 958.9L1380.7 959.9L1381.1 960.8L1381.4 961.8L1381.7 962.7L1382.0 963.6L1382.3 964.6L1382.7 965.5L1383.0 966.5L1383.3 967.4L1383.6 968.4L1384.0 969.3L1384.3 970.3L1384.7 971.2L1385.0 972.1L1385.4 973.1L1385.7 974.0L1386.1 974.9L1386.4 975.9L1386.8 976.8L1387.2 977.7L1387.5 978.6L1387.9 979.6L1388.3 980.5L1388.7 981.4L1389.1 982.3L1389.5 983.2L1389.9 984.1L1390.4 985.0L1390.8 985.9L1391.2 986.8L1391.7 987.7L1392.2 988.6L1392.6 989.4L1393.1 990.3L1393.6 991.2L1394.1 992.0L1394.6 992.8L1395.2 993.7L1395.7 994.5L1396.3 995.3L1396.9 996.1L1397.5 996.8L1398.1 997.6L1398.7 998.3L1399.4 999.0L1400.0 999.7L1400.7 1000.4L1401.4 1001.0L1402.1 1001.6L1402.9 1002.2L1403.7 1002.8L1404.4 1003.3L1405.2 1003.8L1406.1 1004.3L1406.9 1004.7L1407.7 1005.1L1408.6 1005.5L1409.5 1005.8L1410.4 1006.2L1411.3 1006.5L1412.2 1006.8L1413.2 1007.0L1414.1 1007.3L1415.1 1007.5L1416.0 1007.8L1417.0 1008.0L1417.9 1008.2L1418.9 1008.3L1419.9 1008.5L1420.9 1008.7L1421.8 1008.9L1422.8 1009.0L1423.8 1009.2L1424.8 1009.4L1425.7 1009.6L1426.7 1009.8L1427.7 1010.0L1428.6 1010.2L1429.6 1010.4L1430.5 1010.7L1431.5 1010.9L1432.4 1011.2L1433.3 1011.5L1434.2 1011.8L1435.2 1012.2L1436.0 1012.6L1436.9 1013.0L1437.8 1013.4L1438.6 1013.8L1439.5 1014.3L1440.3 1014.8L1441.1 1015.3L1441.9 1015.9L1442.6 1016.5L1443.4 1017.1L1444.1 1017.7L1444.8 1018.3L1445.5 1019.0L1446.2 1019.7L1446.9 1020.4L1447.5 1021.1L1448.1 1021.9L1448.8 1022.7L1449.4 1023.4L1450.0 1024.2L1450.5 1025.0L1451.1 1025.8L1451.7 1026.6L1452.2 1027.4L1452.8 1028.3L1453.3 1029.1L1453.8 1029.9L1454.4 1030.8L1454.9 1031.6L1455.4 1032.5L1455.9 1033.4L1456.4 1034.2L1456.8 1035.1L1457.3 1036.0L1457.8 1036.9L1458.2 1037.8L1458.7 1038.7L1459.1 1039.5L1459.5 1040.4L1460.0 1041.3L1460.4 1042.2L1460.8 1043.1L1461.3 1044.1L1461.7 1045.0L1462.1 1045.9L1462.5 1046.8L1462.9 1047.7L1463.3 1048.6L1463.7 1049.5L1464.1 1050.4L1464.5 1051.4L1464.9 1052.3L1465.2 1053.2L1465.6 1054.1L1466.0 1055.1L1466.4 1056.0L1466.7 1056.9L1467.1 1057.9L1467.4 1058.8L1467.8 1059.7L1468.1 1060.7L1468.5 1061.6L1468.8 1062.5L1469.2 1063.5L1469.5 1064.4L1469.8 1065.4L1470.2 1066.3L1470.5 1067.2L1470.8 1068.2L1471.2 1069.1L1471.5 1070.1L1471.8 1071.0L1472.2 1072.0L1472.5 1072.9L1472.8 1073.9L1473.1 1074.8L1473.5 1075.7L1473.8 1076.7L1474.1 1077.6L1474.4 1078.6L1474.8 1079.5L1475.1 1080.5L1475.4 1081.4L1475.7 1082.4L1476.0 1083.3L1476.3 1084.3L1476.6 1085.2L1476.9 1086.2L1477.2 1087.1L1477.5 1088.1L1477.9 1089.0L1478.2 1090.0L1478.5 1090.9L1478.8 1091.9L1479.1 1092.8L1479.4 1093.8L1479.7 1094.8L1480.0 1095.7L1480.3 1096.7L1480.6 1097.6L1480.9 1098.6L1481.2 1099.5L1481.5 1100.5L1481.8 1101.4L1482.1 1102.4L1482.4 1103.3L1482.7 1104.3L1483.0 1105.2L1483.3 1106.2L1483.6 1107.1L1483.9 1108.1L1484.2 1109.0L1484.5 1110.0L1484.9 1110.9L1485.2 1111.9L1485.5 1112.8L1485.8 1113.8L1486.1 1114.7L1486.5 1115.7L1486.8 1116.6L1487.1 1117.6L1487.5 1118.5L1487.8 1119.4L1488.1 1120.4L1488.5 1121.3L1488.8 1122.3L1489.1 1123.2L1489.5 1124.2L1489.8 1125.1L1490.2 1126.0L1490.5 1127.0L1490.8 1127.9L1491.2 1128.9L1491.5 1129.8L1491.9 1130.7L1492.2 1131.7L1492.6 1132.6L1492.9 1133.5L1493.3 1134.5L1493.6 1135.4L1494.0 1136.3L1494.3 1137.3L1494.7 1138.2L1495.0 1139.1L1495.4 1140.1L1495.8 1141.0L1496.1 1141.9L1496.5 1142.9L1496.9 1143.8L1497.3 1144.7L1497.6 1145.6L1498.0 1146.6L1498.4 1147.5L1498.8 1148.4L1499.2 1149.3L1499.6 1150.3L1500.0 1151.2L1500.4 1152.1L1500.7 1153.0L1501.1 1153.9L1501.5 1154.9L1501.9 1155.8L1502.3 1156.7L1502.7 1157.6L1503.1 1158.5L1503.5 1159.5L1503.9 1160.4L1504.3 1161.3L1504.7 1162.2L1505.1 1163.1L1505.5 1164.0L1505.9 1164.9L1506.3 1165.9L1506.7 1166.8L1507.1 1167.7L1507.6 1168.6L1508.0 1169.5L1508.4 1170.4L1508.8 1171.3L1509.2 1172.2L1509.7 1173.1L1510.1 1174.0L1510.5 1174.9L1510.9 1175.8L1511.4 1176.7L1511.8 1177.6L1512.2 1178.5L1512.7 1179.4L1513.1 1180.3L1513.5 1181.2L1514.0 1182.1L1514.4 1183.0L1514.9 1183.9L1515.3 1184.8L1515.7 1185.7L1516.2 1186.6L1516.6 1187.5L1517.0 1188.4L1517.5 1189.3L1517.9 1190.2L1518.4 1191.1L1518.8 1192.0L1519.2 1192.9L1519.7 1193.8L1520.1 1194.7L1520.6 1195.6L1521.0 1196.5L1521.4 1197.4L1521.9 1198.3L1522.3 1199.2L1522.8 1200.1L1523.2 1201.0L1523.6 1201.9L1524.1 1202.8L1524.5 1203.7L1525.0 1204.6L1525.4 1205.5L1525.8 1206.4L1526.3 1207.3L1526.7 1208.2L1527.2 1209.1L1527.6 1210.0L1528.0 1210.9L1528.5 1211.8L1528.9 1212.7L1529.3 1213.6L1529.8 1214.5L1530.2 1215.4L1530.6 1216.3L1531.1 1217.2L1531.5 1218.1L1531.9 1219.0L1532.4 1219.9L1532.8 1220.8L1533.2 1221.7L1533.6 1222.6L1534.0 1223.5L1534.5 1224.4L1534.9 1225.4L1535.3 1226.3L1535.7 1227.2L1536.1 1228.1L1536.5 1229.0L1536.9 1229.9L1537.4 1230.8L1537.8 1231.7L1538.2 1232.6L1538.6 1233.6L1539.0 1234.5L1539.4 1235.4L1539.8 1236.3L1540.2 1237.2L1540.6 1238.1L1541.0 1239.0L1541.4 1240.0L1541.8 1240.9L1542.2 1241.8L1542.6 1242.7L1543.0 1243.6L1543.4 1244.5L1543.8 1245.5L1544.2 1246.4L1544.5 1247.3L1544.9 1248.2L1545.3 1249.2L1545.7 1250.1L1546.0 1251.0L1546.4 1252.0L1546.7 1252.9L1547.1 1253.8L1547.4 1254.8L1547.8 1255.7L1548.1 1256.6L1548.5 1257.6L1548.8 1258.5L1549.2 1259.4L1549.5 1260.4L1549.9 1261.3L1550.2 1262.3L1550.5 1263.2L1550.9 1264.1L1551.2 1265.1L1551.6 1266.0L1551.9 1267.0L1552.3 1267.9L1552.6 1268.8L1553.0 1269.8L1553.3 1270.7L1553.7 1271.6L1554.0 1272.6L1554.4 1273.5L1554.7 1274.4L1555.1 1275.4L1555.5 1276.3L1555.8 1277.2L1556.2 1278.2L1556.6 1279.1L1556.9 1280.0L1557.3 1281.0L1557.7 1281.9L1558.0 1282.8L1558.4 1283.7L1558.8 1284.7L1559.2 1285.6L1559.6 1286.5L1560.0 1287.4L1560.3 1288.4L1560.7 1289.3L1561.1 1290.2L1561.5 1291.1L1561.9 1292.0L1562.3 1292.9L1562.7 1293.9L1563.1 1294.8L1563.5 1295.7L1563.9 1296.6L1564.4 1297.5L1564.8 1298.4L1565.2 1299.3L1565.6 1300.2L1566.0 1301.1L1566.5 1302.0L1566.9 1302.9L1567.4 1303.8L1567.8 1304.7L1568.3 1305.6L1568.7 1306.5L1569.2 1307.3L1569.7 1308.2L1570.2 1309.1L1570.7 1310.0L1571.2 1310.8L1571.7 1311.7L1572.2 1312.5L1572.7 1313.4L1573.3 1314.2L1573.8 1315.0L1574.4 1315.9L1574.9 1316.7L1575.5 1317.5L1576.0 1318.3L1576.6 1319.2L1577.2 1320.0L1577.8 1320.8L1578.4 1321.6L1579.0 1322.3L1579.6 1323.1L1580.2 1323.9L1580.9 1324.7L1581.5 1325.4L1582.2 1326.2L1582.8 1326.9L1583.5 1327.7L1584.1 1328.4L1584.8 1329.2L1585.5 1329.9L1586.2 1330.6L1586.9 1331.3L1587.6 1332.0L1588.3 1332.7L1589.1 1333.3L1589.8 1334.0L1590.6 1334.6L1591.3 1335.3L1592.1 1335.9L1592.9 1336.5L1593.6 1337.1L1594.4 1337.7L1595.3 1338.2L1596.1 1338.8L1596.9 1339.3L1597.7 1339.9L1598.6 1340.4L1599.4 1340.9L1600.3 1341.4L1601.1 1341.9L1602.0 1342.4L1602.9 1342.8L1603.8 1343.3L1604.7 1343.8L1605.6 1344.2L1606.5 1344.6L1607.4 1345.0L1608.3 1345.5L1609.2 1345.9L1610.1 1346.3L1611.0 1346.7L1611.9 1347.0L1612.8 1347.4L1613.8 1347.8L1614.7 1348.2L1615.6 1348.5L1616.6 1348.9L1617.5 1349.3L1618.4 1349.6L1619.4 1350.0L1620.3 1350.3L1621.2 1350.7L1622.2 1351.0L1623.1 1351.3L1624.1 1351.7L1625.0 1352.0L1625.9 1352.4L1626.9 1352.7L1627.8 1353.0L1628.8 1353.4L1629.7 1353.7L1630.6 1354.0L1631.6 1354.4L1632.5 1354.7L1633.5 1355.0L1634.4 1355.4L1635.4 1355.7L1636.3 1356.0L1637.3 1356.4L1638.2 1356.7L1639.1 1357.0L1640.1 1357.3L1641.0 1357.7L1642.0 1358.0L1642.9 1358.3L1643.9 1358.7L1644.8 1359.0L1645.7 1359.3L1646.7 1359.6L1647.6 1360.0L1648.6 1360.3L1649.5 1360.6L1650.5 1360.9L1651.4 1361.2L1652.4 1361.5L1653.3 1361.8L1654.3 1362.2L1655.2 1362.4L1656.2 1362.7L1657.1 1363.0L1658.1 1363.3L1659.1 1363.6L1660.0 1363.9L1661.0 1364.1L1661.9 1364.4L1662.9 1364.7L1663.9 1364.9L1664.8 1365.2L1665.8 1365.4L1666.8 1365.7L1667.8 1365.9L1668.7 1366.1L1669.7 1366.4L1670.7 1366.6L1671.6 1366.8L1672.6 1367.1L1673.6 1367.3L1674.6 1367.5L1675.5 1367.7L1676.5 1367.9L1677.5 1368.1L1678.5 1368.3L1679.5 1368.5L1680.4 1368.7L1681.4 1368.9L1682.4 1369.1L1683.4 1369.3L1684.4 1369.5L1685.3 1369.7L1686.3 1369.9L1687.3 1370.0L1688.3 1370.2L1689.3 1370.4L1690.3 1370.5L1691.2 1370.7L1692.2 1370.9L1693.2 1371.0L1694.2 1371.2L1695.2 1371.4L1696.2 1371.5L1697.2 1371.7L1698.2 1371.8L1699.1 1372.0L1700.1 1372.1L1701.1 1372.3L1702.1 1372.4L1703.1 1372.5L1704.1 1372.7L1705.1 1372.8L1706.1 1373.0L1707.1 1373.1L1708.1 1373.2L1709.0 1373.4L1710.0 1373.5L1711.0 1373.6L1712.0 1373.8L1713.0 1373.9L1714.0 1374.0L1715.0 1374.1L1716.0 1374.2L1717.0 1374.3L1718.0 1374.5L1719.0 1374.6L1720.0 1374.7L1721.0 1374.7L1721.9 1374.8L1722.9 1374.9L1723.9 1375.0L1724.9 1375.0L1725.9 1375.1L1726.9 1375.1L1727.9 1375.2L1728.9 1375.2L1729.9 1375.2L1730.9 1375.2L1731.9 1375.2L1732.9 1375.3L1733.9 1375.3L1734.9 1375.3L1735.9 1375.2L1736.9 1375.2L1737.9 1375.2L1738.9 1375.2L1739.9 1375.2L1740.9 1375.2L1741.9 1375.2L1742.9 1375.1L1743.9 1375.1L1744.9 1375.1L1745.9 1375.0L1746.9 1375.0L1747.9 1375.0L1748.9 1374.9L1749.9 1374.9L1750.9 1374.8L1751.9 1374.7L1752.9 1374.6L1753.8 1374.6L1754.8 1374.4L1755.8 1374.3L1756.8 1374.2L1757.8 1374.1L1758.8 1373.9L1759.8 1373.8L1760.7 1373.6L1761.7 1373.4L1762.7 1373.3L1763.7 1373.1L1764.6 1372.9L1765.6 1372.7L1766.6 1372.4L1767.6 1372.2L1768.5 1372.0L1769.5 1371.8L1770.5 1371.6L1771.5 1371.4L1772.4 1371.2L1773.4 1371.0L1774.4 1370.8L1775.4 1370.6L1776.3 1370.4L1777.3 1370.2L1778.3 1370.0L1779.3 1369.8L1780.3 1369.7L1781.3 1369.5L1782.2 1369.4L1783.2 1369.2L1784.2 1369.1L1785.2 1369.0L1786.2 1368.8L1787.2 1368.7L1788.2 1368.6L1789.2 1368.5L1790.2 1368.4L1791.2 1368.4L1792.1 1368.3L1793.1 1368.2L1794.1 1368.2L1795.1 1368.1L1796.1 1368.1L1797.1 1368.1L1798.1 1368.1L1799.1 1368.1L1800.1 1368.1L1801.1 1368.1L1802.1 1368.1L1803.1 1368.2L1804.1 1368.2L1805.1 1368.3L1806.0 1368.4L1807.0 1368.5L1808.0 1368.6L1809.0 1368.7L1810.0 1368.8L1811.0 1368.9L1812.0 1369.1L1813.0 1369.2L1814.0 1369.3L1814.9 1369.5L1815.9 1369.6L1816.9 1369.8L1817.9 1369.9L1818.9 1370.1L1819.9 1370.3L1820.9 1370.4L1821.9 1370.6L1822.8 1370.8L1823.8 1370.9L1824.8 1371.1L1825.8 1371.3L1826.8 1371.5L1827.8 1371.7L1828.7 1371.8L1829.7 1372.0L1830.7 1372.2L1831.7 1372.4L1832.7 1372.6L1833.6 1372.8L1834.6 1372.9L1835.6 1373.1L1836.6 1373.3L1837.6 1373.4L1838.6 1373.6L1839.6 1373.7L1840.5 1373.9L1841.5 1374.0L1842.5 1374.1L1843.5 1374.3L1844.5 1374.4L1845.5 1374.5L1846.5 1374.6L1847.5 1374.6L1848.5 1374.7L1849.4 1374.8L1850.4 1374.9L1851.4 1374.9L1852.4 1375.0L1853.4 1375.0L1854.4 1375.0L1855.3 1375.1L1856.3 1375.1L1857.2 1375.1L1858.2 1375.2L1859.1 1375.2L1860.0 1375.2L1860.8 1375.2L1861.7 1375.2L1862.5 1375.3L1863.3 1375.3L1864.0 1375.3L1864.7 1375.3L1865.4 1375.3L1866.0 1375.3L1866.5 1375.3L1867.0 1375.3L1927.0 1375.4" fill="none" stroke="#9e4c7c" stroke-width="7.0" stroke-linejoin="round" stroke-linecap="butt"/>
<path d="M104.0 1686.0L1142.2 1686.0L1142.7 1686.0L1143.3 1686.0L1144.0 1686.0L1144.7 1686.0L1145.5 1686.0L1146.4 1686.0L1147.3 1686.0L1148.2 1686.0L1149.1 1686.0L1150.1 1686.0L1151.0 1686.0L1152.0 1686.0L1153.0 1686.0L1154.0 1686.0L1155.0 1686.0L1156.0 1686.0L1157.0 1686.0L1158.0 1686.0L1159.0 1686.0L1160.0 1686.0L1161.0 1686.0L1162.0 1686.0L1163.0 1686.0L1164.0 1686.0L1165.0 1686.0L1166.0 1685.9L1167.0 1685.9L1168.0 1685.9L1169.0 1685.8L1170.0 1685.7L1170.9 1685.7L1171.9 1685.5L1172.9 1685.4L1173.9 1685.2L1174.8 1685.1L1175.8 1684.8L1176.7 1684.6L1177.7 1684.3L1178.6 1684.0L1179.5 1683.7L1180.4 1683.3L1181.3 1682.9L1182.1 1682.4L1183.0 1682.0L1183.8 1681.5L1184.6 1680.9L1185.3 1680.4L1186.0 1679.7L1186.7 1679.1L1187.4 1678.4L1188.1 1677.7L1188.7 1677.0L1189.3 1676.2L1189.9 1675.5L1190.5 1674.7L1191.1 1673.9L1191.7 1673.0L1192.2 1672.2L1192.8 1671.4L1193.3 1670.5L1193.8 1669.7L1194.3 1668.8L1194.8 1668.0L1195.3 1667.1L1195.7 1666.2L1196.2 1665.3L1196.6 1664.4L1197.0 1663.5L1197.4 1662.6L1197.8 1661.7L1198.1 1660.8L1198.5 1659.8L1198.9 1658.9L1199.2 1658.0L1199.6 1657.0L1199.9 1656.1L1200.2 1655.2L1200.6 1654.2L1200.9 1653.3L1201.3 1652.3L1201.6 1651.4L1201.9 1650.5L1202.3 1649.5L1202.6 1648.6L1202.9 1647.6L1203.2 1646.7L1203.5 1645.7L1203.8 1644.8L1204.1 1643.8L1204.4 1642.9L1204.7 1641.9L1205.0 1641.0L1205.3 1640.0L1205.5 1639.0L1205.8 1638.1L1206.1 1637.1L1206.3 1636.1L1206.6 1635.2L1206.8 1634.2L1207.0 1633.2L1207.3 1632.3L1207.5 1631.3L1207.8 1630.3L1208.0 1629.3L1208.3 1628.4L1208.5 1627.4L1208.7 1626.4L1209.0 1625.5L1209.2 1624.5L1209.4 1623.5L1209.7 1622.6L1209.9 1621.6L1210.2 1620.6L1210.4 1619.6L1210.6 1618.7L1210.8 1617.7L1211.1 1616.7L1211.3 1615.7L1211.5 1614.8L1211.7 1613.8L1211.9 1612.8L1212.1 1611.8L1212.3 1610.9L1212.5 1609.9L1212.7 1608.9L1212.9 1607.9L1213.1 1606.9L1213.3 1606.0L1213.5 1605.0L1213.7 1604.0L1213.9 1603.0L1214.1 1602.0L1214.3 1601.1L1214.5 1600.1L1214.7 1599.1L1214.9 1598.1L1215.1 1597.1L1215.3 1596.2L1215.5 1595.2L1215.7 1594.2L1215.9 1593.2L1216.1 1592.2L1216.3 1591.3L1216.5 1590.3L1216.7 1589.3L1216.9 1588.3L1217.1 1587.3L1217.3 1586.3L1217.5 1585.4L1217.7 1584.4L1217.9 1583.4L1218.1 1582.4L1218.3 1581.4L1218.5 1580.5L1218.7 1579.5L1218.9 1578.5L1219.1 1577.5L1219.3 1576.5L1219.5 1575.6L1219.7 1574.6L1219.8 1573.6L1220.0 1572.6L1220.2 1571.6L1220.4 1570.7L1220.6 1569.7L1220.8 1568.7L1221.0 1567.7L1221.2 1566.7L1221.4 1565.8L1221.6 1564.8L1221.8 1563.8L1222.0 1562.8L1222.2 1561.8L1222.4 1560.9L1222.6 1559.9L1222.8 1558.9L1223.0 1557.9L1223.2 1556.9L1223.4 1555.9L1223.5 1555.0L1223.7 1554.0L1223.9 1553.0L1224.1 1552.0L1224.3 1551.0L1224.5 1550.1L1224.7 1549.1L1224.8 1548.1L1225.0 1547.1L1225.2 1546.1L1225.3 1545.1L1225.5 1544.1L1225.7 1543.2L1225.8 1542.2L1226.0 1541.2L1226.2 1540.2L1226.3 1539.2L1226.5 1538.2L1226.6 1537.2L1226.8 1536.2L1227.0 1535.3L1227.1 1534.3L1227.3 1533.3L1227.4 1532.3L1227.6 1531.3L1227.8 1530.3L1227.9 1529.3L1228.1 1528.4L1228.2 1527.4L1228.4 1526.4L1228.6 1525.4L1228.7 1524.4L1228.9 1523.4L1229.0 1522.4L1229.2 1521.4L1229.4 1520.5L1229.5 1519.5L1229.7 1518.5L1229.8 1517.5L1230.0 1516.5L1230.1 1515.5L1230.3 1514.5L1230.5 1513.5L1230.6 1512.6L1230.8 1511.6L1230.9 1510.6L1231.1 1509.6L1231.2 1508.6L1231.4 1507.6L1231.6 1506.6L1231.7 1505.6L1231.9 1504.7L1232.0 1503.7L1232.2 1502.7L1232.3 1501.7L1232.5 1500.7L1232.6 1499.7L1232.8 1498.7L1232.9 1497.7L1233.0 1496.7L1233.2 1495.8L1233.3 1494.8L1233.5 1493.8L1233.6 1492.8L1233.8 1491.8L1233.9 1490.8L1234.1 1489.8L1234.2 1488.8L1234.4 1487.8L1234.5 1486.8L1234.7 1485.9L1234.8 1484.9L1235.0 1483.9L1235.1 1482.9L1235.2 1481.9L1235.4 1480.9L1235.5 1479.9L1235.7 1478.9L1235.8 1477.9L1236.0 1477.0L1236.1 1476.0L1236.3 1475.0L1236.4 1474.0L1236.6 1473.0L1236.7 1472.0L1236.9 1471.0L1237.0 1470.0L1237.2 1469.0L1237.3 1468.1L1237.5 1467.1L1237.6 1466.1L1237.8 1465.1L1237.9 1464.1L1238.1 1463.1L1238.2 1462.1L1238.4 1461.1L1238.5 1460.1L1238.7 1459.2L1238.8 1458.2L1239.0 1457.2L1239.1 1456.2L1239.3 1455.2L1239.4 1454.2L1239.6 1453.2L1239.7 1452.2L1239.9 1451.2L1240.0 1450.3L1240.2 1449.3L1240.3 1448.3L1240.4 1447.3L1240.6 1446.3L1240.7 1445.3L1240.9 1444.3L1241.0 1443.3L1241.2 1442.3L1241.3 1441.4L1241.5 1440.4L1241.6 1439.4L1241.8 1438.4L1241.9 1437.4L1242.1 1436.4L1242.2 1435.4L1242.4 1434.4L1242.5 1433.4L1242.7 1432.5L1242.8 1431.5L1243.0 1430.5L1243.1 1429.5L1243.3 1428.5L1243.4 1427.5L1243.6 1426.5L1243.7 1425.5L1243.8 1424.5L1244.0 1423.6L1244.1 1422.6L1244.3 1421.6L1244.4 1420.6L1244.6 1419.6L1244.7 1418.6L1244.9 1417.6L1245.0 1416.6L1245.2 1415.6L1245.3 1414.7L1245.5 1413.7L1245.6 1412.7L1245.8 1411.7L1245.9 1410.7L1246.1 1409.7L1246.2 1408.7L1246.4 1407.7L1246.6 1406.8L1246.7 1405.8L1246.9 1404.8L1247.1 1403.8L1247.3 1402.8L1247.4 1401.8L1247.6 1400.8L1247.8 1399.9L1248.0 1398.9L1248.2 1397.9L1248.4 1396.9L1248.6 1395.9L1248.8 1395.0L1249.0 1394.0L1249.2 1393.0L1249.4 1392.0L1249.6 1391.0L1249.8 1390.1L1250.0 1389.1L1250.2 1388.1L1250.4 1387.1L1250.5 1386.1L1250.7 1385.2L1250.9 1384.2L1251.1 1383.2L1251.3 1382.2L1251.5 1381.2L1251.6 1380.2L1251.8 1379.3L1252.0 1378.3L1252.1 1377.3L1252.3 1376.3L1252.5 1375.3L1252.6 1374.3L1252.8 1373.3L1252.9 1372.3L1253.1 1371.4L1253.2 1370.4L1253.4 1369.4L1253.5 1368.4L1253.7 1367.4L1253.8 1366.4L1253.9 1365.4L1254.1 1364.4L1254.2 1363.4L1254.4 1362.5L1254.5 1361.5L1254.7 1360.5L1254.8 1359.5L1255.0 1358.5L1255.1 1357.5L1255.2 1356.5L1255.4 1355.5L1255.5 1354.5L1255.7 1353.5L1255.8 1352.6L1256.0 1351.6L1256.1 1350.6L1256.3 1349.6L1256.4 1348.6L1256.6 1347.6L1256.7 1346.6L1256.9 1345.6L1257.0 1344.6L1257.2 1343.7L1257.3 1342.7L1257.5 1341.7L1257.6 1340.7L1257.7 1339.7L1257.9 1338.7L1258.0 1337.7L1258.2 1336.7L1258.3 1335.7L1258.5 1334.8L1258.6 1333.8L1258.8 1332.8L1258.9 1331.8L1259.1 1330.8L1259.2 1329.8L1259.4 1328.8L1259.5 1327.8L1259.7 1326.8L1259.9 1325.9L1260.0 1324.9L1260.2 1323.9L1260.3 1322.9L1260.5 1321.9L1260.7 1320.9L1260.8 1319.9L1261.0 1319.0L1261.2 1318.0L1261.3 1317.0L1261.5 1316.0L1261.7 1315.0L1261.9 1314.0L1262.0 1313.0L1262.2 1312.1L1262.4 1311.1L1262.6 1310.1L1262.8 1309.1L1262.9 1308.1L1263.1 1307.1L1263.3 1306.2L1263.5 1305.2L1263.7 1304.2L1263.8 1303.2L1264.0 1302.2L1264.2 1301.2L1264.4 1300.3L1264.5 1299.3L1264.7 1298.3L1264.9 1297.3L1265.1 1296.3L1265.3 1295.3L1265.4 1294.4L1265.6 1293.4L1265.8 1292.4L1266.0 1291.4L1266.2 1290.4L1266.3 1289.4L1266.5 1288.4L1266.7 1287.5L1266.9 1286.5L1267.1 1285.5L1267.2 1284.5L1267.4 1283.5L1267.6 1282.5L1267.8 1281.6L1268.0 1280.6L1268.2 1279.6L1268.3 1278.6L1268.5 1277.6L1268.7 1276.7L1268.9 1275.7L1269.1 1274.7L1269.3 1273.7L1269.5 1272.7L1269.8 1271.8L1270.0 1270.8L1270.2 1269.8L1270.4 1268.8L1270.6 1267.9L1270.8 1266.9L1271.0 1265.9L1271.3 1264.9L1271.5 1263.9L1271.7 1263.0L1271.9 1262.0L1272.1 1261.0L1272.3 1260.0L1272.5 1259.1L1272.7 1258.1L1272.9 1257.1L1273.1 1256.1L1273.3 1255.1L1273.5 1254.2L1273.7 1253.2L1273.9 1252.2L1274.1 1251.2L1274.3 1250.2L1274.5 1249.3L1274.7 1248.3L1274.8 1247.3L1275.0 1246.3L1275.2 1245.3L1275.4 1244.3L1275.6 1243.4L1275.8 1242.4L1275.9 1241.4L1276.1 1240.4L1276.3 1239.4L1276.5 1238.4L1276.7 1237.5L1276.8 1236.5L1277.0 1235.5L1277.2 1234.5L1277.4 1233.5L1277.6 1232.6L1277.8 1231.6L1278.0 1230.6L1278.3 1229.6L1278.5 1228.6L1278.7 1227.7L1278.9 1226.7L1279.2 1225.7L1279.4 1224.8L1279.6 1223.8L1279.9 1222.8L1280.1 1221.9L1280.4 1220.9L1280.6 1219.9L1280.9 1218.9L1281.1 1218.0L1281.4 1217.0L1281.6 1216.0L1281.8 1215.1L1282.1 1214.1L1282.3 1213.1L1282.5 1212.1L1282.8 1211.2L1283.0 1210.2L1283.2 1209.2L1283.4 1208.2L1283.6 1207.3L1283.8 1206.3L1284.0 1205.3L1284.2 1204.3L1284.4 1203.4L1284.6 1202.4L1284.8 1201.4L1285.0 1200.4L1285.2 1199.4L1285.4 1198.5L1285.6 1197.5L1285.8 1196.5L1286.0 1195.5L1286.2 1194.5L1286.4 1193.6L1286.6 1192.6L1286.8 1191.6L1287.0 1190.6L1287.2 1189.6L1287.4 1188.6L1287.6 1187.7L1287.8 1186.7L1288.0 1185.7L1288.2 1184.7L1288.4 1183.7L1288.6 1182.8L1288.8 1181.8L1289.0 1180.8L1289.2 1179.8L1289.4 1178.8L1289.6 1177.9L1289.8 1176.9L1290.0 1175.9L1290.2 1174.9L1290.4 1174.0L1290.6 1173.0L1290.9 1172.0L1291.1 1171.0L1291.3 1170.1L1291.6 1169.1L1291.8 1168.1L1292.0 1167.1L1292.3 1166.2L1292.5 1165.2L1292.8 1164.2L1293.0 1163.3L1293.3 1162.3L1293.5 1161.3L1293.8 1160.4L1294.0 1159.4L1294.3 1158.4L1294.6 1157.5L1294.9 1156.5L1295.1 1155.6L1295.4 1154.6L1295.7 1153.7L1296.0 1152.7L1296.3 1151.7L1296.6 1150.8L1296.9 1149.8L1297.2 1148.9L1297.6 1147.9L1297.9 1147.0L1298.2 1146.0L1298.5 1145.1L1298.9 1144.2L1299.2 1143.2L1299.5 1142.3L1299.9 1141.3L1300.2 1140.4L1300.6 1139.5L1301.0 1138.5L1301.3 1137.6L1301.7 1136.7L1302.0 1135.7L1302.4 1134.8L1302.8 1133.9L1303.2 1133.0L1303.6 1132.0L1303.9 1131.1L1304.3 1130.2L1304.7 1129.3L1305.1 1128.4L1305.5 1127.5L1305.9 1126.5L1306.4 1125.6L1306.8 1124.7L1307.2 1123.8L1307.6 1122.9L1308.1 1122.0L1308.5 1121.1L1308.9 1120.2L1309.4 1119.3L1309.9 1118.5L1310.4 1117.6L1310.8 1116.7L1311.3 1115.9L1311.9 1115.0L1312.4 1114.2L1312.9 1113.4L1313.5 1112.6L1314.1 1111.8L1314.7 1111.0L1315.3 1110.2L1316.0 1109.5L1316.7 1108.8L1317.3 1108.1L1318.1 1107.5L1318.8 1106.9L1319.6 1106.3L1320.4 1105.8L1321.2 1105.3L1322.0 1104.9L1322.9 1104.5L1323.8 1104.2L1324.7 1103.9L1325.6 1103.7L1326.5 1103.5L1327.4 1103.4L1328.4 1103.4L1329.3 1103.4L1330.3 1103.4L1331.2 1103.5L1332.1 1103.7L1333.1 1103.9L1334.0 1104.2L1334.9 1104.5L1335.7 1104.8L1336.6 1105.3L1337.4 1105.7L1338.2 1106.2L1339.0 1106.8L1339.8 1107.3L1340.5 1108.0L1341.2 1108.6L1341.9 1109.3L1342.6 1110.0L1343.2 1110.7L1343.9 1111.5L1344.5 1112.3L1345.0 1113.1L1345.6 1113.9L1346.2 1114.7L1346.7 1115.5L1347.2 1116.4L1347.7 1117.2L1348.2 1118.1L1348.7 1119.0L1349.2 1119.8L1349.7 1120.7L1350.2 1121.6L1350.6 1122.5L1351.1 1123.4L1351.5 1124.3L1352.0 1125.2L1352.5 1126.0L1352.9 1126.9L1353.4 1127.8L1353.8 1128.7L1354.2 1129.6L1354.7 1130.5L1355.1 1131.4L1355.5 1132.3L1356.0 1133.2L1356.4 1134.1L1356.8 1135.0L1357.2 1136.0L1357.6 1136.9L1358.0 1137.8L1358.4 1138.7L1358.9 1139.6L1359.3 1140.5L1359.7 1141.4L1360.1 1142.3L1360.5 1143.3L1360.9 1144.2L1361.3 1145.1L1361.7 1146.0L1362.1 1146.9L1362.5 1147.8L1362.9 1148.8L1363.3 1149.7L1363.7 1150.6L1364.1 1151.5L1364.4 1152.4L1364.8 1153.4L1365.2 1154.3L1365.6 1155.2L1366.0 1156.1L1366.4 1157.0L1366.8 1158.0L1367.2 1158.9L1367.6 1159.8L1368.0 1160.7L1368.3 1161.6L1368.7 1162.6L1369.1 1163.5L1369.5 1164.4L1369.9 1165.3L1370.2 1166.3L1370.6 1167.2L1371.0 1168.1L1371.4 1169.0L1371.8 1170.0L1372.1 1170.9L1372.5 1171.8L1372.9 1172.7L1373.3 1173.7L1373.7 1174.6L1374.0 1175.5L1374.4 1176.4L1374.8 1177.4L1375.2 1178.3L1375.6 1179.2L1376.0 1180.1L1376.3 1181.1L1376.7 1182.0L1377.1 1182.9L1377.5 1183.8L1377.9 1184.8L1378.3 1185.7L1378.6 1186.6L1379.0 1187.5L1379.4 1188.4L1379.8 1189.4L1380.2 1190.3L1380.6 1191.2L1381.0 1192.1L1381.4 1193.0L1381.8 1193.9L1382.2 1194.9L1382.6 1195.8L1383.0 1196.7L1383.5 1197.6L1383.9 1198.5L1384.3 1199.4L1384.7 1200.3L1385.2 1201.2L1385.6 1202.1L1386.1 1203.0L1386.5 1203.9L1387.0 1204.8L1387.4 1205.7L1387.9 1206.6L1388.3 1207.5L1388.8 1208.3L1389.2 1209.2L1389.7 1210.1L1390.2 1211.0L1390.6 1211.9L1391.1 1212.8L1391.6 1213.7L1392.0 1214.5L1392.5 1215.4L1393.0 1216.3L1393.5 1217.2L1394.0 1218.0L1394.5 1218.9L1395.0 1219.8L1395.5 1220.6L1396.0 1221.5L1396.5 1222.3L1397.0 1223.2L1397.5 1224.0L1398.1 1224.9L1398.6 1225.7L1399.2 1226.6L1399.7 1227.4L1400.3 1228.2L1400.9 1229.0L1401.4 1229.8L1402.1 1230.6L1402.7 1231.3L1403.3 1232.1L1404.0 1232.8L1404.7 1233.5L1405.4 1234.2L1406.1 1234.8L1406.8 1235.4L1407.6 1236.0L1408.4 1236.6L1409.2 1237.1L1410.0 1237.6L1410.9 1238.1L1411.8 1238.5L1412.6 1238.9L1413.5 1239.2L1414.5 1239.5L1415.4 1239.7L1416.3 1239.9L1417.2 1240.1L1418.2 1240.2L1419.1 1240.2L1420.1 1240.2L1421.0 1240.1L1421.9 1240.0L1422.9 1239.8L1423.8 1239.6L1424.7 1239.3L1425.6 1239.0L1426.5 1238.6L1427.4 1238.2L1428.2 1237.8L1429.1 1237.3L1429.9 1236.8L1430.7 1236.3L1431.5 1235.7L1432.3 1235.2L1433.1 1234.6L1433.9 1234.0L1434.7 1233.3L1435.5 1232.7L1436.3 1232.1L1437.0 1231.5L1437.8 1230.9L1438.6 1230.3L1439.4 1229.7L1440.2 1229.1L1441.0 1228.6L1441.9 1228.0L1442.7 1227.5L1443.5 1227.0L1444.4 1226.5L1445.3 1226.1L1446.2 1225.7L1447.1 1225.4L1448.0 1225.0L1448.9 1224.7L1449.8 1224.5L1450.8 1224.2L1451.7 1224.1L1452.7 1223.9L1453.7 1223.8L1454.6 1223.8L1455.6 1223.8L1456.5 1223.8L1457.5 1223.9L1458.5 1224.0L1459.4 1224.1L1460.3 1224.4L1461.3 1224.6L1462.2 1224.9L1463.1 1225.2L1464.0 1225.6L1464.8 1226.0L1465.7 1226.5L1466.5 1227.0L1467.3 1227.6L1468.0 1228.1L1468.8 1228.8L1469.5 1229.4L1470.2 1230.1L1470.9 1230.8L1471.6 1231.5L1472.2 1232.2L1472.9 1233.0L1473.5 1233.7L1474.1 1234.5L1474.7 1235.3L1475.3 1236.1L1475.9 1236.9L1476.5 1237.7L1477.0 1238.6L1477.6 1239.4L1478.1 1240.2L1478.6 1241.1L1479.1 1241.9L1479.6 1242.8L1480.1 1243.7L1480.6 1244.5L1481.0 1245.4L1481.5 1246.3L1482.0 1247.2L1482.4 1248.1L1482.9 1249.0L1483.3 1249.9L1483.8 1250.8L1484.2 1251.7L1484.7 1252.6L1485.1 1253.4L1485.5 1254.3L1486.0 1255.2L1486.4 1256.1L1486.8 1257.0L1487.3 1257.9L1487.7 1258.9L1488.1 1259.8L1488.5 1260.7L1489.0 1261.6L1489.4 1262.5L1489.8 1263.4L1490.2 1264.3L1490.6 1265.2L1491.0 1266.2L1491.4 1267.1L1491.8 1268.0L1492.2 1268.9L1492.6 1269.8L1493.0 1270.7L1493.4 1271.7L1493.7 1272.6L1494.1 1273.5L1494.5 1274.4L1494.9 1275.3L1495.3 1276.3L1495.7 1277.2L1496.1 1278.1L1496.5 1279.0L1496.9 1279.9L1497.3 1280.8L1497.7 1281.8L1498.1 1282.7L1498.5 1283.6L1498.9 1284.5L1499.3 1285.4L1499.7 1286.4L1500.0 1287.3L1500.4 1288.2L1500.8 1289.1L1501.2 1290.0L1501.6 1291.0L1502.0 1291.9L1502.4 1292.8L1502.8 1293.7L1503.2 1294.6L1503.6 1295.6L1504.0 1296.5L1504.4 1297.4L1504.7 1298.3L1505.1 1299.2L1505.5 1300.2L1505.9 1301.1L1506.3 1302.0L1506.7 1302.9L1507.1 1303.8L1507.5 1304.8L1507.9 1305.7L1508.3 1306.6L1508.7 1307.5L1509.1 1308.4L1509.5 1309.4L1509.9 1310.3L1510.3 1311.2L1510.6 1312.1L1511.0 1313.0L1511.4 1314.0L1511.8 1314.9L1512.2 1315.8L1512.6 1316.7L1513.0 1317.6L1513.4 1318.6L1513.8 1319.5L1514.2 1320.4L1514.6 1321.3L1515.0 1322.2L1515.4 1323.2L1515.8 1324.1L1516.1 1325.0L1516.5 1325.9L1516.9 1326.8L1517.3 1327.8L1517.7 1328.7L1518.0 1329.6L1518.4 1330.6L1518.8 1331.5L1519.1 1332.4L1519.5 1333.3L1519.9 1334.3L1520.2 1335.2L1520.6 1336.1L1520.9 1337.1L1521.3 1338.0L1521.7 1338.9L1522.0 1339.9L1522.4 1340.8L1522.8 1341.7L1523.1 1342.7L1523.5 1343.6L1523.8 1344.5L1524.2 1345.5L1524.6 1346.4L1524.9 1347.3L1525.3 1348.2L1525.7 1349.2L1526.0 1350.1L1526.4 1351.0L1526.8 1352.0L1527.1 1352.9L1527.5 1353.8L1527.9 1354.8L1528.2 1355.7L1528.6 1356.6L1528.9 1357.6L1529.3 1358.5L1529.6 1359.4L1529.9 1360.4L1530.3 1361.3L1530.6 1362.3L1530.9 1363.2L1531.2 1364.2L1531.5 1365.1L1531.8 1366.1L1532.1 1367.0L1532.4 1368.0L1532.7 1369.0L1533.0 1369.9L1533.3 1370.9L1533.5 1371.8L1533.8 1372.8L1534.1 1373.7L1534.4 1374.7L1534.7 1375.7L1535.0 1376.6L1535.2 1377.6L1535.5 1378.5L1535.8 1379.5L1536.1 1380.5L1536.4 1381.4L1536.6 1382.4L1536.9 1383.3L1537.2 1384.3L1537.4 1385.3L1537.7 1386.2L1538.0 1387.2L1538.3 1388.2L1538.5 1389.1L1538.8 1390.1L1539.1 1391.1L1539.3 1392.0L1539.6 1393.0L1539.9 1393.9L1540.1 1394.9L1540.4 1395.9L1540.7 1396.8L1541.0 1397.8L1541.2 1398.8L1541.5 1399.7L1541.8 1400.7L1542.0 1401.6L1542.3 1402.6L1542.6 1403.6L1542.9 1404.5L1543.1 1405.5L1543.4 1406.5L1543.7 1407.4L1544.0 1408.4L1544.2 1409.3L1544.5 1410.3L1544.8 1411.3L1545.1 1412.2L1545.3 1413.2L1545.6 1414.1L1545.9 1415.1L1546.2 1416.1L1546.5 1417.0L1546.8 1418.0L1547.0 1418.9L1547.3 1419.9L1547.6 1420.8L1547.9 1421.8L1548.2 1422.7L1548.5 1423.7L1548.8 1424.7L1549.1 1425.6L1549.4 1426.6L1549.7 1427.5L1550.0 1428.5L1550.3 1429.4L1550.6 1430.4L1550.9 1431.3L1551.2 1432.3L1551.5 1433.2L1551.8 1434.2L1552.1 1435.1L1552.4 1436.1L1552.7 1437.1L1553.1 1438.0L1553.4 1439.0L1553.7 1439.9L1554.0 1440.9L1554.3 1441.8L1554.6 1442.8L1554.9 1443.7L1555.2 1444.7L1555.5 1445.6L1555.8 1446.6L1556.1 1447.5L1556.4 1448.5L1556.7 1449.4L1557.0 1450.4L1557.3 1451.3L1557.6 1452.3L1557.9 1453.2L1558.2 1454.2L1558.5 1455.1L1558.9 1456.1L1559.2 1457.1L1559.5 1458.0L1559.8 1459.0L1560.1 1459.9L1560.4 1460.9L1560.7 1461.8L1561.0 1462.8L1561.3 1463.7L1561.6 1464.7L1561.9 1465.6L1562.2 1466.6L1562.5 1467.5L1562.8 1468.5L1563.2 1469.4L1563.5 1470.4L1563.8 1471.3L1564.1 1472.3L1564.4 1473.2L1564.7 1474.2L1565.1 1475.1L1565.4 1476.1L1565.7 1477.0L1566.0 1477.9L1566.4 1478.9L1566.7 1479.8L1567.0 1480.8L1567.4 1481.7L1567.7 1482.7L1568.0 1483.6L1568.4 1484.5L1568.7 1485.5L1569.0 1486.4L1569.4 1487.4L1569.7 1488.3L1570.0 1489.3L1570.3 1490.2L1570.6 1491.2L1570.9 1492.1L1571.2 1493.1L1571.5 1494.0L1571.8 1495.0L1572.1 1495.9L1572.4 1496.9L1572.7 1497.9L1573.0 1498.8L1573.2 1499.8L1573.5 1500.7L1573.8 1501.7L1574.0 1502.7L1574.3 1503.6L1574.6 1504.6L1574.8 1505.6L1575.1 1506.5L1575.3 1507.5L1575.6 1508.5L1575.9 1509.4L1576.1 1510.4L1576.4 1511.4L1576.7 1512.3L1576.9 1513.3L1577.2 1514.2L1577.5 1515.2L1577.7 1516.2L1578.0 1517.1L1578.3 1518.1L1578.5 1519.1L1578.8 1520.0L1579.1 1521.0L1579.3 1522.0L1579.6 1522.9L1579.9 1523.9L1580.1 1524.8L1580.4 1525.8L1580.7 1526.8L1581.0 1527.7L1581.2 1528.7L1581.5 1529.6L1581.8 1530.6L1582.1 1531.6L1582.3 1532.5L1582.6 1533.5L1582.9 1534.4L1583.2 1535.4L1583.5 1536.4L1583.8 1537.3L1584.1 1538.3L1584.3 1539.2L1584.6 1540.2L1584.9 1541.1L1585.2 1542.1L1585.5 1543.1L1585.8 1544.0L1586.1 1545.0L1586.4 1545.9L1586.7 1546.9L1587.0 1547.8L1587.3 1548.8L1587.7 1549.7L1588.0 1550.7L1588.3 1551.6L1588.6 1552.6L1589.0 1553.5L1589.3 1554.4L1589.6 1555.4L1590.0 1556.3L1590.4 1557.2L1590.7 1558.2L1591.1 1559.1L1591.5 1560.0L1591.9 1560.9L1592.3 1561.8L1592.7 1562.8L1593.1 1563.7L1593.5 1564.6L1593.9 1565.5L1594.3 1566.4L1594.7 1567.3L1595.1 1568.2L1595.6 1569.1L1596.0 1570.1L1596.4 1571.0L1596.8 1571.9L1597.2 1572.8L1597.6 1573.7L1598.0 1574.6L1598.4 1575.5L1598.8 1576.4L1599.3 1577.4L1599.7 1578.3L1600.1 1579.2L1600.5 1580.1L1600.9 1581.0L1601.3 1581.9L1601.7 1582.8L1602.2 1583.7L1602.6 1584.6L1603.0 1585.5L1603.4 1586.4L1603.9 1587.3L1604.3 1588.2L1604.7 1589.1L1605.2 1590.0L1605.6 1590.9L1606.0 1591.8L1606.5 1592.7L1606.9 1593.6L1607.4 1594.5L1607.8 1595.4L1608.3 1596.3L1608.8 1597.2L1609.2 1598.0L1609.7 1598.9L1610.2 1599.8L1610.7 1600.7L1611.2 1601.5L1611.7 1602.4L1612.3 1603.2L1612.8 1604.1L1613.3 1604.9L1613.9 1605.7L1614.4 1606.6L1615.0 1607.4L1615.5 1608.2L1616.1 1609.0L1616.7 1609.9L1617.3 1610.7L1617.8 1611.5L1618.4 1612.3L1619.0 1613.1L1619.6 1613.9L1620.2 1614.7L1620.8 1615.6L1621.4 1616.4L1622.0 1617.2L1622.6 1618.0L1623.2 1618.8L1623.8 1619.6L1624.4 1620.3L1625.0 1621.1L1625.6 1621.9L1626.2 1622.7L1626.8 1623.5L1627.5 1624.3L1628.1 1625.0L1628.8 1625.8L1629.4 1626.5L1630.1 1627.3L1630.7 1628.0L1631.4 1628.8L1632.1 1629.5L1632.8 1630.2L1633.5 1631.0L1634.1 1631.7L1634.8 1632.4L1635.5 1633.1L1636.2 1633.8L1636.9 1634.5L1637.7 1635.2L1638.4 1636.0L1639.1 1636.7L1639.8 1637.4L1640.5 1638.1L1641.2 1638.8L1641.9 1639.5L1642.6 1640.2L1643.3 1640.9L1644.0 1641.6L1644.7 1642.3L1645.5 1643.0L1646.2 1643.7L1646.9 1644.4L1647.6 1645.0L1648.4 1645.7L1649.1 1646.4L1649.9 1647.0L1650.6 1647.7L1651.4 1648.4L1652.1 1649.0L1652.9 1649.6L1653.7 1650.3L1654.5 1650.9L1655.2 1651.5L1656.0 1652.1L1656.8 1652.7L1657.6 1653.4L1658.4 1654.0L1659.2 1654.6L1660.0 1655.2L1660.8 1655.7L1661.6 1656.3L1662.4 1656.9L1663.3 1657.5L1664.1 1658.1L1664.9 1658.6L1665.7 1659.2L1666.5 1659.8L1667.4 1660.3L1668.2 1660.9L1669.0 1661.4L1669.9 1661.9L1670.7 1662.5L1671.6 1663.0L1672.4 1663.5L1673.3 1664.1L1674.1 1664.6L1675.0 1665.1L1675.8 1665.6L1676.7 1666.1L1677.6 1666.6L1678.4 1667.1L1679.3 1667.6L1680.2 1668.1L1681.0 1668.6L1681.9 1669.1L1682.8 1669.6L1683.7 1670.1L1684.5 1670.5L1685.4 1671.0L1686.3 1671.5L1687.2 1672.0L1688.1 1672.4L1689.0 1672.9L1689.8 1673.3L1690.7 1673.8L1691.6 1674.3L1692.5 1674.7L1693.4 1675.1L1694.3 1675.6L1695.2 1676.0L1696.1 1676.4L1697.0 1676.9L1697.9 1677.3L1698.9 1677.7L1699.8 1678.1L1700.7 1678.5L1701.6 1678.8L1702.5 1679.2L1703.5 1679.6L1704.4 1680.0L1705.3 1680.3L1706.3 1680.7L1707.2 1681.0L1708.1 1681.3L1709.1 1681.6L1710.0 1681.9L1711.0 1682.2L1711.9 1682.5L1712.9 1682.8L1713.9 1683.1L1714.8 1683.3L1715.8 1683.6L1716.8 1683.8L1717.7 1684.0L1718.7 1684.2L1719.7 1684.4L1720.7 1684.6L1721.7 1684.8L1722.6 1684.9L1723.6 1685.1L1724.6 1685.2L1725.6 1685.3L1726.6 1685.4L1727.6 1685.5L1728.6 1685.6L1729.6 1685.7L1730.6 1685.8L1731.6 1685.8L1732.6 1685.9L1733.6 1685.9L1734.6 1686.0L1735.6 1686.0L1736.6 1686.0L1737.6 1686.0L1738.6 1686.1L1739.6 1686.1L1740.6 1686.1L1741.6 1686.1L1742.6 1686.1L1743.6 1686.2L1744.6 1686.2L1745.6 1686.2L1746.6 1686.2L1747.6 1686.2L1748.6 1686.2L1749.6 1686.1L1750.6 1686.1L1751.5 1686.1L1752.5 1686.1L1753.5 1686.0L1754.5 1686.0L1755.5 1686.0L1756.5 1685.9L1757.5 1685.9L1758.5 1685.9L1759.5 1685.8L1760.5 1685.8L1761.5 1685.7L1762.5 1685.7L1763.5 1685.6L1764.5 1685.5L1765.5 1685.5L1766.5 1685.4L1767.5 1685.4L1768.5 1685.3L1769.5 1685.2L1770.5 1685.1L1771.5 1685.1L1772.5 1685.0L1773.5 1684.9L1774.5 1684.9L1775.5 1684.8L1776.5 1684.7L1777.5 1684.7L1778.5 1684.6L1779.5 1684.5L1780.5 1684.5L1781.5 1684.4L1782.5 1684.4L1783.5 1684.3L1784.5 1684.3L1785.5 1684.2L1786.5 1684.2L1787.5 1684.1L1788.5 1684.1L1789.5 1684.1L1790.5 1684.1L1791.5 1684.0L1792.5 1684.0L1793.5 1684.0L1794.5 1683.9L1795.5 1683.9L1796.5 1683.9L1797.5 1683.9L1798.5 1683.9L1799.5 1683.8L1800.5 1683.8L1801.5 1683.8L1802.5 1683.8L1803.5 1683.8L1804.5 1683.8L1805.5 1683.8L1806.5 1683.8L1807.5 1683.8L1808.5 1683.8L1809.5 1683.8L1810.5 1683.8L1811.5 1683.9L1812.5 1683.9L1813.5 1683.9L1814.5 1683.9L1815.5 1683.9L1816.5 1684.0L1817.5 1684.0L1818.5 1684.0L1819.5 1684.0L1820.5 1684.1L1821.5 1684.1L1822.5 1684.1L1823.5 1684.2L1824.5 1684.2L1825.5 1684.2L1826.5 1684.3L1827.5 1684.3L1828.5 1684.4L1829.5 1684.4L1830.5 1684.5L1831.5 1684.6L1832.5 1684.6L1833.5 1684.7L1834.5 1684.8L1835.5 1684.8L1836.4 1684.9L1837.4 1685.0L1838.4 1685.1L1839.4 1685.1L1840.4 1685.2L1841.4 1685.3L1842.4 1685.3L1843.4 1685.4L1844.4 1685.5L1845.4 1685.5L1846.4 1685.6L1847.4 1685.7L1848.4 1685.7L1849.4 1685.8L1850.4 1685.9L1851.4 1685.9L1852.4 1686.0L1853.4 1686.0L1854.4 1686.1L1855.4 1686.1L1856.4 1686.2L1857.4 1686.2L1858.4 1686.3L1859.4 1686.3L1860.4 1686.4L1861.4 1686.4L1862.4 1686.5L1863.4 1686.5L1864.4 1686.6L1865.4 1686.6L1866.4 1686.7L1867.4 1686.7L1868.4 1686.7L1869.4 1686.8L1870.4 1686.8L1871.4 1686.8L1872.4 1686.8L1873.4 1686.9L1874.4 1686.9L1875.4 1686.9L1876.4 1686.9L1877.4 1686.9L1878.4 1686.9L1879.4 1686.9L1880.4 1686.9L1881.4 1686.9L1882.4 1686.9L1883.4 1686.9L1884.4 1686.9L1885.4 1687.0L1886.4 1687.0L1887.4 1687.0L1888.4 1687.0L1889.3 1687.0L1890.3 1687.0L1891.2 1687.0L1892.2 1687.0L1893.1 1687.0L1893.9 1687.0L1894.8 1687.0L1895.5 1687.0L1896.3 1687.0L1896.9 1687.0L1897.5 1687.0L1898.0 1687.0L1927.0 1687.0" fill="none" stroke="#0a90c6" stroke-width="7.5" stroke-linejoin="round" stroke-linecap="butt"/>
<path d="M104.0 1885.8L782.4 1885.8L782.9 1885.8L783.5 1885.7L784.2 1885.7L784.9 1885.7L785.7 1885.7L786.5 1885.7L787.4 1885.7L788.3 1885.7L789.2 1885.7L790.1 1885.6L791.1 1885.6L792.0 1885.6L793.0 1885.6L794.0 1885.6L795.0 1885.6L796.0 1885.6L797.0 1885.5L798.0 1885.5L799.0 1885.5L800.0 1885.5L801.0 1885.5L802.0 1885.5L803.0 1885.5L804.0 1885.4L805.0 1885.4L806.0 1885.4L807.0 1885.4L808.0 1885.4L809.0 1885.4L810.0 1885.3L811.0 1885.3L812.0 1885.3L813.0 1885.3L814.0 1885.3L815.0 1885.3L816.0 1885.3L817.0 1885.2L818.0 1885.2L819.0 1885.2L820.0 1885.2L821.0 1885.2L822.0 1885.1L823.0 1885.1L824.0 1885.1L825.0 1885.1L826.0 1885.0L827.0 1885.0L828.0 1885.0L829.0 1884.9L830.0 1884.8L831.0 1884.8L832.0 1884.7L833.0 1884.6L834.0 1884.5L834.9 1884.4L835.9 1884.3L836.9 1884.2L837.9 1884.0L838.9 1883.9L839.9 1883.7L840.9 1883.6L841.9 1883.5L842.9 1883.3L843.8 1883.1L844.8 1883.0L845.8 1882.8L846.8 1882.7L847.8 1882.5L848.8 1882.4L849.8 1882.2L850.8 1882.1L851.8 1882.0L852.7 1881.8L853.7 1881.7L854.7 1881.5L855.7 1881.4L856.7 1881.3L857.7 1881.1L858.7 1881.0L859.7 1880.9L860.7 1880.8L861.7 1880.7L862.7 1880.6L863.7 1880.5L864.6 1880.4L865.6 1880.3L866.6 1880.2L867.6 1880.1L868.6 1880.1L869.6 1880.0L870.6 1880.0L871.6 1879.9L872.6 1879.9L873.6 1879.8L874.6 1879.8L875.6 1879.7L876.6 1879.7L877.6 1879.7L878.6 1879.6L879.6 1879.6L880.6 1879.6L881.6 1879.5L882.6 1879.5L883.6 1879.5L884.6 1879.5L885.6 1879.5L886.6 1879.4L887.6 1879.4L888.6 1879.4L889.6 1879.4L890.6 1879.4L891.6 1879.5L892.6 1879.5L893.6 1879.5L894.6 1879.5L895.6 1879.5L896.6 1879.5L897.6 1879.6L898.6 1879.6L899.6 1879.6L900.6 1879.6L901.6 1879.7L902.6 1879.7L903.6 1879.7L904.6 1879.8L905.6 1879.8L906.6 1879.9L907.6 1879.9L908.6 1880.0L909.6 1880.0L910.6 1880.1L911.6 1880.1L912.6 1880.2L913.6 1880.3L914.6 1880.4L915.6 1880.4L916.6 1880.5L917.6 1880.6L918.6 1880.7L919.6 1880.8L920.6 1880.9L921.6 1880.9L922.5 1881.0L923.5 1881.1L924.5 1881.2L925.5 1881.3L926.5 1881.4L927.5 1881.5L928.5 1881.6L929.5 1881.7L930.5 1881.8L931.5 1881.9L932.5 1882.0L933.5 1882.1L934.5 1882.3L935.5 1882.4L936.5 1882.5L937.5 1882.6L938.5 1882.7L939.4 1882.8L940.4 1883.0L941.4 1883.1L942.4 1883.2L943.4 1883.3L944.4 1883.4L945.4 1883.6L946.4 1883.7L947.4 1883.8L948.4 1883.9L949.4 1884.0L950.4 1884.1L951.4 1884.2L952.4 1884.3L953.4 1884.3L954.4 1884.4L955.4 1884.5L956.4 1884.6L957.3 1884.6L958.3 1884.7L959.3 1884.7L960.3 1884.8L961.3 1884.9L962.3 1884.9L963.3 1885.0L964.3 1885.0L965.3 1885.1L966.3 1885.1L967.3 1885.2L968.3 1885.2L969.3 1885.2L970.3 1885.3L971.3 1885.3L972.3 1885.4L973.3 1885.4L974.3 1885.4L975.3 1885.5L976.3 1885.5L977.3 1885.5L978.3 1885.5L979.3 1885.5L980.3 1885.6L981.3 1885.6L982.3 1885.6L983.3 1885.6L984.3 1885.6L985.3 1885.6L986.3 1885.6L987.3 1885.7L988.3 1885.7L989.2 1885.7L990.2 1885.7L991.1 1885.7L992.0 1885.7L992.9 1885.7L993.8 1885.7L994.6 1885.7L995.3 1885.7L996.0 1885.8L996.7 1885.8L997.3 1885.8L997.8 1885.8L1102.4 1886.0L1102.9 1886.0L1103.5 1886.1L1104.2 1886.1L1104.9 1886.1L1105.7 1886.1L1106.5 1886.1L1107.4 1886.1L1108.3 1886.1L1109.2 1886.1L1110.1 1886.1L1111.1 1886.2L1112.0 1886.2L1113.0 1886.2L1114.0 1886.2L1115.0 1886.2L1116.0 1886.2L1117.0 1886.2L1118.0 1886.3L1119.0 1886.3L1120.0 1886.3L1121.0 1886.3L1122.0 1886.3L1123.0 1886.3L1124.0 1886.3L1125.0 1886.4L1126.0 1886.4L1127.0 1886.4L1128.0 1886.4L1129.0 1886.4L1130.0 1886.4L1131.0 1886.4L1132.0 1886.4L1133.0 1886.4L1134.0 1886.4L1135.0 1886.4L1136.0 1886.3L1137.0 1886.3L1138.0 1886.3L1139.0 1886.3L1140.0 1886.2L1141.0 1886.2L1142.0 1886.1L1142.9 1886.0L1143.9 1885.9L1144.9 1885.8L1145.9 1885.6L1146.9 1885.5L1147.8 1885.3L1148.8 1885.1L1149.7 1884.9L1150.7 1884.6L1151.6 1884.3L1152.5 1884.0L1153.5 1883.6L1154.4 1883.3L1155.3 1882.9L1156.2 1882.4L1157.0 1882.0L1157.9 1881.5L1158.8 1881.1L1159.6 1880.6L1160.4 1880.0L1161.3 1879.5L1162.1 1878.9L1162.9 1878.3L1163.6 1877.7L1164.4 1877.1L1165.2 1876.5L1165.9 1875.8L1166.7 1875.2L1167.4 1874.5L1168.1 1873.8L1168.8 1873.1L1169.5 1872.4L1170.2 1871.7L1170.9 1871.0L1171.5 1870.2L1172.2 1869.5L1172.8 1868.7L1173.4 1867.9L1174.0 1867.1L1174.6 1866.3L1175.2 1865.5L1175.8 1864.7L1176.3 1863.9L1176.9 1863.1L1177.4 1862.2L1177.9 1861.4L1178.5 1860.5L1179.0 1859.7L1179.5 1858.8L1180.0 1858.0L1180.4 1857.1L1180.9 1856.2L1181.4 1855.3L1181.8 1854.4L1182.2 1853.5L1182.6 1852.6L1183.1 1851.7L1183.4 1850.8L1183.8 1849.9L1184.2 1849.0L1184.6 1848.0L1185.0 1847.1L1185.3 1846.2L1185.7 1845.2L1186.1 1844.3L1186.4 1843.4L1186.8 1842.4L1187.1 1841.5L1187.5 1840.6L1187.8 1839.6L1188.1 1838.7L1188.5 1837.8L1188.8 1836.8L1189.1 1835.9L1189.4 1834.9L1189.7 1834.0L1190.0 1833.0L1190.3 1832.1L1190.6 1831.1L1190.9 1830.1L1191.1 1829.2L1191.4 1828.2L1191.7 1827.3L1191.9 1826.3L1192.2 1825.3L1192.5 1824.4L1192.7 1823.4L1193.0 1822.4L1193.2 1821.5L1193.5 1820.5L1193.8 1819.5L1194.0 1818.6L1194.3 1817.6L1194.5 1816.6L1194.8 1815.7L1195.0 1814.7L1195.3 1813.7L1195.5 1812.7L1195.8 1811.8L1196.0 1810.8L1196.2 1809.8L1196.5 1808.9L1196.7 1807.9L1196.9 1806.9L1197.2 1806.0L1197.4 1805.0L1197.6 1804.0L1197.9 1803.0L1198.1 1802.1L1198.3 1801.1L1198.6 1800.1L1198.8 1799.1L1199.0 1798.2L1199.2 1797.2L1199.5 1796.2L1199.7 1795.2L1199.9 1794.3L1200.1 1793.3L1200.4 1792.3L1200.6 1791.3L1200.8 1790.4L1201.0 1789.4L1201.3 1788.4L1201.5 1787.4L1201.7 1786.5L1201.9 1785.5L1202.2 1784.5L1202.4 1783.6L1202.6 1782.6L1202.8 1781.6L1203.1 1780.6L1203.3 1779.7L1203.5 1778.7L1203.7 1777.7L1204.0 1776.7L1204.2 1775.8L1204.4 1774.8L1204.6 1773.8L1204.9 1772.8L1205.1 1771.9L1205.3 1770.9L1205.5 1769.9L1205.7 1768.9L1206.0 1768.0L1206.2 1767.0L1206.4 1766.0L1206.6 1765.0L1206.8 1764.0L1207.0 1763.1L1207.2 1762.1L1207.4 1761.1L1207.6 1760.1L1207.8 1759.2L1208.0 1758.2L1208.3 1757.2L1208.5 1756.2L1208.7 1755.2L1208.9 1754.3L1209.1 1753.3L1209.3 1752.3L1209.5 1751.3L1209.7 1750.3L1209.9 1749.4L1210.1 1748.4L1210.3 1747.4L1210.5 1746.4L1210.7 1745.4L1210.9 1744.5L1211.1 1743.5L1211.3 1742.5L1211.4 1741.5L1211.6 1740.5L1211.8 1739.6L1212.0 1738.6L1212.2 1737.6L1212.4 1736.6L1212.6 1735.6L1212.8 1734.6L1212.9 1733.7L1213.1 1732.7L1213.3 1731.7L1213.5 1730.7L1213.7 1729.7L1213.9 1728.7L1214.1 1727.8L1214.2 1726.8L1214.4 1725.8L1214.6 1724.8L1214.8 1723.8L1215.0 1722.9L1215.2 1721.9L1215.4 1720.9L1215.6 1719.9L1215.8 1718.9L1216.0 1717.9L1216.2 1717.0L1216.4 1716.0L1216.6 1715.0L1216.8 1714.0L1217.0 1713.0L1217.2 1712.1L1217.4 1711.1L1217.6 1710.1L1217.8 1709.1L1218.0 1708.2L1218.2 1707.2L1218.4 1706.2L1218.6 1705.2L1218.8 1704.2L1219.0 1703.3L1219.2 1702.3L1219.4 1701.3L1219.6 1700.3L1219.8 1699.3L1220.0 1698.4L1220.1 1697.4L1220.3 1696.4L1220.5 1695.4L1220.7 1694.4L1220.9 1693.4L1221.1 1692.5L1221.2 1691.5L1221.4 1690.5L1221.6 1689.5L1221.7 1688.5L1221.9 1687.5L1222.1 1686.5L1222.2 1685.6L1222.4 1684.6L1222.6 1683.6L1222.7 1682.6L1222.9 1681.6L1223.1 1680.6L1223.2 1679.6L1223.4 1678.7L1223.6 1677.7L1223.7 1676.7L1223.9 1675.7L1224.1 1674.7L1224.2 1673.7L1224.4 1672.7L1224.6 1671.7L1224.7 1670.8L1224.9 1669.8L1225.0 1668.8L1225.2 1667.8L1225.4 1666.8L1225.5 1665.8L1225.7 1664.8L1225.9 1663.9L1226.0 1662.9L1226.2 1661.9L1226.4 1660.9L1226.5 1659.9L1226.7 1658.9L1226.9 1657.9L1227.0 1657.0L1227.2 1656.0L1227.3 1655.0L1227.5 1654.0L1227.7 1653.0L1227.8 1652.0L1228.0 1651.0L1228.2 1650.0L1228.3 1649.1L1228.5 1648.1L1228.6 1647.1L1228.8 1646.1L1229.0 1645.1L1229.1 1644.1L1229.3 1643.1L1229.4 1642.1L1229.6 1641.2L1229.7 1640.2L1229.9 1639.2L1230.1 1638.2L1230.2 1637.2L1230.4 1636.2L1230.5 1635.2L1230.7 1634.2L1230.8 1633.3L1231.0 1632.3L1231.2 1631.3L1231.3 1630.3L1231.5 1629.3L1231.6 1628.3L1231.8 1627.3L1231.9 1626.3L1232.1 1625.4L1232.3 1624.4L1232.4 1623.4L1232.6 1622.4L1232.7 1621.4L1232.9 1620.4L1233.0 1619.4L1233.2 1618.4L1233.4 1617.5L1233.5 1616.5L1233.7 1615.5L1233.8 1614.5L1234.0 1613.5L1234.1 1612.5L1234.3 1611.5L1234.5 1610.5L1234.6 1609.6L1234.8 1608.6L1234.9 1607.6L1235.1 1606.6L1235.2 1605.6L1235.4 1604.6L1235.6 1603.6L1235.7 1602.6L1235.9 1601.7L1236.0 1600.7L1236.2 1599.7L1236.4 1598.7L1236.5 1597.7L1236.7 1596.7L1236.8 1595.7L1237.0 1594.7L1237.1 1593.8L1237.3 1592.8L1237.5 1591.8L1237.6 1590.8L1237.8 1589.8L1237.9 1588.8L1238.1 1587.8L1238.3 1586.8L1238.4 1585.9L1238.6 1584.9L1238.7 1583.9L1238.9 1582.9L1239.1 1581.9L1239.2 1580.9L1239.4 1579.9L1239.5 1579.0L1239.7 1578.0L1239.9 1577.0L1240.0 1576.0L1240.2 1575.0L1240.3 1574.0L1240.5 1573.0L1240.6 1572.0L1240.8 1571.1L1241.0 1570.1L1241.1 1569.1L1241.3 1568.1L1241.4 1567.1L1241.6 1566.1L1241.8 1565.1L1241.9 1564.1L1242.1 1563.2L1242.2 1562.2L1242.4 1561.2L1242.5 1560.2L1242.7 1559.2L1242.9 1558.2L1243.0 1557.2L1243.2 1556.2L1243.3 1555.3L1243.5 1554.3L1243.6 1553.3L1243.8 1552.3L1244.0 1551.3L1244.1 1550.3L1244.3 1549.3L1244.4 1548.3L1244.6 1547.4L1244.7 1546.4L1244.9 1545.4L1245.1 1544.4L1245.2 1543.4L1245.4 1542.4L1245.5 1541.4L1245.7 1540.4L1245.8 1539.5L1246.0 1538.5L1246.2 1537.5L1246.3 1536.5L1246.5 1535.5L1246.6 1534.5L1246.8 1533.5L1246.9 1532.5L1247.1 1531.6L1247.3 1530.6L1247.4 1529.6L1247.6 1528.6L1247.7 1527.6L1247.9 1526.6L1248.0 1525.6L1248.2 1524.6L1248.4 1523.7L1248.5 1522.7L1248.7 1521.7L1248.8 1520.7L1249.0 1519.7L1249.2 1518.7L1249.3 1517.7L1249.5 1516.7L1249.6 1515.8L1249.8 1514.8L1250.0 1513.8L1250.1 1512.8L1250.3 1511.8L1250.4 1510.8L1250.6 1509.8L1250.7 1508.8L1250.9 1507.9L1251.1 1506.9L1251.2 1505.9L1251.4 1504.9L1251.5 1503.9L1251.7 1502.9L1251.9 1501.9L1252.0 1500.9L1252.2 1500.0L1252.3 1499.0L1252.5 1498.0L1252.7 1497.0L1252.8 1496.0L1253.0 1495.0L1253.1 1494.0L1253.3 1493.0L1253.5 1492.1L1253.6 1491.1L1253.8 1490.1L1253.9 1489.1L1254.1 1488.1L1254.3 1487.1L1254.4 1486.1L1254.6 1485.2L1254.8 1484.2L1254.9 1483.2L1255.1 1482.2L1255.3 1481.2L1255.5 1480.2L1255.6 1479.2L1255.8 1478.3L1256.0 1477.3L1256.2 1476.3L1256.4 1475.3L1256.6 1474.3L1256.8 1473.4L1257.0 1472.4L1257.2 1471.4L1257.3 1470.4L1257.5 1469.4L1257.7 1468.4L1257.9 1467.5L1258.1 1466.5L1258.3 1465.5L1258.5 1464.5L1258.7 1463.5L1258.9 1462.6L1259.1 1461.6L1259.3 1460.6L1259.5 1459.6L1259.7 1458.6L1259.9 1457.7L1260.1 1456.7L1260.3 1455.7L1260.5 1454.7L1260.7 1453.7L1260.9 1452.8L1261.1 1451.8L1261.3 1450.8L1261.4 1449.8L1261.6 1448.8L1261.8 1447.9L1262.0 1446.9L1262.2 1445.9L1262.4 1444.9L1262.6 1443.9L1262.8 1443.0L1263.0 1442.0L1263.2 1441.0L1263.4 1440.0L1263.6 1439.0L1263.8 1438.1L1264.0 1437.1L1264.2 1436.1L1264.4 1435.1L1264.6 1434.1L1264.8 1433.2L1265.0 1432.2L1265.2 1431.2L1265.4 1430.2L1265.6 1429.2L1265.8 1428.3L1266.0 1427.3L1266.2 1426.3L1266.4 1425.3L1266.6 1424.3L1266.8 1423.4L1267.0 1422.4L1267.2 1421.4L1267.4 1420.4L1267.6 1419.4L1267.8 1418.5L1268.0 1417.5L1268.2 1416.5L1268.4 1415.5L1268.6 1414.5L1268.7 1413.5L1268.9 1412.6L1269.1 1411.6L1269.3 1410.6L1269.4 1409.6L1269.6 1408.6L1269.8 1407.6L1269.9 1406.6L1270.1 1405.7L1270.3 1404.7L1270.4 1403.7L1270.6 1402.7L1270.8 1401.7L1270.9 1400.7L1271.1 1399.7L1271.3 1398.8L1271.4 1397.8L1271.6 1396.8L1271.8 1395.8L1272.0 1394.8L1272.2 1393.8L1272.4 1392.9L1272.6 1391.9L1272.8 1390.9L1273.0 1389.9L1273.2 1389.0L1273.5 1388.0L1273.7 1387.0L1274.0 1386.1L1274.2 1385.1L1274.5 1384.1L1274.7 1383.2L1275.0 1382.2L1275.3 1381.2L1275.6 1380.3L1275.8 1379.3L1276.1 1378.4L1276.4 1377.4L1276.7 1376.4L1276.9 1375.5L1277.2 1374.5L1277.5 1373.6L1277.8 1372.6L1278.0 1371.6L1278.3 1370.7L1278.6 1369.7L1278.9 1368.8L1279.1 1367.8L1279.4 1366.8L1279.7 1365.9L1280.0 1364.9L1280.2 1363.9L1280.5 1363.0L1280.8 1362.0L1281.1 1361.1L1281.3 1360.1L1281.6 1359.1L1281.9 1358.2L1282.2 1357.2L1282.4 1356.3L1282.7 1355.3L1283.0 1354.3L1283.3 1353.4L1283.6 1352.4L1283.9 1351.5L1284.2 1350.5L1284.5 1349.6L1284.8 1348.6L1285.2 1347.7L1285.5 1346.7L1285.8 1345.8L1286.1 1344.8L1286.5 1343.9L1286.8 1343.0L1287.2 1342.0L1287.5 1341.1L1287.9 1340.2L1288.2 1339.2L1288.6 1338.3L1289.0 1337.4L1289.4 1336.5L1289.8 1335.6L1290.2 1334.7L1290.6 1333.8L1291.0 1332.9L1291.5 1332.0L1292.0 1331.1L1292.5 1330.3L1293.0 1329.4L1293.5 1328.6L1294.1 1327.8L1294.6 1327.1L1295.3 1326.3L1295.9 1325.6L1296.5 1324.9L1297.2 1324.3L1298.0 1323.6L1298.7 1323.1L1299.5 1322.5L1300.3 1322.1L1301.1 1321.6L1301.9 1321.2L1302.8 1320.9L1303.6 1320.6L1304.5 1320.4L1305.4 1320.3L1306.3 1320.2L1307.2 1320.2L1308.1 1320.2L1309.0 1320.4L1309.8 1320.5L1310.7 1320.8L1311.5 1321.1L1312.4 1321.5L1313.2 1321.9L1314.0 1322.4L1314.7 1322.9L1315.5 1323.5L1316.2 1324.1L1316.9 1324.8L1317.5 1325.5L1318.2 1326.2L1318.8 1326.9L1319.4 1327.7L1320.0 1328.5L1320.6 1329.3L1321.2 1330.1L1321.8 1330.9L1322.3 1331.7L1322.9 1332.5L1323.4 1333.4L1323.9 1334.2L1324.4 1335.1L1324.9 1336.0L1325.4 1336.8L1325.9 1337.7L1326.3 1338.6L1326.8 1339.5L1327.2 1340.4L1327.7 1341.3L1328.1 1342.2L1328.5 1343.1L1328.9 1344.0L1329.3 1344.9L1329.7 1345.8L1330.1 1346.7L1330.5 1347.6L1330.9 1348.6L1331.3 1349.5L1331.6 1350.4L1332.0 1351.3L1332.4 1352.3L1332.8 1353.2L1333.2 1354.1L1333.5 1355.0L1333.9 1356.0L1334.3 1356.9L1334.6 1357.8L1335.0 1358.8L1335.3 1359.7L1335.7 1360.6L1336.0 1361.6L1336.3 1362.5L1336.6 1363.5L1336.9 1364.4L1337.2 1365.4L1337.5 1366.3L1337.8 1367.3L1338.1 1368.2L1338.4 1369.2L1338.7 1370.2L1339.0 1371.1L1339.3 1372.1L1339.5 1373.0L1339.8 1374.0L1340.1 1375.0L1340.4 1375.9L1340.6 1376.9L1340.9 1377.8L1341.2 1378.8L1341.4 1379.8L1341.7 1380.7L1341.9 1381.7L1342.2 1382.7L1342.4 1383.6L1342.6 1384.6L1342.9 1385.6L1343.1 1386.6L1343.3 1387.5L1343.5 1388.5L1343.7 1389.5L1343.9 1390.5L1344.1 1391.4L1344.3 1392.4L1344.5 1393.4L1344.7 1394.4L1344.8 1395.4L1345.0 1396.4L1345.2 1397.3L1345.4 1398.3L1345.5 1399.3L1345.7 1400.3L1345.9 1401.3L1346.1 1402.3L1346.2 1403.3L1346.4 1404.2L1346.6 1405.2L1346.8 1406.2L1346.9 1407.2L1347.1 1408.2L1347.3 1409.2L1347.5 1410.1L1347.6 1411.1L1347.8 1412.1L1348.0 1413.1L1348.2 1414.1L1348.4 1415.1L1348.6 1416.0L1348.8 1417.0L1349.0 1418.0L1349.2 1419.0L1349.4 1420.0L1349.6 1420.9L1349.8 1421.9L1350.1 1422.9L1350.3 1423.8L1350.5 1424.8L1350.8 1425.8L1351.1 1426.7L1351.3 1427.7L1351.6 1428.7L1351.9 1429.6L1352.1 1430.6L1352.4 1431.6L1352.7 1432.5L1352.9 1433.5L1353.2 1434.4L1353.4 1435.4L1353.7 1436.4L1353.9 1437.3L1354.2 1438.3L1354.4 1439.3L1354.7 1440.2L1354.9 1441.2L1355.2 1442.2L1355.4 1443.2L1355.7 1444.1L1355.9 1445.1L1356.2 1446.1L1356.4 1447.0L1356.6 1448.0L1356.9 1449.0L1357.1 1449.9L1357.4 1450.9L1357.6 1451.9L1357.9 1452.9L1358.1 1453.8L1358.3 1454.8L1358.6 1455.8L1358.8 1456.7L1359.1 1457.7L1359.3 1458.7L1359.6 1459.6L1359.8 1460.6L1360.1 1461.6L1360.3 1462.5L1360.6 1463.5L1360.8 1464.5L1361.1 1465.4L1361.4 1466.4L1361.7 1467.4L1361.9 1468.3L1362.2 1469.3L1362.5 1470.2L1362.8 1471.2L1363.0 1472.2L1363.3 1473.1L1363.6 1474.1L1363.9 1475.0L1364.2 1476.0L1364.5 1477.0L1364.8 1477.9L1365.0 1478.9L1365.3 1479.8L1365.6 1480.8L1365.9 1481.7L1366.2 1482.7L1366.5 1483.7L1366.8 1484.6L1367.1 1485.6L1367.3 1486.5L1367.6 1487.5L1367.9 1488.4L1368.2 1489.4L1368.5 1490.4L1368.8 1491.3L1369.1 1492.3L1369.4 1493.2L1369.7 1494.2L1370.0 1495.1L1370.3 1496.1L1370.6 1497.0L1371.0 1498.0L1371.3 1498.9L1371.6 1499.9L1371.9 1500.8L1372.3 1501.7L1372.6 1502.7L1373.0 1503.6L1373.3 1504.6L1373.6 1505.5L1374.0 1506.4L1374.3 1507.4L1374.7 1508.3L1375.0 1509.3L1375.4 1510.2L1375.7 1511.1L1376.1 1512.1L1376.5 1513.0L1376.8 1513.9L1377.2 1514.9L1377.5 1515.8L1377.9 1516.7L1378.3 1517.7L1378.6 1518.6L1379.0 1519.5L1379.4 1520.4L1379.8 1521.4L1380.2 1522.3L1380.6 1523.2L1381.0 1524.1L1381.4 1525.0L1381.8 1525.9L1382.3 1526.8L1382.7 1527.7L1383.2 1528.6L1383.6 1529.5L1384.1 1530.4L1384.5 1531.2L1385.0 1532.1L1385.5 1533.0L1385.9 1533.9L1386.4 1534.8L1386.9 1535.6L1387.4 1536.5L1387.9 1537.4L1388.4 1538.2L1388.9 1539.1L1389.4 1540.0L1389.9 1540.8L1390.4 1541.6L1391.0 1542.5L1391.5 1543.3L1392.1 1544.1L1392.7 1544.9L1393.3 1545.7L1393.9 1546.4L1394.6 1547.2L1395.2 1547.9L1395.9 1548.7L1396.6 1549.4L1397.3 1550.1L1398.0 1550.8L1398.7 1551.4L1399.4 1552.1L1400.2 1552.7L1400.9 1553.3L1401.7 1553.9L1402.5 1554.4L1403.3 1554.9L1404.2 1555.3L1405.0 1555.8L1405.9 1556.1L1406.8 1556.5L1407.7 1556.8L1408.6 1557.0L1409.5 1557.3L1410.5 1557.4L1411.4 1557.5L1412.4 1557.6L1413.3 1557.7L1414.3 1557.7L1415.2 1557.6L1416.2 1557.6L1417.2 1557.5L1418.1 1557.3L1419.1 1557.2L1420.1 1557.0L1421.0 1556.8L1422.0 1556.5L1422.9 1556.2L1423.9 1556.0L1424.8 1555.6L1425.7 1555.3L1426.7 1555.0L1427.6 1554.6L1428.5 1554.3L1429.4 1553.9L1430.4 1553.5L1431.3 1553.2L1432.2 1552.8L1433.1 1552.4L1434.0 1552.1L1435.0 1551.8L1435.9 1551.5L1436.9 1551.2L1437.8 1551.0L1438.7 1550.8L1439.7 1550.6L1440.6 1550.5L1441.6 1550.4L1442.5 1550.3L1443.5 1550.3L1444.4 1550.3L1445.3 1550.4L1446.3 1550.6L1447.2 1550.7L1448.1 1551.0L1449.0 1551.2L1449.8 1551.6L1450.7 1552.0L1451.5 1552.4L1452.4 1552.8L1453.2 1553.3L1454.0 1553.9L1454.8 1554.4L1455.5 1555.0L1456.2 1555.6L1456.9 1556.3L1457.6 1557.0L1458.3 1557.7L1458.9 1558.4L1459.5 1559.2L1460.1 1559.9L1460.7 1560.7L1461.2 1561.5L1461.8 1562.4L1462.3 1563.2L1462.8 1564.1L1463.3 1564.9L1463.8 1565.8L1464.3 1566.7L1464.7 1567.5L1465.2 1568.4L1465.6 1569.3L1466.1 1570.2L1466.5 1571.1L1466.9 1572.0L1467.3 1572.9L1467.7 1573.8L1468.1 1574.8L1468.5 1575.7L1468.9 1576.6L1469.3 1577.5L1469.6 1578.4L1470.0 1579.4L1470.4 1580.3L1470.7 1581.2L1471.1 1582.2L1471.5 1583.1L1471.8 1584.0L1472.2 1585.0L1472.6 1585.9L1472.9 1586.8L1473.3 1587.8L1473.7 1588.7L1474.0 1589.6L1474.4 1590.5L1474.8 1591.5L1475.1 1592.4L1475.5 1593.3L1475.9 1594.3L1476.3 1595.2L1476.6 1596.1L1477.0 1597.0L1477.4 1598.0L1477.8 1598.9L1478.2 1599.8L1478.5 1600.7L1478.9 1601.7L1479.3 1602.6L1479.7 1603.5L1480.1 1604.4L1480.4 1605.4L1480.8 1606.3L1481.2 1607.2L1481.5 1608.2L1481.9 1609.1L1482.2 1610.0L1482.6 1611.0L1482.9 1611.9L1483.2 1612.8L1483.5 1613.8L1483.9 1614.7L1484.2 1615.7L1484.5 1616.6L1484.8 1617.6L1485.1 1618.6L1485.4 1619.5L1485.7 1620.5L1485.9 1621.4L1486.2 1622.4L1486.5 1623.3L1486.8 1624.3L1487.1 1625.3L1487.4 1626.2L1487.6 1627.2L1487.9 1628.1L1488.2 1629.1L1488.5 1630.1L1488.8 1631.0L1489.1 1632.0L1489.3 1632.9L1489.6 1633.9L1489.9 1634.8L1490.2 1635.8L1490.5 1636.8L1490.8 1637.7L1491.1 1638.7L1491.4 1639.6L1491.6 1640.6L1491.9 1641.5L1492.2 1642.5L1492.5 1643.5L1492.8 1644.4L1493.1 1645.4L1493.4 1646.3L1493.7 1647.3L1494.0 1648.2L1494.3 1649.2L1494.7 1650.1L1495.0 1651.1L1495.3 1652.0L1495.6 1653.0L1495.9 1653.9L1496.2 1654.9L1496.5 1655.8L1496.8 1656.8L1497.1 1657.7L1497.4 1658.7L1497.7 1659.6L1498.0 1660.6L1498.3 1661.6L1498.6 1662.5L1498.9 1663.5L1499.2 1664.4L1499.5 1665.4L1499.8 1666.3L1500.2 1667.3L1500.5 1668.2L1500.8 1669.2L1501.1 1670.1L1501.4 1671.1L1501.7 1672.0L1502.0 1673.0L1502.3 1673.9L1502.6 1674.9L1502.9 1675.8L1503.2 1676.8L1503.5 1677.7L1503.8 1678.7L1504.1 1679.6L1504.4 1680.6L1504.7 1681.6L1505.0 1682.5L1505.3 1683.5L1505.6 1684.4L1505.9 1685.4L1506.2 1686.3L1506.5 1687.3L1506.8 1688.2L1507.1 1689.2L1507.4 1690.1L1507.7 1691.1L1508.0 1692.0L1508.3 1693.0L1508.6 1693.9L1508.9 1694.9L1509.2 1695.9L1509.5 1696.8L1509.9 1697.8L1510.2 1698.7L1510.5 1699.7L1510.8 1700.6L1511.1 1701.6L1511.4 1702.5L1511.7 1703.5L1512.0 1704.4L1512.3 1705.4L1512.6 1706.3L1512.9 1707.3L1513.2 1708.2L1513.5 1709.2L1513.8 1710.1L1514.1 1711.1L1514.5 1712.0L1514.8 1713.0L1515.1 1713.9L1515.4 1714.9L1515.7 1715.8L1516.1 1716.8L1516.4 1717.7L1516.7 1718.7L1517.0 1719.6L1517.4 1720.5L1517.7 1721.5L1518.1 1722.4L1518.4 1723.4L1518.7 1724.3L1519.1 1725.2L1519.4 1726.2L1519.8 1727.1L1520.1 1728.1L1520.5 1729.0L1520.8 1729.9L1521.2 1730.9L1521.5 1731.8L1521.9 1732.7L1522.3 1733.7L1522.6 1734.6L1523.0 1735.5L1523.4 1736.4L1523.8 1737.4L1524.1 1738.3L1524.5 1739.2L1524.9 1740.1L1525.3 1741.0L1525.7 1742.0L1526.1 1742.9L1526.5 1743.8L1526.9 1744.7L1527.4 1745.6L1527.8 1746.5L1528.2 1747.4L1528.6 1748.4L1529.0 1749.3L1529.4 1750.2L1529.8 1751.1L1530.2 1752.0L1530.6 1752.9L1531.0 1753.8L1531.4 1754.7L1531.8 1755.7L1532.2 1756.6L1532.6 1757.5L1533.0 1758.4L1533.4 1759.3L1533.8 1760.3L1534.2 1761.2L1534.6 1762.1L1534.9 1763.0L1535.3 1764.0L1535.7 1764.9L1536.0 1765.8L1536.4 1766.8L1536.7 1767.7L1537.0 1768.6L1537.4 1769.6L1537.7 1770.5L1538.0 1771.5L1538.3 1772.4L1538.6 1773.4L1539.0 1774.3L1539.3 1775.3L1539.6 1776.2L1539.9 1777.2L1540.2 1778.1L1540.5 1779.1L1540.8 1780.0L1541.1 1781.0L1541.5 1781.9L1541.8 1782.9L1542.1 1783.8L1542.4 1784.7L1542.8 1785.7L1543.1 1786.6L1543.4 1787.6L1543.8 1788.5L1544.1 1789.5L1544.4 1790.4L1544.8 1791.3L1545.1 1792.3L1545.4 1793.2L1545.8 1794.2L1546.1 1795.1L1546.5 1796.0L1546.8 1797.0L1547.2 1797.9L1547.5 1798.9L1547.8 1799.8L1548.2 1800.7L1548.5 1801.7L1548.9 1802.6L1549.2 1803.6L1549.6 1804.5L1550.0 1805.4L1550.3 1806.4L1550.7 1807.3L1551.0 1808.2L1551.4 1809.1L1551.8 1810.1L1552.1 1811.0L1552.5 1811.9L1552.9 1812.9L1553.3 1813.8L1553.6 1814.7L1554.0 1815.6L1554.4 1816.6L1554.8 1817.5L1555.1 1818.4L1555.5 1819.3L1555.9 1820.3L1556.3 1821.2L1556.7 1822.1L1557.1 1823.0L1557.5 1823.9L1558.0 1824.8L1558.4 1825.7L1558.8 1826.6L1559.3 1827.5L1559.7 1828.4L1560.2 1829.3L1560.6 1830.2L1561.1 1831.1L1561.6 1831.9L1562.1 1832.8L1562.5 1833.7L1563.0 1834.6L1563.5 1835.4L1564.0 1836.3L1564.5 1837.2L1565.0 1838.0L1565.5 1838.9L1566.1 1839.7L1566.6 1840.6L1567.1 1841.4L1567.7 1842.3L1568.2 1843.1L1568.8 1843.9L1569.3 1844.7L1569.9 1845.6L1570.5 1846.4L1571.1 1847.2L1571.7 1848.0L1572.3 1848.8L1572.9 1849.6L1573.5 1850.4L1574.1 1851.1L1574.7 1851.9L1575.3 1852.7L1576.0 1853.5L1576.6 1854.2L1577.3 1855.0L1577.9 1855.7L1578.6 1856.5L1579.3 1857.2L1580.0 1857.9L1580.7 1858.6L1581.4 1859.3L1582.1 1860.0L1582.8 1860.7L1583.6 1861.3L1584.3 1862.0L1585.1 1862.6L1585.9 1863.2L1586.6 1863.9L1587.4 1864.5L1588.2 1865.0L1589.0 1865.6L1589.8 1866.2L1590.7 1866.7L1591.5 1867.2L1592.4 1867.7L1593.2 1868.2L1594.1 1868.6L1595.0 1869.1L1595.9 1869.5L1596.8 1869.9L1597.7 1870.3L1598.6 1870.7L1599.5 1871.0L1600.5 1871.4L1601.4 1871.8L1602.3 1872.1L1603.3 1872.4L1604.2 1872.7L1605.2 1873.0L1606.1 1873.3L1607.1 1873.6L1608.0 1873.9L1609.0 1874.2L1610.0 1874.5L1610.9 1874.8L1611.9 1875.0L1612.8 1875.3L1613.8 1875.5L1614.8 1875.8L1615.7 1876.1L1616.7 1876.3L1617.7 1876.6L1618.6 1876.8L1619.6 1877.1L1620.6 1877.3L1621.6 1877.6L1622.5 1877.8L1623.5 1878.1L1624.5 1878.3L1625.4 1878.5L1626.4 1878.8L1627.4 1879.0L1628.3 1879.3L1629.3 1879.5L1630.3 1879.7L1631.3 1880.0L1632.2 1880.2L1633.2 1880.4L1634.2 1880.6L1635.2 1880.9L1636.1 1881.1L1637.1 1881.3L1638.1 1881.5L1639.1 1881.7L1640.0 1881.9L1641.0 1882.1L1642.0 1882.3L1643.0 1882.5L1644.0 1882.7L1645.0 1882.8L1645.9 1883.0L1646.9 1883.2L1647.9 1883.4L1648.9 1883.5L1649.9 1883.7L1650.9 1883.8L1651.9 1883.9L1652.8 1884.1L1653.8 1884.2L1654.8 1884.3L1655.8 1884.4L1656.8 1884.5L1657.8 1884.6L1658.8 1884.7L1659.8 1884.8L1660.8 1884.9L1661.8 1884.9L1662.8 1885.0L1663.8 1885.1L1664.8 1885.1L1665.8 1885.2L1666.8 1885.3L1667.8 1885.3L1668.8 1885.4L1669.8 1885.4L1670.8 1885.5L1671.8 1885.5L1672.8 1885.5L1673.8 1885.6L1674.8 1885.6L1675.8 1885.6L1676.8 1885.7L1677.8 1885.7L1678.8 1885.7L1679.8 1885.7L1680.8 1885.8L1681.8 1885.8L1682.8 1885.8L1683.8 1885.8L1684.8 1885.9L1685.8 1885.9L1686.8 1885.9L1687.8 1885.9L1688.8 1885.9L1689.8 1885.9L1690.8 1886.0L1691.8 1886.0L1692.8 1886.0L1693.8 1886.0L1694.8 1886.0L1695.8 1886.0L1696.8 1886.0L1697.8 1886.0L1698.8 1886.0L1699.8 1886.0L1700.8 1886.0L1701.8 1886.0L1702.8 1886.0L1703.8 1886.0L1704.8 1886.0L1705.8 1886.0L1706.8 1886.0L1707.8 1886.0L1708.8 1886.0L1709.8 1886.0L1710.8 1886.0L1711.8 1886.0L1712.8 1886.0L1713.8 1886.0L1714.8 1886.0L1715.8 1886.0L1716.8 1886.0L1717.8 1886.0L1718.8 1886.0L1719.8 1886.0L1720.8 1886.0L1721.8 1886.0L1722.8 1886.0L1723.8 1886.0L1724.8 1886.0L1725.8 1886.0L1726.8 1885.9L1727.8 1885.9L1728.8 1885.9L1729.8 1885.9L1730.8 1885.9L1731.8 1885.8L1732.8 1885.8L1733.8 1885.8L1734.8 1885.7L1735.8 1885.7L1736.8 1885.6L1737.8 1885.6L1738.8 1885.6L1739.8 1885.5L1740.8 1885.5L1741.8 1885.4L1742.8 1885.4L1743.7 1885.3L1744.7 1885.3L1745.7 1885.2L1746.7 1885.2L1747.7 1885.1L1748.7 1885.1L1749.7 1885.0L1750.7 1885.0L1751.7 1884.9L1752.7 1884.9L1753.7 1884.8L1754.7 1884.8L1755.7 1884.8L1756.7 1884.7L1757.7 1884.7L1758.7 1884.6L1759.7 1884.6L1760.7 1884.5L1761.7 1884.5L1762.7 1884.4L1763.7 1884.4L1764.7 1884.3L1765.7 1884.3L1766.7 1884.2L1767.7 1884.2L1768.7 1884.1L1769.7 1884.1L1770.7 1884.0L1771.7 1884.0L1772.7 1883.9L1773.7 1883.9L1774.7 1883.8L1775.7 1883.8L1776.7 1883.7L1777.7 1883.7L1778.7 1883.6L1779.7 1883.6L1780.7 1883.6L1781.7 1883.5L1782.7 1883.5L1783.7 1883.4L1784.7 1883.4L1785.7 1883.4L1786.7 1883.3L1787.7 1883.3L1788.7 1883.3L1789.7 1883.2L1790.7 1883.2L1791.7 1883.2L1792.7 1883.2L1793.7 1883.2L1794.7 1883.2L1795.7 1883.3L1796.7 1883.3L1797.7 1883.3L1798.7 1883.4L1799.7 1883.4L1800.7 1883.4L1801.7 1883.5L1802.7 1883.5L1803.7 1883.6L1804.7 1883.6L1805.7 1883.7L1806.7 1883.7L1807.7 1883.7L1808.7 1883.8L1809.7 1883.8L1810.7 1883.9L1811.7 1883.9L1812.7 1884.0L1813.7 1884.0L1814.7 1884.1L1815.7 1884.1L1816.7 1884.2L1817.7 1884.2L1818.7 1884.3L1819.7 1884.3L1820.7 1884.4L1821.7 1884.4L1822.7 1884.5L1823.7 1884.5L1824.7 1884.6L1825.7 1884.6L1826.7 1884.7L1827.7 1884.7L1828.7 1884.8L1829.7 1884.8L1830.6 1884.8L1831.6 1884.9L1832.6 1884.9L1833.6 1885.0L1834.6 1885.0L1835.6 1885.1L1836.6 1885.1L1837.6 1885.2L1838.6 1885.2L1839.6 1885.3L1840.6 1885.3L1841.6 1885.4L1842.6 1885.4L1843.6 1885.5L1844.6 1885.5L1845.6 1885.6L1846.6 1885.6L1847.6 1885.6L1848.6 1885.7L1849.6 1885.7L1850.6 1885.8L1851.6 1885.8L1852.6 1885.8L1853.6 1885.9L1854.6 1885.9L1855.6 1885.9L1856.6 1885.9L1857.6 1885.9L1858.6 1886.0L1859.6 1886.0L1860.6 1886.0L1861.6 1886.0L1862.6 1886.0L1863.6 1886.0L1864.6 1886.0L1865.6 1886.0L1866.6 1886.0L1867.6 1886.0L1868.6 1886.0L1869.6 1886.0L1870.6 1886.0L1871.6 1886.0L1872.6 1886.0L1873.6 1886.0L1874.6 1886.0L1875.6 1886.0L1876.6 1886.0L1877.6 1886.0L1878.6 1886.0L1879.5 1886.0L1880.5 1886.0L1881.4 1886.0L1882.3 1886.0L1883.2 1886.0L1884.0 1886.0L1884.8 1886.0L1885.5 1886.0L1886.2 1886.0L1886.9 1886.0L1887.4 1886.0L1927.0 1886.0" fill="none" stroke="#da2d26" stroke-width="6.6" stroke-linejoin="round" stroke-linecap="butt"/>
<line x1="1439.1" y1="263.6" x2="1443.4" y2="1548" stroke="#141414" stroke-width="6" stroke-dasharray="14 7.5"/>
<line x1="1209.3" y1="187.8" x2="1367" y2="222.5" stroke="#141414" stroke-width="5.5" stroke-dasharray="14 7.5"/>
<line x1="1230.5" y1="341.3" x2="1344" y2="375.6" stroke="#141414" stroke-width="5.5" stroke-dasharray="14 7.5"/>
<line x1="1198.7" y1="736" x2="1311.5" y2="771.8" stroke="#141414" stroke-width="5.5" stroke-dasharray="14 7.5"/>
<line x1="1209.1" y1="1066.2" x2="1322.5" y2="1100.4" stroke="#141414" stroke-width="5.5" stroke-dasharray="14 7.5"/>
<line x1="1198.7" y1="1275.1" x2="1313.5" y2="1309.7" stroke="#141414" stroke-width="5.5" stroke-dasharray="14 7.5"/>
<rect x="104" y="53.3" width="1823.5" height="1871.2" fill="none" stroke="#111" stroke-width="6.5"/>
<line x1="103.7" y1="1924" x2="103.7" y2="1943.5" stroke="#111" stroke-width="6.5"/>
<line x1="371.8" y1="1924" x2="371.8" y2="1943.5" stroke="#111" stroke-width="6.5"/>
<line x1="639.9" y1="1924" x2="639.9" y2="1943.5" stroke="#111" stroke-width="6.5"/>
<line x1="907.9" y1="1924" x2="907.9" y2="1943.5" stroke="#111" stroke-width="6.5"/>
<line x1="1176.0" y1="1924" x2="1176.0" y2="1943.5" stroke="#111" stroke-width="6.5"/>
<line x1="1444.1" y1="1924" x2="1444.1" y2="1943.5" stroke="#111" stroke-width="6.5"/>
<line x1="1712.2" y1="1924" x2="1712.2" y2="1943.5" stroke="#111" stroke-width="6.5"/>
<line x1="1926.6" y1="1924" x2="1926.6" y2="1943.5" stroke="#111" stroke-width="6.5"/>
<text transform="translate(28.3 2051) scale(0.95 1)" font-family="'Liberation Sans', Arial, sans-serif" font-weight="bold" font-size="75" fill="#111">400</text>
<text transform="translate(314.2 2051) scale(0.95 1)" font-family="'Liberation Sans', Arial, sans-serif" font-weight="bold" font-size="75" fill="#111">350</text>
<text transform="translate(595.2 2051) scale(0.95 1)" font-family="'Liberation Sans', Arial, sans-serif" font-weight="bold" font-size="75" fill="#111">300</text>
<text transform="translate(852.2 2051) scale(0.95 1)" font-family="'Liberation Sans', Arial, sans-serif" font-weight="bold" font-size="75" fill="#111">250</text>
<text transform="translate(1130.0 2051) scale(0.95 1)" font-family="'Liberation Sans', Arial, sans-serif" font-weight="bold" font-size="75" fill="#111">200</text>
<text transform="translate(1394.6 2051) scale(0.95 1)" font-family="'Liberation Sans', Arial, sans-serif" font-weight="bold" font-size="75" fill="#111">150</text>
<text transform="translate(1662.5 2051) scale(0.95 1)" font-family="'Liberation Sans', Arial, sans-serif" font-weight="bold" font-size="75" fill="#111">100</text>
<text transform="translate(1898.9 2051) scale(0.95 1)" font-family="'Liberation Sans', Arial, sans-serif" font-weight="bold" font-size="75" fill="#111">60</text>
<text transform="translate(661.7 2156) scale(0.987 1)" font-family="'Liberation Sans', Arial, sans-serif" font-weight="bold" font-size="72.8" fill="#111">Raman shift (cm<tspan x="566.7" dy="-36.5" font-size="33">-1</tspan><tspan x="601.8" dy="36.5">)</tspan></text>
<text transform="translate(1079.6 185.5) scale(0.95 1)" font-family="'Liberation Sans', Arial, sans-serif" font-weight="bold" font-size="81" fill="#009444">167</text>
<text transform="translate(1079.6 359.7) scale(0.95 1)" font-family="'Liberation Sans', Arial, sans-serif" font-weight="bold" font-size="81" fill="#2a1678">171</text>
<text transform="translate(1068.6 733.3) scale(0.95 1)" font-family="'Liberation Sans', Arial, sans-serif" font-weight="bold" font-size="81" fill="#a3457c">178</text>
<text transform="translate(1068.6 1073.8) scale(0.95 1)" font-family="'Liberation Sans', Arial, sans-serif" font-weight="bold" font-size="81" fill="#0a90d0">175</text>
<text transform="translate(1068.6 1283.3) scale(0.95 1)" font-family="'Liberation Sans', Arial, sans-serif" font-weight="bold" font-size="81" fill="#e8261f">178</text>
<text transform="translate(1456.0 255.5) scale(0.95 1)" font-family="'Liberation Sans', Arial, sans-serif" font-weight="bold" font-size="81" fill="#181010">151</text>
<line x1="249.2" y1="269.6" x2="374.2" y2="269.6" stroke="#008a52" stroke-width="7"/>
<text x="443" y="288.2" font-family="'Liberation Sans', Arial, sans-serif" font-size="64.5" fill="#161212">Pristine</text>
<line x1="249.2" y1="361.4" x2="374.2" y2="361.4" stroke="#2a1c5e" stroke-width="7"/>
<text x="443.2" y="386.3" font-family="'Liberation Sans', Arial, sans-serif" font-size="64.5" fill="#161212">Chlorinated</text>
<line x1="249.2" y1="454.9" x2="374.2" y2="454.9" stroke="#c0709f" stroke-width="7"/>
<text x="449" y="481" font-family="'Liberation Sans', Arial, sans-serif" font-size="64.5" fill="#161212">N-arylated</text>
<line x1="249.2" y1="539.3" x2="374.2" y2="539.3" stroke="#3e6fa0" stroke-width="7"/>
<text x="448" y="568.9" font-family="'Liberation Sans', Arial, sans-serif" font-size="64.5" fill="#161212">C-arylated</text>
<line x1="249.2" y1="639" x2="374.2" y2="639" stroke="#e06a55" stroke-width="7"/>
<text x="449" y="663.3" font-family="'Liberation Sans', Arial, sans-serif" font-size="64.5" fill="#161212">O-arylated</text>
</svg>
</body></html>
